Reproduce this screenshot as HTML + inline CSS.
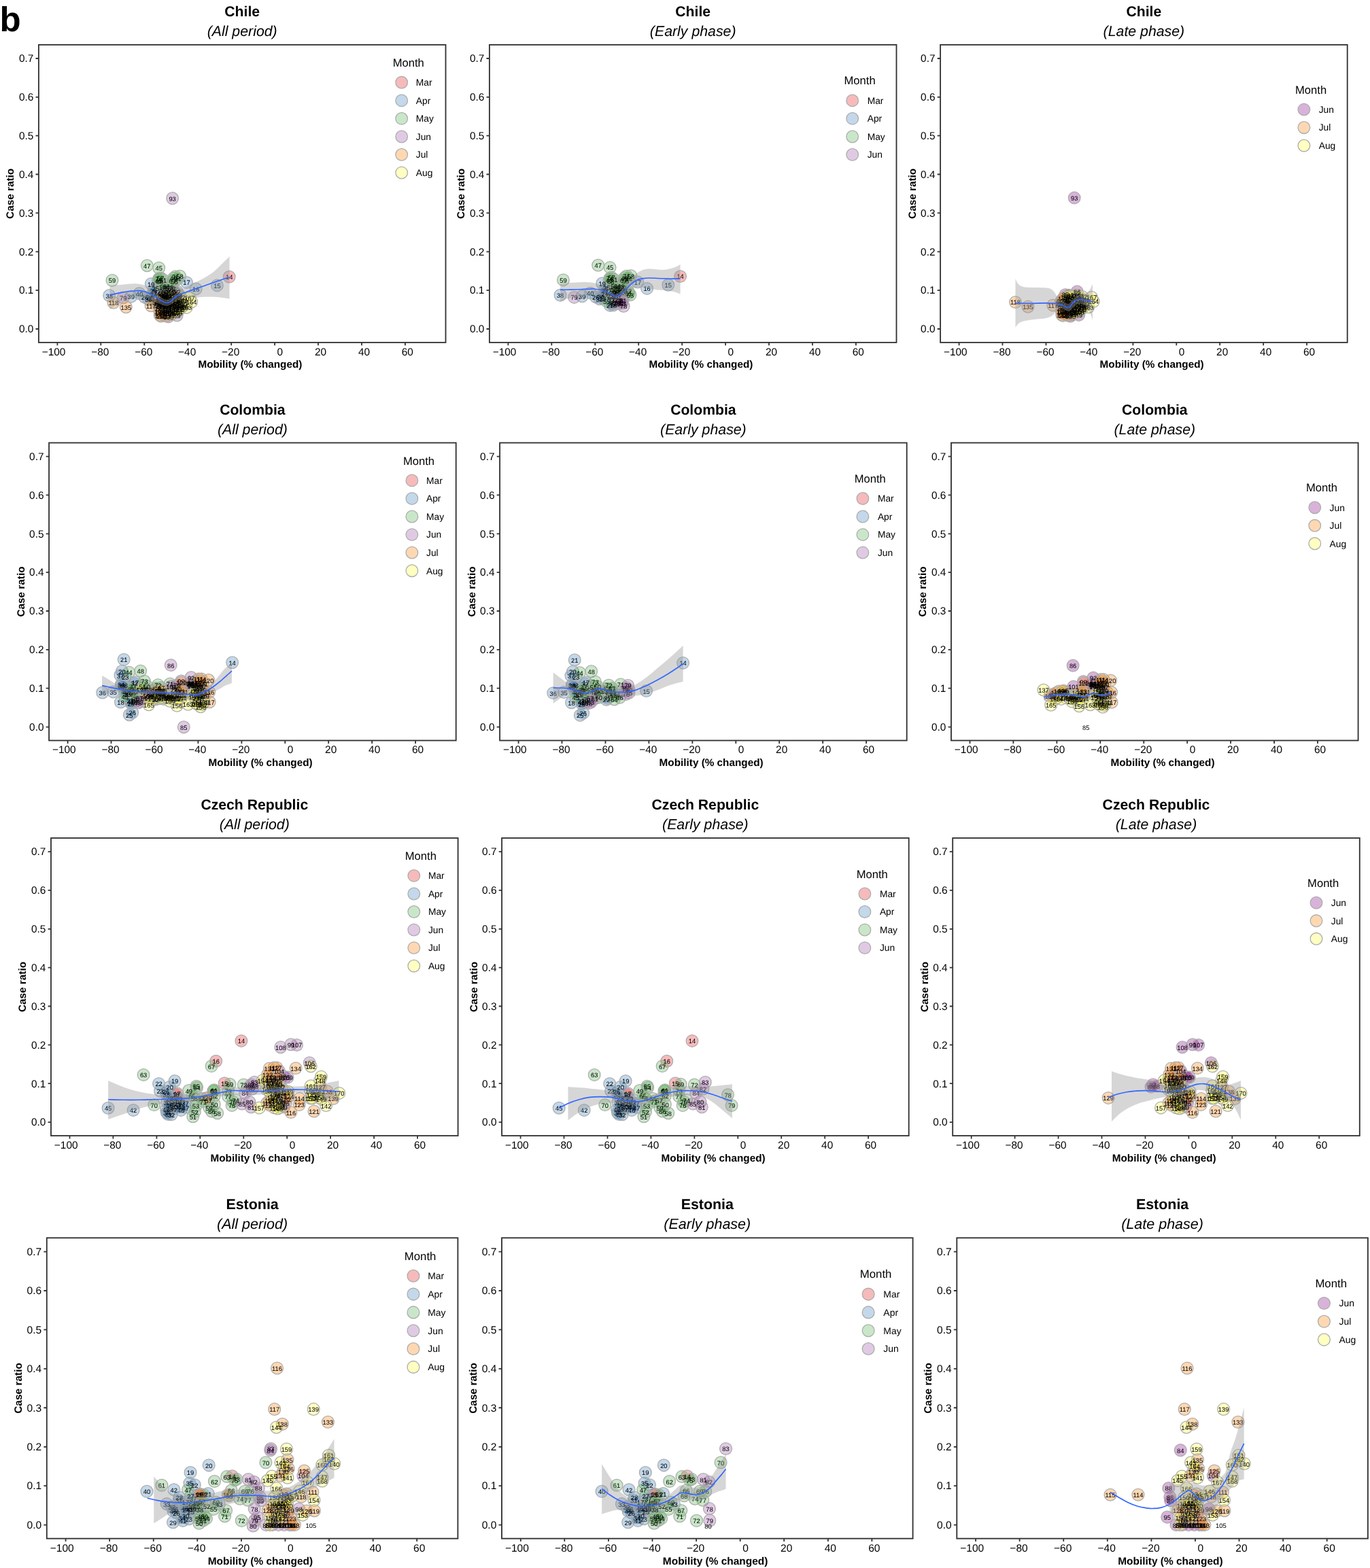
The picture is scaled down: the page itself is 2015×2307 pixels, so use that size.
<!DOCTYPE html>
<html lang="en"><head><meta charset="utf-8"><title>Mobility vs case ratio</title>
<style>html,body{margin:0;padding:0;background:#fff}svg{display:block}text{font-family:"Liberation Sans",Arial,Helvetica,sans-serif;fill:#000;text-rendering:geometricPrecision}.tl{font-size:15.4px}.at{font-size:15.3px;font-weight:bold}.ti{font-size:21.2px;font-weight:bold}.st{font-size:21.3px;font-style:italic}.lt{font-size:16.6px}.ll{font-size:13.8px}.pl text{font-size:9.3px;text-anchor:middle;stroke:#000;stroke-width:0.04px}.pl text.c{fill-opacity:0.93}.big{font-size:51px;font-weight:bold}</style></head><body>
<svg width="2015" height="2307" viewBox="0 0 2015 2307">
<rect width="2015" height="2307" fill="#fff"/>
<text class="big" x="-0.6" y="45.9">b</text>
<g transform="translate(56.9,65.9) scale(1.0)">
<g fill-opacity="0.3" stroke="#adadad" stroke-width="1.25">
<circle cx="280.3" cy="341.3" r="8.85" fill="#E41A1C"/>
<circle cx="262.5" cy="354" r="8.85" fill="#377EB8"/>
<circle cx="231.3" cy="359.1" r="8.85" fill="#377EB8"/>
<circle cx="217.6" cy="349.7" r="8.85" fill="#377EB8"/>
<circle cx="181.6" cy="383.8" r="8.85" fill="#377EB8"/>
<circle cx="165.4" cy="351.7" r="8.85" fill="#377EB8"/>
<circle cx="187" cy="370.8" r="8.85" fill="#377EB8"/>
<circle cx="169.4" cy="366.8" r="8.85" fill="#377EB8"/>
<circle cx="177.6" cy="370" r="8.85" fill="#377EB8"/>
<circle cx="166.2" cy="373.5" r="8.85" fill="#377EB8"/>
<circle cx="174.1" cy="364.7" r="8.85" fill="#377EB8"/>
<circle cx="172.1" cy="357.7" r="8.85" fill="#377EB8"/>
<circle cx="156" cy="371.4" r="8.85" fill="#377EB8"/>
<circle cx="177" cy="384.1" r="8.85" fill="#377EB8"/>
<circle cx="186" cy="381.5" r="8.85" fill="#377EB8"/>
<circle cx="180.9" cy="366" r="8.85" fill="#377EB8"/>
<circle cx="168.9" cy="361.9" r="8.85" fill="#377EB8"/>
<circle cx="179.1" cy="375.5" r="8.85" fill="#377EB8"/>
<circle cx="184" cy="375.9" r="8.85" fill="#377EB8"/>
<circle cx="161.5" cy="374.5" r="8.85" fill="#377EB8"/>
<circle cx="181.2" cy="369.2" r="8.85" fill="#377EB8"/>
<circle cx="179.5" cy="381.9" r="8.85" fill="#377EB8"/>
<circle cx="163.8" cy="371.2" r="8.85" fill="#377EB8"/>
<circle cx="185.6" cy="368.5" r="8.85" fill="#377EB8"/>
<circle cx="103.8" cy="368.9" r="8.85" fill="#377EB8"/>
<circle cx="135.9" cy="370.5" r="8.85" fill="#377EB8"/>
<circle cx="148" cy="365.8" r="8.85" fill="#377EB8"/>
<circle cx="169.6" cy="364.2" r="8.85" fill="#377EB8"/>
<circle cx="182.7" cy="380.2" r="8.85" fill="#377EB8"/>
<circle cx="184.5" cy="370.8" r="8.85" fill="#377EB8"/>
<circle cx="178" cy="367" r="8.85" fill="#377EB8"/>
<circle cx="176.8" cy="328.3" r="8.85" fill="#4DAF4A"/>
<circle cx="175.7" cy="346.9" r="8.85" fill="#4DAF4A"/>
<circle cx="159.4" cy="324.9" r="8.85" fill="#4DAF4A"/>
<circle cx="193.2" cy="355.8" r="8.85" fill="#4DAF4A"/>
<circle cx="198.3" cy="343.5" r="8.85" fill="#4DAF4A"/>
<circle cx="196.9" cy="362.8" r="8.85" fill="#4DAF4A"/>
<circle cx="183" cy="345.8" r="8.85" fill="#4DAF4A"/>
<circle cx="203.6" cy="363.1" r="8.85" fill="#4DAF4A"/>
<circle cx="182.9" cy="356.2" r="8.85" fill="#4DAF4A"/>
<circle cx="204.2" cy="344.5" r="8.85" fill="#4DAF4A"/>
<circle cx="172.2" cy="378.1" r="8.85" fill="#4DAF4A"/>
<circle cx="199.8" cy="348.1" r="8.85" fill="#4DAF4A"/>
<circle cx="179.1" cy="342.8" r="8.85" fill="#4DAF4A"/>
<circle cx="207.6" cy="340.3" r="8.85" fill="#4DAF4A"/>
<circle cx="108.1" cy="346.6" r="8.85" fill="#4DAF4A"/>
<circle cx="185.2" cy="362.8" r="8.85" fill="#4DAF4A"/>
<circle cx="204.5" cy="366.3" r="8.85" fill="#4DAF4A"/>
<circle cx="182.5" cy="359.9" r="8.85" fill="#4DAF4A"/>
<circle cx="206.7" cy="368.4" r="8.85" fill="#4DAF4A"/>
<circle cx="192.9" cy="360.2" r="8.85" fill="#4DAF4A"/>
<circle cx="190" cy="364.5" r="8.85" fill="#4DAF4A"/>
<circle cx="187.7" cy="355.7" r="8.85" fill="#4DAF4A"/>
<circle cx="197" cy="347.1" r="8.85" fill="#4DAF4A"/>
<circle cx="178" cy="348.5" r="8.85" fill="#4DAF4A"/>
<circle cx="188.6" cy="367.7" r="8.85" fill="#4DAF4A"/>
<circle cx="193.6" cy="365.1" r="8.85" fill="#4DAF4A"/>
<circle cx="201.2" cy="341" r="8.85" fill="#4DAF4A"/>
<circle cx="196.3" cy="358.2" r="8.85" fill="#4DAF4A"/>
<circle cx="186.2" cy="365.9" r="8.85" fill="#4DAF4A"/>
<circle cx="176.7" cy="344.1" r="8.85" fill="#4DAF4A"/>
<circle cx="186.4" cy="358.6" r="8.85" fill="#4DAF4A"/>
<circle cx="191.6" cy="377" r="8.85" fill="#984EA3"/>
<circle cx="188.4" cy="377" r="8.85" fill="#984EA3"/>
<circle cx="196.9" cy="385.2" r="8.85" fill="#984EA3"/>
<circle cx="124.3" cy="372.1" r="8.85" fill="#984EA3"/>
<circle cx="191.3" cy="381.1" r="8.85" fill="#984EA3"/>
<circle cx="196" cy="376.5" r="8.85" fill="#984EA3"/>
<circle cx="189" cy="379.5" r="8.85" fill="#984EA3"/>
<circle cx="195" cy="380.5" r="8.85" fill="#984EA3"/>
<circle cx="187.1" cy="393.4" r="8.85" fill="#984EA3"/>
<circle cx="183.5" cy="368.3" r="8.85" fill="#984EA3"/>
<circle cx="200.7" cy="363.7" r="8.85" fill="#984EA3"/>
<circle cx="200.5" cy="388.9" r="8.85" fill="#984EA3"/>
<circle cx="196.7" cy="375.7" r="8.85" fill="#984EA3"/>
<circle cx="203.3" cy="398.1" r="8.85" fill="#984EA3"/>
<circle cx="188.8" cy="386.9" r="8.85" fill="#984EA3"/>
<circle cx="194.7" cy="396.9" r="8.85" fill="#984EA3"/>
<circle cx="195.6" cy="390.9" r="8.85" fill="#984EA3"/>
<circle cx="196.7" cy="225.8" r="8.85" fill="#984EA3"/>
<circle cx="185.4" cy="375.1" r="8.85" fill="#984EA3"/>
<circle cx="201.4" cy="375.2" r="8.85" fill="#984EA3"/>
<circle cx="191.6" cy="379.9" r="8.85" fill="#984EA3"/>
<circle cx="195.8" cy="386.3" r="8.85" fill="#984EA3"/>
<circle cx="187.4" cy="380.2" r="8.85" fill="#984EA3"/>
<circle cx="191.8" cy="392.2" r="8.85" fill="#984EA3"/>
<circle cx="199.5" cy="394.3" r="8.85" fill="#984EA3"/>
<circle cx="203.7" cy="382.9" r="8.85" fill="#984EA3"/>
<circle cx="183.9" cy="385" r="8.85" fill="#984EA3"/>
<circle cx="188.4" cy="368.9" r="8.85" fill="#984EA3"/>
<circle cx="190" cy="395.2" r="8.85" fill="#984EA3"/>
<circle cx="190.8" cy="400" r="8.85" fill="#984EA3"/>
<circle cx="177.9" cy="392.6" r="8.85" fill="#FF7F00"/>
<circle cx="178.2" cy="383.1" r="8.85" fill="#FF7F00"/>
<circle cx="178.6" cy="388.1" r="8.85" fill="#FF7F00"/>
<circle cx="177.6" cy="377.3" r="8.85" fill="#FF7F00"/>
<circle cx="183.6" cy="371.6" r="8.85" fill="#FF7F00"/>
<circle cx="182.6" cy="396.3" r="8.85" fill="#FF7F00"/>
<circle cx="185.1" cy="387.9" r="8.85" fill="#FF7F00"/>
<circle cx="187.9" cy="399" r="8.85" fill="#FF7F00"/>
<circle cx="180.1" cy="399.3" r="8.85" fill="#FF7F00"/>
<circle cx="185.5" cy="397.7" r="8.85" fill="#FF7F00"/>
<circle cx="181.1" cy="392.9" r="8.85" fill="#FF7F00"/>
<circle cx="165.2" cy="383.8" r="8.85" fill="#FF7F00"/>
<circle cx="110" cy="379.3" r="8.85" fill="#FF7F00"/>
<circle cx="189.6" cy="384.7" r="8.85" fill="#FF7F00"/>
<circle cx="180.2" cy="381.8" r="8.85" fill="#FF7F00"/>
<circle cx="190.3" cy="377.2" r="8.85" fill="#FF7F00"/>
<circle cx="188.3" cy="390.1" r="8.85" fill="#FF7F00"/>
<circle cx="182" cy="377.5" r="8.85" fill="#FF7F00"/>
<circle cx="179.6" cy="376.6" r="8.85" fill="#FF7F00"/>
<circle cx="185.1" cy="382.4" r="8.85" fill="#FF7F00"/>
<circle cx="193.3" cy="394.9" r="8.85" fill="#FF7F00"/>
<circle cx="176.3" cy="380.3" r="8.85" fill="#FF7F00"/>
<circle cx="180.6" cy="385.7" r="8.85" fill="#FF7F00"/>
<circle cx="183.6" cy="390.8" r="8.85" fill="#FF7F00"/>
<circle cx="192.9" cy="389.1" r="8.85" fill="#FF7F00"/>
<circle cx="180.2" cy="373.7" r="8.85" fill="#FF7F00"/>
<circle cx="178.3" cy="397.9" r="8.85" fill="#FF7F00"/>
<circle cx="178.9" cy="395.1" r="8.85" fill="#FF7F00"/>
<circle cx="191.9" cy="383.2" r="8.85" fill="#FF7F00"/>
<circle cx="128.4" cy="385.9" r="8.85" fill="#FF7F00"/>
<circle cx="189.8" cy="382.1" r="8.85" fill="#FF7F00"/>
<circle cx="203.9" cy="387.5" r="8.85" fill="#FFFF33"/>
<circle cx="203" cy="369.4" r="8.85" fill="#FFFF33"/>
<circle cx="198.5" cy="368.9" r="8.85" fill="#FFFF33"/>
<circle cx="210.4" cy="381.4" r="8.85" fill="#FFFF33"/>
<circle cx="212" cy="375.4" r="8.85" fill="#FFFF33"/>
<circle cx="208" cy="371.2" r="8.85" fill="#FFFF33"/>
<circle cx="210.1" cy="386.2" r="8.85" fill="#FFFF33"/>
<circle cx="203.6" cy="372.8" r="8.85" fill="#FFFF33"/>
<circle cx="199.7" cy="379.8" r="8.85" fill="#FFFF33"/>
<circle cx="203.4" cy="393.7" r="8.85" fill="#FFFF33"/>
<circle cx="196.4" cy="395.7" r="8.85" fill="#FFFF33"/>
<circle cx="194.2" cy="370.1" r="8.85" fill="#FFFF33"/>
<circle cx="199.5" cy="385.2" r="8.85" fill="#FFFF33"/>
<circle cx="207" cy="389.5" r="8.85" fill="#FFFF33"/>
<circle cx="204.1" cy="379.5" r="8.85" fill="#FFFF33"/>
<circle cx="205.4" cy="376.1" r="8.85" fill="#FFFF33"/>
<circle cx="199.8" cy="372.4" r="8.85" fill="#FFFF33"/>
<circle cx="207" cy="385.5" r="8.85" fill="#FFFF33"/>
<circle cx="192.8" cy="374.5" r="8.85" fill="#FFFF33"/>
<circle cx="207.6" cy="382.3" r="8.85" fill="#FFFF33"/>
<circle cx="189.7" cy="373.7" r="8.85" fill="#FFFF33"/>
<circle cx="198.3" cy="389" r="8.85" fill="#FFFF33"/>
<circle cx="182.7" cy="382.5" r="8.85" fill="#FFFF33"/>
<circle cx="190.8" cy="370.7" r="8.85" fill="#FFFF33"/>
<circle cx="204.6" cy="391.7" r="8.85" fill="#FFFF33"/>
<circle cx="186.7" cy="371.6" r="8.85" fill="#FFFF33"/>
<circle cx="217.4" cy="386.5" r="8.85" fill="#FFFF33"/>
<circle cx="224.8" cy="378.2" r="8.85" fill="#FFFF33"/>
<circle cx="205.3" cy="389.6" r="8.85" fill="#FFFF33"/>
<circle cx="212.7" cy="384" r="8.85" fill="#FFFF33"/>
<circle cx="222.1" cy="372.2" r="8.85" fill="#FFFF33"/>
<circle cx="200.6" cy="377.8" r="8.85" fill="#FFFF33"/>
<circle cx="209.1" cy="377.1" r="8.85" fill="#FFFF33"/>
<circle cx="198.1" cy="383.2" r="8.85" fill="#FFFF33"/>
</g>
<g class="pl">
<text x="280.3" y="345.2">14</text>
<text x="262.5" y="357.9">15</text>
<text x="231.3" y="363">16</text>
<text x="217.6" y="353.6">17</text>
<text class="c" x="181.6" y="387.7">18</text>
<text x="165.4" y="355.7">19</text>
<text class="c" x="187" y="374.8">20</text>
<text class="c" x="169.4" y="370.8">21</text>
<text class="c" x="177.6" y="373.9">22</text>
<text class="c" x="166.2" y="377.5">23</text>
<text class="c" x="174.1" y="368.7">24</text>
<text x="172.1" y="361.7">25</text>
<text x="156" y="375.3">26</text>
<text class="c" x="177" y="388.1">27</text>
<text class="c" x="186" y="385.5">28</text>
<text class="c" x="180.9" y="370">29</text>
<text class="c" x="168.9" y="365.8">30</text>
<text class="c" x="179.1" y="379.5">31</text>
<text class="c" x="184" y="379.9">32</text>
<text class="c" x="161.5" y="378.5">33</text>
<text class="c" x="181.2" y="373.1">34</text>
<text class="c" x="179.5" y="385.9">35</text>
<text class="c" x="163.8" y="375.1">36</text>
<text class="c" x="185.6" y="372.5">37</text>
<text x="103.8" y="372.8">38</text>
<text x="135.9" y="374.4">39</text>
<text x="148" y="369.7">40</text>
<text class="c" x="169.6" y="368.2">41</text>
<text class="c" x="182.7" y="384.2">42</text>
<text class="c" x="184.5" y="374.7">43</text>
<text class="c" x="178" y="370.9">44</text>
<text x="176.8" y="332.2">45</text>
<text class="c" x="175.7" y="350.8">46</text>
<text x="159.4" y="328.9">47</text>
<text class="c" x="193.2" y="359.8">48</text>
<text class="c" x="198.3" y="347.5">49</text>
<text class="c" x="196.9" y="366.8">50</text>
<text class="c" x="183" y="349.8">51</text>
<text class="c" x="203.6" y="367.1">52</text>
<text class="c" x="182.9" y="360.1">53</text>
<text class="c" x="204.2" y="348.4">54</text>
<text class="c" x="172.2" y="382.1">55</text>
<text class="c" x="199.8" y="352">56</text>
<text class="c" x="179.1" y="346.8">57</text>
<text x="207.6" y="344.3">58</text>
<text x="108.1" y="350.6">59</text>
<text class="c" x="185.2" y="366.8">60</text>
<text class="c" x="204.5" y="370.2">61</text>
<text class="c" x="182.5" y="363.9">62</text>
<text x="206.7" y="372.4">63</text>
<text class="c" x="192.9" y="364.1">64</text>
<text class="c" x="190" y="368.4">65</text>
<text class="c" x="187.7" y="359.6">66</text>
<text class="c" x="197" y="351">67</text>
<text class="c" x="178" y="352.5">68</text>
<text class="c" x="188.6" y="371.6">69</text>
<text class="c" x="193.6" y="369">70</text>
<text class="c" x="201.2" y="345">71</text>
<text class="c" x="196.3" y="362.2">72</text>
<text class="c" x="186.2" y="369.9">73</text>
<text class="c" x="176.7" y="348">74</text>
<text class="c" x="186.4" y="362.5">75</text>
<text class="c" x="191.6" y="380.9">76</text>
<text class="c" x="188.4" y="380.9">77</text>
<text x="196.9" y="389.1">78</text>
<text x="124.3" y="376">79</text>
<text class="c" x="191.3" y="385.1">80</text>
<text class="c" x="196" y="380.4">81</text>
<text class="c" x="189" y="383.4">82</text>
<text class="c" x="195" y="384.4">83</text>
<text class="c" x="187.1" y="397.4">84</text>
<text class="c" x="183.5" y="372.2">85</text>
<text x="200.7" y="367.7">86</text>
<text class="c" x="200.5" y="392.9">87</text>
<text class="c" x="196.7" y="379.6">88</text>
<text class="c" x="203.3" y="402.1">89</text>
<text class="c" x="188.8" y="390.9">90</text>
<text class="c" x="194.7" y="400.9">91</text>
<text class="c" x="195.6" y="394.9">92</text>
<text x="196.7" y="229.7">93</text>
<text class="c" x="185.4" y="379">94</text>
<text class="c" x="201.4" y="379.2">95</text>
<text class="c" x="191.6" y="383.9">96</text>
<text class="c" x="195.8" y="390.2">97</text>
<text class="c" x="187.4" y="384.2">98</text>
<text class="c" x="191.8" y="396.2">99</text>
<text class="c" x="199.5" y="398.2">100</text>
<text class="c" x="203.7" y="386.8">101</text>
<text class="c" x="183.9" y="389">102</text>
<text class="c" x="188.4" y="372.9">103</text>
<text class="c" x="190" y="399.1">104</text>
<text class="c" x="190.8" y="404">105</text>
<text class="c" x="177.9" y="396.5">106</text>
<text class="c" x="178.2" y="387">107</text>
<text class="c" x="178.6" y="392">108</text>
<text class="c" x="177.6" y="381.3">109</text>
<text class="c" x="183.6" y="375.5">110</text>
<text class="c" x="182.6" y="400.3">111</text>
<text class="c" x="185.1" y="391.8">112</text>
<text class="c" x="187.9" y="403">113</text>
<text class="c" x="180.1" y="403.2">114</text>
<text class="c" x="185.5" y="401.7">115</text>
<text class="c" x="181.1" y="396.9">116</text>
<text x="165.2" y="387.8">117</text>
<text x="110" y="383.2">118</text>
<text class="c" x="189.6" y="388.6">119</text>
<text class="c" x="180.2" y="385.7">120</text>
<text class="c" x="190.3" y="381.1">121</text>
<text class="c" x="188.3" y="394">122</text>
<text class="c" x="182" y="381.4">123</text>
<text class="c" x="179.6" y="380.6">124</text>
<text class="c" x="185.1" y="386.4">125</text>
<text class="c" x="193.3" y="398.9">126</text>
<text class="c" x="176.3" y="384.3">127</text>
<text class="c" x="180.6" y="389.6">128</text>
<text class="c" x="183.6" y="394.7">129</text>
<text class="c" x="192.9" y="393">130</text>
<text class="c" x="180.2" y="377.7">131</text>
<text class="c" x="178.3" y="401.8">132</text>
<text class="c" x="178.9" y="399">133</text>
<text class="c" x="191.9" y="387.1">134</text>
<text x="128.4" y="389.9">135</text>
<text class="c" x="189.8" y="386">136</text>
<text class="c" x="203.9" y="391.5">137</text>
<text class="c" x="203" y="373.4">138</text>
<text class="c" x="198.5" y="372.8">139</text>
<text class="c" x="210.4" y="385.3">140</text>
<text class="c" x="212" y="379.4">141</text>
<text class="c" x="208" y="375.1">142</text>
<text class="c" x="210.1" y="390.1">143</text>
<text class="c" x="203.6" y="376.7">144</text>
<text class="c" x="199.7" y="383.8">145</text>
<text class="c" x="203.4" y="397.7">146</text>
<text class="c" x="196.4" y="399.6">147</text>
<text class="c" x="194.2" y="374.1">148</text>
<text class="c" x="199.5" y="389.2">149</text>
<text class="c" x="207" y="393.4">150</text>
<text class="c" x="204.1" y="383.5">151</text>
<text class="c" x="205.4" y="380.1">152</text>
<text class="c" x="199.8" y="376.3">153</text>
<text class="c" x="207" y="389.4">154</text>
<text class="c" x="192.8" y="378.5">155</text>
<text class="c" x="207.6" y="386.3">156</text>
<text class="c" x="189.7" y="377.7">157</text>
<text class="c" x="198.3" y="392.9">158</text>
<text class="c" x="182.7" y="386.4">159</text>
<text class="c" x="190.8" y="374.7">160</text>
<text class="c" x="204.6" y="395.7">161</text>
<text class="c" x="186.7" y="375.5">162</text>
<text x="217.4" y="390.4">163</text>
<text x="224.8" y="382.1">164</text>
<text class="c" x="205.3" y="393.5">165</text>
<text class="c" x="212.7" y="387.9">166</text>
<text x="222.1" y="376.1">167</text>
<text class="c" x="200.6" y="381.8">168</text>
<text class="c" x="209.1" y="381.1">169</text>
<text class="c" x="198.1" y="387.2">170</text>
</g>
<path d="M104.5 354.1 C107.7 353.9 116.8 353.3 123.3 352.8 C129.8 352.4 137.6 351.1 143.4 351.5 C149.2 351.8 153.6 352.7 158.1 354.8 C162.6 356.9 166.1 361.2 170.2 364.2 C174.2 367.2 179.2 371.1 182.2 372.9 C185.2 374.7 186.2 374.9 188.2 374.9 C190.2 374.9 191.7 374.7 194.3 372.9 C196.8 371.1 199.8 367.1 203.6 364.2 C207.4 361.3 212.6 357.9 217 355.5 C221.5 353 226 351.6 230.4 349.5 C234.9 347.3 239.3 345.3 243.8 342.8 C248.3 340.2 252.7 337.6 257.2 334.1 C261.7 330.5 266.7 325.1 270.6 321.3 C274.5 317.5 279 313 280.6 311.3 L280.6 373.8 C279 373.6 274.5 372.7 270.6 372.2 C266.7 371.7 261.7 371.1 257.2 370.9 C252.7 370.7 248.3 370.7 243.8 370.9 C239.3 371.1 234.9 371.6 230.4 372 C226 372.3 221.5 372.2 217 372.9 C212.6 373.6 207.4 374.7 203.6 376.2 C199.8 377.8 196.8 380.9 194.3 382.3 C191.7 383.6 190.2 384.2 188.2 384.3 C186.2 384.4 185.2 384.1 182.2 382.9 C179.2 381.8 174.2 379.4 170.2 377.6 C166.1 375.8 162.6 373.2 158.1 372.2 C153.6 371.2 148.1 371.1 143.4 371.6 C138.7 372 134.4 373.2 130 374.9 C125.5 376.6 120.8 379.1 116.6 381.6 C112.3 384.1 106.5 388.3 104.5 389.6 Z" fill="#999999" fill-opacity="0.4"/>
<path d="M104.5 368.2 C106.5 367.8 112.3 366.4 116.6 365.5 C120.8 364.7 125.5 363.7 130 363.1 C134.4 362.5 139.3 361.9 143.4 361.8 C147.4 361.7 150.7 361.8 154.1 362.6 C157.4 363.3 160.1 364.6 163.5 366.2 C166.8 367.8 171 370.3 174.2 372.2 C177.3 374.1 179.9 376.4 182.2 377.6 C184.6 378.8 186.2 379.6 188.2 379.6 C190.2 379.6 192.1 379 194.3 377.6 C196.4 376.1 198.3 372.8 201 370.9 C203.6 369 206.5 367.8 210.3 366.2 C214.1 364.6 219.3 363.1 223.7 361.5 C228.2 359.9 232.7 358.4 237.1 356.8 C241.6 355.3 246 353.7 250.5 352.1 C255 350.6 260.1 348.8 263.9 347.4 C267.7 346.1 270.5 345 273.3 344.1 C276.1 343.2 279.4 342.4 280.6 342.1" fill="none" stroke="#3366FF" stroke-width="1.65" stroke-linejoin="round"/>
<rect x="0" y="0" width="598.6" height="438.0" fill="none" stroke="#333" stroke-width="1.85"/>
<text class="tl" text-anchor="end" transform="translate(-7.6,25.4) scale(1,1)">0.7</text>
<text class="tl" text-anchor="end" transform="translate(-7.6,82.2) scale(1,1)">0.6</text>
<text class="tl" text-anchor="end" transform="translate(-7.6,139.1) scale(1,1)">0.5</text>
<text class="tl" text-anchor="end" transform="translate(-7.6,195.9) scale(1,1)">0.4</text>
<text class="tl" text-anchor="end" transform="translate(-7.6,252.8) scale(1,1)">0.3</text>
<text class="tl" text-anchor="end" transform="translate(-7.6,309.7) scale(1,1)">0.2</text>
<text class="tl" text-anchor="end" transform="translate(-7.6,366.5) scale(1,1)">0.1</text>
<text class="tl" text-anchor="end" transform="translate(-7.6,423.4) scale(1,1)">0.0</text>
<text class="tl" text-anchor="end" transform="translate(39.5,456.9) scale(1,1)">−100</text>
<text class="tl" text-anchor="end" transform="translate(103.4,456.9) scale(1,1)">−80</text>
<text class="tl" text-anchor="end" transform="translate(167.4,456.9) scale(1,1)">−60</text>
<text class="tl" text-anchor="end" transform="translate(231.3,456.9) scale(1,1)">−40</text>
<text class="tl" text-anchor="end" transform="translate(295.3,456.9) scale(1,1)">−20</text>
<text class="tl" text-anchor="end" transform="translate(359.2,456.9) scale(1,1)">0</text>
<text class="tl" text-anchor="end" transform="translate(423.1,456.9) scale(1,1)">20</text>
<text class="tl" text-anchor="end" transform="translate(487.1,456.9) scale(1,1)">40</text>
<text class="tl" text-anchor="end" transform="translate(551,456.9) scale(1,1)">60</text>
<path d="M-4.4 20.1 H0 M-4.4 76.9 H0 M-4.4 133.8 H0 M-4.4 190.6 H0 M-4.4 247.5 H0 M-4.4 304.4 H0 M-4.4 361.2 H0 M-4.4 418.1 H0 M27.5 438.0 v4.4 M91.4 438.0 v4.4 M155.4 438.0 v4.4 M219.3 438.0 v4.4 M283.3 438.0 v4.4 M347.2 438.0 v4.4 M411.1 438.0 v4.4 M475.1 438.0 v4.4 M539 438.0 v4.4" stroke="#333" stroke-width="1.8" fill="none"/>
<text class="at" text-anchor="end" x="387.5" y="475.6">Mobility (% changed)</text>
<text class="at" text-anchor="middle" transform="translate(-36.6,219) rotate(-90)">Case ratio</text>
<text class="ti" text-anchor="middle" x="299.3" y="-41.9">Chile</text>
<text class="st" text-anchor="middle" x="299.3" y="-13.2">(All period)</text>
<text class="lt" x="520.8" y="32">Month</text>
<circle cx="533.8" cy="55.4" r="8.8" fill="#E41A1C" fill-opacity="0.3" stroke="#adadad" stroke-width="1.3"/>
<text class="ll" x="554.9" y="60.2">Mar</text>
<circle cx="533.8" cy="82" r="8.8" fill="#377EB8" fill-opacity="0.3" stroke="#adadad" stroke-width="1.3"/>
<text class="ll" x="554.9" y="86.8">Apr</text>
<circle cx="533.8" cy="108.5" r="8.8" fill="#4DAF4A" fill-opacity="0.3" stroke="#adadad" stroke-width="1.3"/>
<text class="ll" x="554.9" y="113.3">May</text>
<circle cx="533.8" cy="135.1" r="8.8" fill="#984EA3" fill-opacity="0.3" stroke="#adadad" stroke-width="1.3"/>
<text class="ll" x="554.9" y="139.9">Jun</text>
<circle cx="533.8" cy="161.6" r="8.8" fill="#FF7F00" fill-opacity="0.3" stroke="#adadad" stroke-width="1.3"/>
<text class="ll" x="554.9" y="166.4">Jul</text>
<circle cx="533.8" cy="188.2" r="8.8" fill="#FFFF33" fill-opacity="0.3" stroke="#adadad" stroke-width="1.3"/>
<text class="ll" x="554.9" y="193">Aug</text>
</g>
<g transform="translate(719.9,65.9) scale(1.0)">
<g fill-opacity="0.3" stroke="#adadad" stroke-width="1.25">
<circle cx="280.7" cy="340.7" r="8.85" fill="#E41A1C"/>
<circle cx="262.9" cy="353.4" r="8.85" fill="#377EB8"/>
<circle cx="231.7" cy="358.5" r="8.85" fill="#377EB8"/>
<circle cx="218" cy="349.1" r="8.85" fill="#377EB8"/>
<circle cx="182" cy="383.2" r="8.85" fill="#377EB8"/>
<circle cx="165.8" cy="351.1" r="8.85" fill="#377EB8"/>
<circle cx="187.4" cy="370.2" r="8.85" fill="#377EB8"/>
<circle cx="169.8" cy="366.2" r="8.85" fill="#377EB8"/>
<circle cx="178" cy="369.4" r="8.85" fill="#377EB8"/>
<circle cx="166.6" cy="372.9" r="8.85" fill="#377EB8"/>
<circle cx="174.5" cy="364.1" r="8.85" fill="#377EB8"/>
<circle cx="172.5" cy="357.1" r="8.85" fill="#377EB8"/>
<circle cx="156.4" cy="370.8" r="8.85" fill="#377EB8"/>
<circle cx="177.4" cy="383.5" r="8.85" fill="#377EB8"/>
<circle cx="186.4" cy="380.9" r="8.85" fill="#377EB8"/>
<circle cx="181.3" cy="365.4" r="8.85" fill="#377EB8"/>
<circle cx="169.3" cy="361.3" r="8.85" fill="#377EB8"/>
<circle cx="179.5" cy="374.9" r="8.85" fill="#377EB8"/>
<circle cx="184.4" cy="375.3" r="8.85" fill="#377EB8"/>
<circle cx="161.9" cy="373.9" r="8.85" fill="#377EB8"/>
<circle cx="181.6" cy="368.6" r="8.85" fill="#377EB8"/>
<circle cx="179.9" cy="381.3" r="8.85" fill="#377EB8"/>
<circle cx="164.2" cy="370.6" r="8.85" fill="#377EB8"/>
<circle cx="186" cy="367.9" r="8.85" fill="#377EB8"/>
<circle cx="104.2" cy="368.3" r="8.85" fill="#377EB8"/>
<circle cx="136.3" cy="369.9" r="8.85" fill="#377EB8"/>
<circle cx="148.4" cy="365.2" r="8.85" fill="#377EB8"/>
<circle cx="170" cy="363.6" r="8.85" fill="#377EB8"/>
<circle cx="183.1" cy="379.6" r="8.85" fill="#377EB8"/>
<circle cx="184.9" cy="370.2" r="8.85" fill="#377EB8"/>
<circle cx="178.4" cy="366.4" r="8.85" fill="#377EB8"/>
<circle cx="177.2" cy="327.7" r="8.85" fill="#4DAF4A"/>
<circle cx="176.1" cy="346.3" r="8.85" fill="#4DAF4A"/>
<circle cx="159.8" cy="324.3" r="8.85" fill="#4DAF4A"/>
<circle cx="193.6" cy="355.2" r="8.85" fill="#4DAF4A"/>
<circle cx="198.7" cy="342.9" r="8.85" fill="#4DAF4A"/>
<circle cx="197.3" cy="362.2" r="8.85" fill="#4DAF4A"/>
<circle cx="183.4" cy="345.2" r="8.85" fill="#4DAF4A"/>
<circle cx="204" cy="362.5" r="8.85" fill="#4DAF4A"/>
<circle cx="183.3" cy="355.6" r="8.85" fill="#4DAF4A"/>
<circle cx="204.6" cy="343.9" r="8.85" fill="#4DAF4A"/>
<circle cx="172.6" cy="377.5" r="8.85" fill="#4DAF4A"/>
<circle cx="200.2" cy="347.5" r="8.85" fill="#4DAF4A"/>
<circle cx="179.5" cy="342.2" r="8.85" fill="#4DAF4A"/>
<circle cx="208" cy="339.7" r="8.85" fill="#4DAF4A"/>
<circle cx="108.5" cy="346" r="8.85" fill="#4DAF4A"/>
<circle cx="185.6" cy="362.2" r="8.85" fill="#4DAF4A"/>
<circle cx="204.9" cy="365.7" r="8.85" fill="#4DAF4A"/>
<circle cx="182.9" cy="359.3" r="8.85" fill="#4DAF4A"/>
<circle cx="207.1" cy="367.8" r="8.85" fill="#4DAF4A"/>
<circle cx="193.3" cy="359.6" r="8.85" fill="#4DAF4A"/>
<circle cx="190.4" cy="363.9" r="8.85" fill="#4DAF4A"/>
<circle cx="188.1" cy="355.1" r="8.85" fill="#4DAF4A"/>
<circle cx="197.4" cy="346.5" r="8.85" fill="#4DAF4A"/>
<circle cx="178.4" cy="347.9" r="8.85" fill="#4DAF4A"/>
<circle cx="189" cy="367.1" r="8.85" fill="#4DAF4A"/>
<circle cx="194" cy="364.5" r="8.85" fill="#4DAF4A"/>
<circle cx="201.6" cy="340.4" r="8.85" fill="#4DAF4A"/>
<circle cx="196.7" cy="357.6" r="8.85" fill="#4DAF4A"/>
<circle cx="186.6" cy="365.3" r="8.85" fill="#4DAF4A"/>
<circle cx="177.1" cy="343.5" r="8.85" fill="#4DAF4A"/>
<circle cx="186.8" cy="358" r="8.85" fill="#4DAF4A"/>
<circle cx="192" cy="376.4" r="8.85" fill="#984EA3"/>
<circle cx="188.8" cy="376.4" r="8.85" fill="#984EA3"/>
<circle cx="197.3" cy="384.6" r="8.85" fill="#984EA3"/>
<circle cx="124.7" cy="371.5" r="8.85" fill="#984EA3"/>
<circle cx="191.7" cy="380.5" r="8.85" fill="#984EA3"/>
<circle cx="196.4" cy="375.9" r="8.85" fill="#984EA3"/>
<circle cx="189.4" cy="378.9" r="8.85" fill="#984EA3"/>
<circle cx="195.4" cy="379.9" r="8.85" fill="#984EA3"/>
</g>
<g class="pl">
<text x="280.7" y="344.6">14</text>
<text x="262.9" y="357.3">15</text>
<text x="231.7" y="362.4">16</text>
<text x="218" y="353">17</text>
<text class="c" x="182" y="387.1">18</text>
<text x="165.8" y="355.1">19</text>
<text class="c" x="187.4" y="374.2">20</text>
<text class="c" x="169.8" y="370.2">21</text>
<text class="c" x="178" y="373.3">22</text>
<text class="c" x="166.6" y="376.9">23</text>
<text class="c" x="174.5" y="368.1">24</text>
<text x="172.5" y="361.1">25</text>
<text x="156.4" y="374.7">26</text>
<text class="c" x="177.4" y="387.5">27</text>
<text class="c" x="186.4" y="384.9">28</text>
<text class="c" x="181.3" y="369.4">29</text>
<text class="c" x="169.3" y="365.2">30</text>
<text class="c" x="179.5" y="378.9">31</text>
<text class="c" x="184.4" y="379.3">32</text>
<text class="c" x="161.9" y="377.9">33</text>
<text class="c" x="181.6" y="372.5">34</text>
<text class="c" x="179.9" y="385.3">35</text>
<text class="c" x="164.2" y="374.5">36</text>
<text class="c" x="186" y="371.9">37</text>
<text x="104.2" y="372.2">38</text>
<text x="136.3" y="373.8">39</text>
<text x="148.4" y="369.1">40</text>
<text class="c" x="170" y="367.6">41</text>
<text class="c" x="183.1" y="383.6">42</text>
<text class="c" x="184.9" y="374.1">43</text>
<text class="c" x="178.4" y="370.3">44</text>
<text x="177.2" y="331.6">45</text>
<text class="c" x="176.1" y="350.2">46</text>
<text x="159.8" y="328.3">47</text>
<text class="c" x="193.6" y="359.2">48</text>
<text class="c" x="198.7" y="346.9">49</text>
<text class="c" x="197.3" y="366.2">50</text>
<text class="c" x="183.4" y="349.2">51</text>
<text class="c" x="204" y="366.5">52</text>
<text class="c" x="183.3" y="359.5">53</text>
<text class="c" x="204.6" y="347.8">54</text>
<text class="c" x="172.6" y="381.5">55</text>
<text class="c" x="200.2" y="351.4">56</text>
<text class="c" x="179.5" y="346.2">57</text>
<text x="208" y="343.7">58</text>
<text x="108.5" y="350">59</text>
<text class="c" x="185.6" y="366.2">60</text>
<text class="c" x="204.9" y="369.6">61</text>
<text class="c" x="182.9" y="363.3">62</text>
<text x="207.1" y="371.8">63</text>
<text class="c" x="193.3" y="363.5">64</text>
<text class="c" x="190.4" y="367.8">65</text>
<text class="c" x="188.1" y="359">66</text>
<text class="c" x="197.4" y="350.4">67</text>
<text class="c" x="178.4" y="351.9">68</text>
<text class="c" x="189" y="371">69</text>
<text class="c" x="194" y="368.4">70</text>
<text class="c" x="201.6" y="344.4">71</text>
<text class="c" x="196.7" y="361.6">72</text>
<text class="c" x="186.6" y="369.3">73</text>
<text class="c" x="177.1" y="347.4">74</text>
<text class="c" x="186.8" y="361.9">75</text>
<text class="c" x="192" y="380.3">76</text>
<text class="c" x="188.8" y="380.3">77</text>
<text x="197.3" y="388.5">78</text>
<text x="124.7" y="375.4">79</text>
<text class="c" x="191.7" y="384.5">80</text>
<text class="c" x="196.4" y="379.8">81</text>
<text class="c" x="189.4" y="382.8">82</text>
<text class="c" x="195.4" y="383.8">83</text>
</g>
<path d="M104.2 351.1 C106.9 351 114.3 350.5 120.3 350.2 C126.3 349.8 134.1 348.9 140.4 349.1 C146.6 349.3 152.2 349.6 157.8 351.5 C163.4 353.4 169.1 358 173.8 360.5 C178.6 363 182.6 367.1 186.6 366.5 C190.6 366 194.5 360.5 198 357.1 C201.4 353.8 204.7 349.5 207.3 346.4 C210 343.3 211.6 340.7 214 338.4 C216.5 336.1 218.7 334.2 222.1 332.8 C225.4 331.3 228.8 330 234.1 329.7 C239.5 329.4 248.6 331.1 254.2 331 C259.8 330.9 264.3 329.7 267.6 329 C270.9 328.3 272.1 327.6 274.3 326.6 C276.5 325.6 279.7 323.6 280.7 323 L280.7 366.5 C278.5 365.8 274.3 363.6 267.6 362.5 C260.9 361.4 247.5 360.7 240.8 359.8 C234.1 358.9 231.9 357.5 227.4 357.1 C223 356.7 217.2 356.8 214 357.4 C210.9 358 210.9 358.7 208.7 360.5 C206.4 362.2 203.1 365.8 200.6 367.8 C198.2 369.9 196.3 371.4 193.9 372.5 C191.6 373.7 189.5 374.7 186.6 374.5 C183.7 374.4 179.8 372.9 176.5 371.9 C173.3 370.9 170.9 369.2 167.2 368.5 C163.4 367.8 159.3 367.5 153.8 367.8 C148.2 368.2 140.4 369.5 133.7 370.5 C127 371.5 118.5 372.6 113.6 373.9 C108.7 375.1 105.8 377.2 104.2 377.9 Z" fill="#999999" fill-opacity="0.4"/>
<path d="M104.2 360.5 C106.9 360.4 115.4 360.3 120.3 360.2 C125.2 360.1 129.2 360 133.7 359.8 C138.1 359.7 143.5 359.4 147.1 359.3 C150.6 359.2 151.8 358.9 155.1 359.3 C158.4 359.6 163.6 360.3 167.2 361.4 C170.7 362.5 173.8 364.5 176.5 365.8 C179.2 367.1 181.6 368.5 183.2 369.2 C184.9 369.9 185.5 370.3 186.6 370.3 C187.7 370.3 188.7 369.8 189.9 369.2 C191.1 368.6 192.2 368.1 193.9 366.5 C195.7 364.9 198.2 362.3 200.6 359.8 C203.1 357.4 206 354 208.7 351.8 C211.3 349.5 214 347.7 216.7 346.4 C219.4 345.1 221.6 344.6 224.7 344 C227.9 343.5 230.5 343.1 235.5 343.1 C240.4 343.1 248.8 343.7 254.2 343.9 C259.6 344.1 263.2 344.2 267.6 344.3 C272 344.3 278.5 344.2 280.7 344.1" fill="none" stroke="#3366FF" stroke-width="1.65" stroke-linejoin="round"/>
<rect x="0" y="0" width="598.6" height="438.0" fill="none" stroke="#333" stroke-width="1.85"/>
<text class="tl" text-anchor="end" transform="translate(-7.6,25.4) scale(1,1)">0.7</text>
<text class="tl" text-anchor="end" transform="translate(-7.6,82.2) scale(1,1)">0.6</text>
<text class="tl" text-anchor="end" transform="translate(-7.6,139.1) scale(1,1)">0.5</text>
<text class="tl" text-anchor="end" transform="translate(-7.6,195.9) scale(1,1)">0.4</text>
<text class="tl" text-anchor="end" transform="translate(-7.6,252.8) scale(1,1)">0.3</text>
<text class="tl" text-anchor="end" transform="translate(-7.6,309.7) scale(1,1)">0.2</text>
<text class="tl" text-anchor="end" transform="translate(-7.6,366.5) scale(1,1)">0.1</text>
<text class="tl" text-anchor="end" transform="translate(-7.6,423.4) scale(1,1)">0.0</text>
<text class="tl" text-anchor="end" transform="translate(39.5,456.9) scale(1,1)">−100</text>
<text class="tl" text-anchor="end" transform="translate(103.4,456.9) scale(1,1)">−80</text>
<text class="tl" text-anchor="end" transform="translate(167.4,456.9) scale(1,1)">−60</text>
<text class="tl" text-anchor="end" transform="translate(231.3,456.9) scale(1,1)">−40</text>
<text class="tl" text-anchor="end" transform="translate(295.3,456.9) scale(1,1)">−20</text>
<text class="tl" text-anchor="end" transform="translate(359.2,456.9) scale(1,1)">0</text>
<text class="tl" text-anchor="end" transform="translate(423.1,456.9) scale(1,1)">20</text>
<text class="tl" text-anchor="end" transform="translate(487.1,456.9) scale(1,1)">40</text>
<text class="tl" text-anchor="end" transform="translate(551,456.9) scale(1,1)">60</text>
<path d="M-4.4 20.1 H0 M-4.4 76.9 H0 M-4.4 133.8 H0 M-4.4 190.6 H0 M-4.4 247.5 H0 M-4.4 304.4 H0 M-4.4 361.2 H0 M-4.4 418.1 H0 M27.5 438.0 v4.4 M91.4 438.0 v4.4 M155.4 438.0 v4.4 M219.3 438.0 v4.4 M283.3 438.0 v4.4 M347.2 438.0 v4.4 M411.1 438.0 v4.4 M475.1 438.0 v4.4 M539 438.0 v4.4" stroke="#333" stroke-width="1.8" fill="none"/>
<text class="at" text-anchor="end" x="387.5" y="475.6">Mobility (% changed)</text>
<text class="at" text-anchor="middle" transform="translate(-36.6,219) rotate(-90)">Case ratio</text>
<text class="ti" text-anchor="middle" x="299.3" y="-41.9">Chile</text>
<text class="st" text-anchor="middle" x="299.3" y="-13.2">(Early phase)</text>
<text class="lt" x="521.6" y="58.5">Month</text>
<circle cx="533.8" cy="82" r="8.8" fill="#E41A1C" fill-opacity="0.3" stroke="#adadad" stroke-width="1.3"/>
<text class="ll" x="555.8" y="86.8">Mar</text>
<circle cx="533.8" cy="108.5" r="8.8" fill="#377EB8" fill-opacity="0.3" stroke="#adadad" stroke-width="1.3"/>
<text class="ll" x="555.8" y="113.3">Apr</text>
<circle cx="533.8" cy="135.1" r="8.8" fill="#4DAF4A" fill-opacity="0.3" stroke="#adadad" stroke-width="1.3"/>
<text class="ll" x="555.8" y="139.9">May</text>
<circle cx="533.8" cy="161.6" r="8.8" fill="#984EA3" fill-opacity="0.3" stroke="#adadad" stroke-width="1.3"/>
<text class="ll" x="555.8" y="166.4">Jun</text>
</g>
<g transform="translate(1383.1,65.9) scale(1.0)">
<g fill-opacity="0.3" stroke="#adadad" stroke-width="1.25">
<circle cx="187.5" cy="392.8" r="8.85" fill="#800080"/>
<circle cx="183.9" cy="367.7" r="8.85" fill="#800080"/>
<circle cx="201.1" cy="363.1" r="8.85" fill="#800080"/>
<circle cx="200.9" cy="388.3" r="8.85" fill="#800080"/>
<circle cx="197.1" cy="375.1" r="8.85" fill="#800080"/>
<circle cx="203.7" cy="397.5" r="8.85" fill="#800080"/>
<circle cx="189.2" cy="386.3" r="8.85" fill="#800080"/>
<circle cx="195.1" cy="396.3" r="8.85" fill="#800080"/>
<circle cx="196" cy="390.3" r="8.85" fill="#800080"/>
<circle cx="197.1" cy="225.2" r="8.85" fill="#800080"/>
<circle cx="185.8" cy="374.5" r="8.85" fill="#800080"/>
<circle cx="201.8" cy="374.6" r="8.85" fill="#800080"/>
<circle cx="192" cy="379.3" r="8.85" fill="#800080"/>
<circle cx="196.2" cy="385.7" r="8.85" fill="#800080"/>
<circle cx="187.8" cy="379.6" r="8.85" fill="#800080"/>
<circle cx="192.2" cy="391.6" r="8.85" fill="#800080"/>
<circle cx="199.9" cy="393.7" r="8.85" fill="#800080"/>
<circle cx="204.1" cy="382.3" r="8.85" fill="#800080"/>
<circle cx="184.3" cy="384.4" r="8.85" fill="#800080"/>
<circle cx="188.8" cy="368.3" r="8.85" fill="#800080"/>
<circle cx="190.4" cy="394.6" r="8.85" fill="#800080"/>
<circle cx="191.2" cy="399.4" r="8.85" fill="#800080"/>
<circle cx="178.3" cy="392" r="8.85" fill="#FF7F00"/>
<circle cx="178.6" cy="382.5" r="8.85" fill="#FF7F00"/>
<circle cx="179" cy="387.5" r="8.85" fill="#FF7F00"/>
<circle cx="178" cy="376.7" r="8.85" fill="#FF7F00"/>
<circle cx="184" cy="371" r="8.85" fill="#FF7F00"/>
<circle cx="183" cy="395.7" r="8.85" fill="#FF7F00"/>
<circle cx="185.5" cy="387.3" r="8.85" fill="#FF7F00"/>
<circle cx="188.3" cy="398.4" r="8.85" fill="#FF7F00"/>
<circle cx="180.5" cy="398.7" r="8.85" fill="#FF7F00"/>
<circle cx="185.9" cy="397.1" r="8.85" fill="#FF7F00"/>
<circle cx="181.5" cy="392.3" r="8.85" fill="#FF7F00"/>
<circle cx="165.6" cy="383.2" r="8.85" fill="#FF7F00"/>
<circle cx="110.4" cy="378.7" r="8.85" fill="#FF7F00"/>
<circle cx="190" cy="384.1" r="8.85" fill="#FF7F00"/>
<circle cx="180.6" cy="381.2" r="8.85" fill="#FF7F00"/>
<circle cx="190.7" cy="376.6" r="8.85" fill="#FF7F00"/>
<circle cx="188.7" cy="389.5" r="8.85" fill="#FF7F00"/>
<circle cx="182.4" cy="376.9" r="8.85" fill="#FF7F00"/>
<circle cx="180" cy="376" r="8.85" fill="#FF7F00"/>
<circle cx="185.5" cy="381.8" r="8.85" fill="#FF7F00"/>
<circle cx="193.7" cy="394.3" r="8.85" fill="#FF7F00"/>
<circle cx="176.7" cy="379.7" r="8.85" fill="#FF7F00"/>
<circle cx="181" cy="385.1" r="8.85" fill="#FF7F00"/>
<circle cx="184" cy="390.2" r="8.85" fill="#FF7F00"/>
<circle cx="193.3" cy="388.5" r="8.85" fill="#FF7F00"/>
<circle cx="180.6" cy="373.1" r="8.85" fill="#FF7F00"/>
<circle cx="178.7" cy="397.3" r="8.85" fill="#FF7F00"/>
<circle cx="179.3" cy="394.5" r="8.85" fill="#FF7F00"/>
<circle cx="192.3" cy="382.6" r="8.85" fill="#FF7F00"/>
<circle cx="128.8" cy="385.3" r="8.85" fill="#FF7F00"/>
<circle cx="190.2" cy="381.5" r="8.85" fill="#FF7F00"/>
<circle cx="204.3" cy="386.9" r="8.85" fill="#FFFF33"/>
<circle cx="203.4" cy="368.8" r="8.85" fill="#FFFF33"/>
<circle cx="198.9" cy="368.3" r="8.85" fill="#FFFF33"/>
<circle cx="210.8" cy="380.8" r="8.85" fill="#FFFF33"/>
<circle cx="212.4" cy="374.8" r="8.85" fill="#FFFF33"/>
<circle cx="208.4" cy="370.6" r="8.85" fill="#FFFF33"/>
<circle cx="210.5" cy="385.6" r="8.85" fill="#FFFF33"/>
<circle cx="204" cy="372.2" r="8.85" fill="#FFFF33"/>
<circle cx="200.1" cy="379.2" r="8.85" fill="#FFFF33"/>
<circle cx="203.8" cy="393.1" r="8.85" fill="#FFFF33"/>
<circle cx="196.8" cy="395.1" r="8.85" fill="#FFFF33"/>
<circle cx="194.6" cy="369.5" r="8.85" fill="#FFFF33"/>
<circle cx="199.9" cy="384.6" r="8.85" fill="#FFFF33"/>
<circle cx="207.4" cy="388.9" r="8.85" fill="#FFFF33"/>
<circle cx="204.5" cy="378.9" r="8.85" fill="#FFFF33"/>
<circle cx="205.8" cy="375.5" r="8.85" fill="#FFFF33"/>
<circle cx="200.2" cy="371.8" r="8.85" fill="#FFFF33"/>
<circle cx="207.4" cy="384.9" r="8.85" fill="#FFFF33"/>
<circle cx="193.2" cy="373.9" r="8.85" fill="#FFFF33"/>
<circle cx="208" cy="381.7" r="8.85" fill="#FFFF33"/>
<circle cx="190.1" cy="373.1" r="8.85" fill="#FFFF33"/>
<circle cx="198.7" cy="388.4" r="8.85" fill="#FFFF33"/>
<circle cx="183.1" cy="381.9" r="8.85" fill="#FFFF33"/>
<circle cx="191.2" cy="370.1" r="8.85" fill="#FFFF33"/>
<circle cx="205" cy="391.1" r="8.85" fill="#FFFF33"/>
<circle cx="187.1" cy="371" r="8.85" fill="#FFFF33"/>
<circle cx="217.8" cy="385.9" r="8.85" fill="#FFFF33"/>
<circle cx="225.2" cy="377.6" r="8.85" fill="#FFFF33"/>
<circle cx="205.7" cy="389" r="8.85" fill="#FFFF33"/>
<circle cx="213.1" cy="383.4" r="8.85" fill="#FFFF33"/>
<circle cx="222.5" cy="371.6" r="8.85" fill="#FFFF33"/>
<circle cx="201" cy="377.2" r="8.85" fill="#FFFF33"/>
<circle cx="209.5" cy="376.5" r="8.85" fill="#FFFF33"/>
<circle cx="198.5" cy="382.6" r="8.85" fill="#FFFF33"/>
</g>
<g class="pl late">
<text class="c" x="187.5" y="396.8">84</text>
<text class="c" x="183.9" y="371.6">85</text>
<text x="201.1" y="367.1">86</text>
<text class="c" x="200.9" y="392.3">87</text>
<text class="c" x="197.1" y="379">88</text>
<text class="c" x="203.7" y="401.5">89</text>
<text class="c" x="189.2" y="390.3">90</text>
<text class="c" x="195.1" y="400.3">91</text>
<text class="c" x="196" y="394.3">92</text>
<text x="197.1" y="229.1">93</text>
<text class="c" x="185.8" y="378.4">94</text>
<text class="c" x="201.8" y="378.6">95</text>
<text class="c" x="192" y="383.3">96</text>
<text class="c" x="196.2" y="389.6">97</text>
<text class="c" x="187.8" y="383.6">98</text>
<text class="c" x="192.2" y="395.6">99</text>
<text class="c" x="199.9" y="397.6">100</text>
<text class="c" x="204.1" y="386.2">101</text>
<text class="c" x="184.3" y="388.4">102</text>
<text class="c" x="188.8" y="372.3">103</text>
<text class="c" x="190.4" y="398.5">104</text>
<text class="c" x="191.2" y="403.4">105</text>
<text class="c" x="178.3" y="395.9">106</text>
<text class="c" x="178.6" y="386.4">107</text>
<text class="c" x="179" y="391.4">108</text>
<text class="c" x="178" y="380.7">109</text>
<text class="c" x="184" y="374.9">110</text>
<text class="c" x="183" y="399.7">111</text>
<text class="c" x="185.5" y="391.2">112</text>
<text class="c" x="188.3" y="402.4">113</text>
<text class="c" x="180.5" y="402.6">114</text>
<text class="c" x="185.9" y="401.1">115</text>
<text class="c" x="181.5" y="396.3">116</text>
<text x="165.6" y="387.2">117</text>
<text x="110.4" y="382.6">118</text>
<text class="c" x="190" y="388">119</text>
<text class="c" x="180.6" y="385.1">120</text>
<text class="c" x="190.7" y="380.5">121</text>
<text class="c" x="188.7" y="393.4">122</text>
<text class="c" x="182.4" y="380.8">123</text>
<text class="c" x="180" y="380">124</text>
<text class="c" x="185.5" y="385.8">125</text>
<text class="c" x="193.7" y="398.3">126</text>
<text class="c" x="176.7" y="383.7">127</text>
<text class="c" x="181" y="389">128</text>
<text class="c" x="184" y="394.1">129</text>
<text class="c" x="193.3" y="392.4">130</text>
<text class="c" x="180.6" y="377.1">131</text>
<text class="c" x="178.7" y="401.2">132</text>
<text class="c" x="179.3" y="398.4">133</text>
<text class="c" x="192.3" y="386.5">134</text>
<text x="128.8" y="389.3">135</text>
<text class="c" x="190.2" y="385.4">136</text>
<text class="c" x="204.3" y="390.9">137</text>
<text class="c" x="203.4" y="372.8">138</text>
<text class="c" x="198.9" y="372.2">139</text>
<text class="c" x="210.8" y="384.7">140</text>
<text class="c" x="212.4" y="378.8">141</text>
<text class="c" x="208.4" y="374.5">142</text>
<text class="c" x="210.5" y="389.5">143</text>
<text class="c" x="204" y="376.1">144</text>
<text class="c" x="200.1" y="383.2">145</text>
<text class="c" x="203.8" y="397.1">146</text>
<text class="c" x="196.8" y="399">147</text>
<text class="c" x="194.6" y="373.5">148</text>
<text class="c" x="199.9" y="388.6">149</text>
<text class="c" x="207.4" y="392.8">150</text>
<text class="c" x="204.5" y="382.9">151</text>
<text class="c" x="205.8" y="379.5">152</text>
<text class="c" x="200.2" y="375.7">153</text>
<text class="c" x="207.4" y="388.8">154</text>
<text class="c" x="193.2" y="377.9">155</text>
<text class="c" x="208" y="385.7">156</text>
<text class="c" x="190.1" y="377.1">157</text>
<text class="c" x="198.7" y="392.3">158</text>
<text class="c" x="183.1" y="385.8">159</text>
<text class="c" x="191.2" y="374.1">160</text>
<text class="c" x="205" y="395.1">161</text>
<text class="c" x="187.1" y="374.9">162</text>
<text x="217.8" y="389.8">163</text>
<text x="225.2" y="381.5">164</text>
<text class="c" x="205.7" y="392.9">165</text>
<text class="c" x="213.1" y="387.3">166</text>
<text x="222.5" y="375.5">167</text>
<text class="c" x="201" y="381.2">168</text>
<text class="c" x="209.5" y="380.5">169</text>
<text class="c" x="198.5" y="386.6">170</text>
</g>
<path d="M110.4 344.1 C111.1 345.4 112.7 350.1 114.7 352.1 C116.8 354.2 118.5 355.6 122.8 356.4 C127 357.3 134.4 357 140.2 357.2 C146 357.4 153.3 357 157.6 357.8 C161.8 358.5 163.2 359.3 165.6 361.5 C168.1 363.7 170.3 368.5 172.3 370.9 C174.3 373.2 175.7 374.1 177.7 375.6 C179.7 377 182.5 378.7 184.4 379.6 C186.3 380.5 187.5 381.5 189.1 380.9 C190.6 380.4 192.1 378 193.7 376.2 C195.4 374.5 197.1 371.6 199.1 370.2 C201.1 368.9 203.3 368.8 205.8 368.2 C208.2 367.6 211.6 368 213.8 366.9 C216.1 365.8 217.5 364 219.2 361.5 C220.9 359.1 223.1 353.7 223.9 352.1 L223.9 404.4 C223.1 402.4 220.9 395.7 219.2 392.3 C217.5 389 216.1 386.2 213.8 384.3 C211.6 382.4 208.2 381.2 205.8 380.9 C203.3 380.7 201.1 381.7 199.1 382.9 C197.1 384.2 195.4 386.7 193.7 388.3 C192.1 389.9 190.6 392 189.1 392.3 C187.5 392.6 186.3 391.2 184.4 390.3 C182.5 389.4 179.7 387.3 177.7 387 C175.7 386.6 174.3 386.5 172.3 388.3 C170.3 390.1 168.5 395.3 165.6 397.7 C162.7 400 160.3 401.2 154.9 402.4 C149.5 403.5 139.7 403.6 133.5 404.6 C127.2 405.6 121.2 406.5 117.4 408.4 C113.6 410.2 111.6 414.5 110.4 415.8 Z" fill="#999999" fill-opacity="0.4"/>
<path d="M110.4 380 C114.3 380.1 126.1 380.5 133.5 380.5 C140.9 380.5 148.6 379.9 154.9 380 C161.1 380.1 166.5 380.2 171 380.9 C175.4 381.6 178.7 383.3 181.7 384.3 C184.7 385.2 187 387 189.1 386.6 C191.1 386.1 192.3 383.2 193.7 381.6 C195.2 380 196 378 197.8 376.9 C199.5 375.8 201.8 375.1 204.5 374.9 C207.1 374.7 210.6 375.5 213.8 376 C217.1 376.5 222.2 377.5 223.9 377.8" fill="none" stroke="#3366FF" stroke-width="1.65" stroke-linejoin="round"/>
<rect x="0" y="0" width="598.6" height="438.0" fill="none" stroke="#333" stroke-width="1.85"/>
<text class="tl" text-anchor="end" transform="translate(-7.6,25.4) scale(1,1)">0.7</text>
<text class="tl" text-anchor="end" transform="translate(-7.6,82.2) scale(1,1)">0.6</text>
<text class="tl" text-anchor="end" transform="translate(-7.6,139.1) scale(1,1)">0.5</text>
<text class="tl" text-anchor="end" transform="translate(-7.6,195.9) scale(1,1)">0.4</text>
<text class="tl" text-anchor="end" transform="translate(-7.6,252.8) scale(1,1)">0.3</text>
<text class="tl" text-anchor="end" transform="translate(-7.6,309.7) scale(1,1)">0.2</text>
<text class="tl" text-anchor="end" transform="translate(-7.6,366.5) scale(1,1)">0.1</text>
<text class="tl" text-anchor="end" transform="translate(-7.6,423.4) scale(1,1)">0.0</text>
<text class="tl" text-anchor="end" transform="translate(39.5,456.9) scale(1,1)">−100</text>
<text class="tl" text-anchor="end" transform="translate(103.4,456.9) scale(1,1)">−80</text>
<text class="tl" text-anchor="end" transform="translate(167.4,456.9) scale(1,1)">−60</text>
<text class="tl" text-anchor="end" transform="translate(231.3,456.9) scale(1,1)">−40</text>
<text class="tl" text-anchor="end" transform="translate(295.3,456.9) scale(1,1)">−20</text>
<text class="tl" text-anchor="end" transform="translate(359.2,456.9) scale(1,1)">0</text>
<text class="tl" text-anchor="end" transform="translate(423.1,456.9) scale(1,1)">20</text>
<text class="tl" text-anchor="end" transform="translate(487.1,456.9) scale(1,1)">40</text>
<text class="tl" text-anchor="end" transform="translate(551,456.9) scale(1,1)">60</text>
<path d="M-4.4 20.1 H0 M-4.4 76.9 H0 M-4.4 133.8 H0 M-4.4 190.6 H0 M-4.4 247.5 H0 M-4.4 304.4 H0 M-4.4 361.2 H0 M-4.4 418.1 H0 M27.5 438.0 v4.4 M91.4 438.0 v4.4 M155.4 438.0 v4.4 M219.3 438.0 v4.4 M283.3 438.0 v4.4 M347.2 438.0 v4.4 M411.1 438.0 v4.4 M475.1 438.0 v4.4 M539 438.0 v4.4" stroke="#333" stroke-width="1.8" fill="none"/>
<text class="at" text-anchor="end" x="387.5" y="475.6">Mobility (% changed)</text>
<text class="at" text-anchor="middle" transform="translate(-36.6,219) rotate(-90)">Case ratio</text>
<text class="ti" text-anchor="middle" x="299.3" y="-41.9">Chile</text>
<text class="st" text-anchor="middle" x="299.3" y="-13.2">(Late phase)</text>
<text class="lt" x="521.9" y="71.8">Month</text>
<circle cx="534.8" cy="95.2" r="8.8" fill="#800080" fill-opacity="0.3" stroke="#adadad" stroke-width="1.3"/>
<text class="ll" x="556.6" y="100">Jun</text>
<circle cx="534.8" cy="121.8" r="8.8" fill="#FF7F00" fill-opacity="0.3" stroke="#adadad" stroke-width="1.3"/>
<text class="ll" x="556.6" y="126.6">Jul</text>
<circle cx="534.8" cy="148.3" r="8.8" fill="#FFFF33" fill-opacity="0.3" stroke="#adadad" stroke-width="1.3"/>
<text class="ll" x="556.6" y="153.1">Aug</text>
</g>
<g transform="translate(72.1,651.5) scale(1.0)">
<g fill-opacity="0.3" stroke="#adadad" stroke-width="1.25">
<circle cx="269.5" cy="323.3" r="8.85" fill="#377EB8"/>
<circle cx="215.5" cy="364.4" r="8.85" fill="#377EB8"/>
<circle cx="125" cy="381.6" r="8.85" fill="#377EB8"/>
<circle cx="126.9" cy="352.1" r="8.85" fill="#377EB8"/>
<circle cx="105.4" cy="381.6" r="8.85" fill="#377EB8"/>
<circle cx="118" cy="369.5" r="8.85" fill="#377EB8"/>
<circle cx="107.4" cy="336" r="8.85" fill="#377EB8"/>
<circle cx="110.1" cy="318.9" r="8.85" fill="#377EB8"/>
<circle cx="156.8" cy="377.3" r="8.85" fill="#377EB8"/>
<circle cx="112.1" cy="344.1" r="8.85" fill="#377EB8"/>
<circle cx="116.1" cy="364.5" r="8.85" fill="#377EB8"/>
<circle cx="118.2" cy="400.3" r="8.85" fill="#377EB8"/>
<circle cx="122.6" cy="397" r="8.85" fill="#377EB8"/>
<circle cx="119.7" cy="379" r="8.85" fill="#377EB8"/>
<circle cx="110.7" cy="356" r="8.85" fill="#377EB8"/>
<circle cx="120.7" cy="383.5" r="8.85" fill="#377EB8"/>
<circle cx="124.8" cy="378.8" r="8.85" fill="#377EB8"/>
<circle cx="158.1" cy="375.2" r="8.85" fill="#377EB8"/>
<circle cx="125.1" cy="353.9" r="8.85" fill="#377EB8"/>
<circle cx="115.3" cy="369.7" r="8.85" fill="#377EB8"/>
<circle cx="106.1" cy="355.4" r="8.85" fill="#377EB8"/>
<circle cx="94.5" cy="366.4" r="8.85" fill="#377EB8"/>
<circle cx="78.6" cy="367.5" r="8.85" fill="#377EB8"/>
<circle cx="104.8" cy="342" r="8.85" fill="#377EB8"/>
<circle cx="106.5" cy="357" r="8.85" fill="#377EB8"/>
<circle cx="122.5" cy="380.6" r="8.85" fill="#377EB8"/>
<circle cx="111.4" cy="365.9" r="8.85" fill="#377EB8"/>
<circle cx="120" cy="380.9" r="8.85" fill="#377EB8"/>
<circle cx="113.4" cy="366.1" r="8.85" fill="#377EB8"/>
<circle cx="108.5" cy="358.5" r="8.85" fill="#377EB8"/>
<circle cx="117.5" cy="337.6" r="8.85" fill="#4DAF4A"/>
<circle cx="111.5" cy="373.8" r="8.85" fill="#4DAF4A"/>
<circle cx="176.4" cy="374.2" r="8.85" fill="#4DAF4A"/>
<circle cx="138.2" cy="366" r="8.85" fill="#4DAF4A"/>
<circle cx="134.6" cy="335.6" r="8.85" fill="#4DAF4A"/>
<circle cx="165.7" cy="366.9" r="8.85" fill="#4DAF4A"/>
<circle cx="143.9" cy="358" r="8.85" fill="#4DAF4A"/>
<circle cx="137.7" cy="358.6" r="8.85" fill="#4DAF4A"/>
<circle cx="126.9" cy="365.3" r="8.85" fill="#4DAF4A"/>
<circle cx="154.2" cy="365.2" r="8.85" fill="#4DAF4A"/>
<circle cx="161.2" cy="369.9" r="8.85" fill="#4DAF4A"/>
<circle cx="147.2" cy="363.5" r="8.85" fill="#4DAF4A"/>
<circle cx="172.4" cy="370.2" r="8.85" fill="#4DAF4A"/>
<circle cx="132.8" cy="375.1" r="8.85" fill="#4DAF4A"/>
<circle cx="167.4" cy="370.9" r="8.85" fill="#4DAF4A"/>
<circle cx="133.7" cy="363" r="8.85" fill="#4DAF4A"/>
<circle cx="145.6" cy="374.2" r="8.85" fill="#4DAF4A"/>
<circle cx="124.2" cy="360.8" r="8.85" fill="#4DAF4A"/>
<circle cx="160.8" cy="364.6" r="8.85" fill="#4DAF4A"/>
<circle cx="157.4" cy="361.1" r="8.85" fill="#4DAF4A"/>
<circle cx="168.4" cy="376.9" r="8.85" fill="#4DAF4A"/>
<circle cx="122.6" cy="367.1" r="8.85" fill="#4DAF4A"/>
<circle cx="143.4" cy="366.7" r="8.85" fill="#4DAF4A"/>
<circle cx="165" cy="360.5" r="8.85" fill="#4DAF4A"/>
<circle cx="141.1" cy="361.4" r="8.85" fill="#4DAF4A"/>
<circle cx="120.3" cy="363" r="8.85" fill="#4DAF4A"/>
<circle cx="128.2" cy="376.7" r="8.85" fill="#4DAF4A"/>
<circle cx="177.8" cy="354.8" r="8.85" fill="#4DAF4A"/>
<circle cx="160.3" cy="356.1" r="8.85" fill="#4DAF4A"/>
<circle cx="140.3" cy="350.8" r="8.85" fill="#4DAF4A"/>
<circle cx="165.6" cy="364.2" r="8.85" fill="#4DAF4A"/>
<circle cx="189.9" cy="367.2" r="8.85" fill="#984EA3"/>
<circle cx="131.1" cy="382.5" r="8.85" fill="#984EA3"/>
<circle cx="184.4" cy="362.8" r="8.85" fill="#984EA3"/>
<circle cx="185.8" cy="369.3" r="8.85" fill="#984EA3"/>
<circle cx="188.5" cy="356.4" r="8.85" fill="#984EA3"/>
<circle cx="189.9" cy="362.6" r="8.85" fill="#984EA3"/>
<circle cx="139.9" cy="375.8" r="8.85" fill="#984EA3"/>
<circle cx="185.9" cy="359.6" r="8.85" fill="#984EA3"/>
<circle cx="133.9" cy="381.1" r="8.85" fill="#984EA3"/>
<circle cx="212.3" cy="355.6" r="8.85" fill="#984EA3"/>
<circle cx="198.2" cy="418.3" r="8.85" fill="#984EA3"/>
<circle cx="179.1" cy="327.1" r="8.85" fill="#984EA3"/>
<circle cx="149.1" cy="369.7" r="8.85" fill="#984EA3"/>
<circle cx="208.5" cy="355.6" r="8.85" fill="#984EA3"/>
<circle cx="168.7" cy="365.9" r="8.85" fill="#984EA3"/>
<circle cx="166.2" cy="368.8" r="8.85" fill="#984EA3"/>
<circle cx="209.2" cy="353.3" r="8.85" fill="#984EA3"/>
<circle cx="209" cy="345.2" r="8.85" fill="#984EA3"/>
<circle cx="207.3" cy="353.7" r="8.85" fill="#984EA3"/>
<circle cx="208.2" cy="357.3" r="8.85" fill="#984EA3"/>
<circle cx="164.4" cy="367" r="8.85" fill="#984EA3"/>
<circle cx="149.6" cy="372.7" r="8.85" fill="#984EA3"/>
<circle cx="151" cy="370.6" r="8.85" fill="#984EA3"/>
<circle cx="206.4" cy="354.9" r="8.85" fill="#984EA3"/>
<circle cx="194.4" cy="350.5" r="8.85" fill="#984EA3"/>
<circle cx="211" cy="357.7" r="8.85" fill="#984EA3"/>
<circle cx="179.9" cy="358.1" r="8.85" fill="#984EA3"/>
<circle cx="212.1" cy="353.6" r="8.85" fill="#984EA3"/>
<circle cx="162.3" cy="367.2" r="8.85" fill="#984EA3"/>
<circle cx="210.7" cy="353.6" r="8.85" fill="#984EA3"/>
<circle cx="192.1" cy="370.7" r="8.85" fill="#FF7F00"/>
<circle cx="224.7" cy="371.5" r="8.85" fill="#FF7F00"/>
<circle cx="223.5" cy="358.9" r="8.85" fill="#FF7F00"/>
<circle cx="185.3" cy="367.2" r="8.85" fill="#FF7F00"/>
<circle cx="145.2" cy="372.1" r="8.85" fill="#FF7F00"/>
<circle cx="224.3" cy="363.8" r="8.85" fill="#FF7F00"/>
<circle cx="220" cy="347.5" r="8.85" fill="#FF7F00"/>
<circle cx="222.9" cy="368.3" r="8.85" fill="#FF7F00"/>
<circle cx="229.6" cy="366.9" r="8.85" fill="#FF7F00"/>
<circle cx="224" cy="347.5" r="8.85" fill="#FF7F00"/>
<circle cx="217" cy="353.3" r="8.85" fill="#FF7F00"/>
<circle cx="235.6" cy="366.6" r="8.85" fill="#FF7F00"/>
<circle cx="236.1" cy="381.2" r="8.85" fill="#FF7F00"/>
<circle cx="219.8" cy="355.9" r="8.85" fill="#FF7F00"/>
<circle cx="228.4" cy="372.5" r="8.85" fill="#FF7F00"/>
<circle cx="234.6" cy="349" r="8.85" fill="#FF7F00"/>
<circle cx="226" cy="354.9" r="8.85" fill="#FF7F00"/>
<circle cx="194.9" cy="352.5" r="8.85" fill="#FF7F00"/>
<circle cx="159.2" cy="369.3" r="8.85" fill="#FF7F00"/>
<circle cx="222.5" cy="353.5" r="8.85" fill="#FF7F00"/>
<circle cx="158.6" cy="364.9" r="8.85" fill="#FF7F00"/>
<circle cx="216.7" cy="356.9" r="8.85" fill="#FF7F00"/>
<circle cx="224.9" cy="369.5" r="8.85" fill="#FF7F00"/>
<circle cx="154.6" cy="367" r="8.85" fill="#FF7F00"/>
<circle cx="220.4" cy="361.9" r="8.85" fill="#FF7F00"/>
<circle cx="218.7" cy="360.5" r="8.85" fill="#FF7F00"/>
<circle cx="196.9" cy="366.2" r="8.85" fill="#FF7F00"/>
<circle cx="195.4" cy="370.3" r="8.85" fill="#FF7F00"/>
<circle cx="192" cy="365.2" r="8.85" fill="#FF7F00"/>
<circle cx="220.9" cy="350.7" r="8.85" fill="#FF7F00"/>
<circle cx="165.3" cy="364.1" r="8.85" fill="#FF7F00"/>
<circle cx="163.3" cy="365.1" r="8.85" fill="#FFFF33"/>
<circle cx="136" cy="363.1" r="8.85" fill="#FFFF33"/>
<circle cx="214.5" cy="368.9" r="8.85" fill="#FFFF33"/>
<circle cx="228" cy="381.7" r="8.85" fill="#FFFF33"/>
<circle cx="168.7" cy="374.5" r="8.85" fill="#FFFF33"/>
<circle cx="218" cy="379.8" r="8.85" fill="#FFFF33"/>
<circle cx="157.2" cy="373.6" r="8.85" fill="#FFFF33"/>
<circle cx="182.4" cy="373.8" r="8.85" fill="#FFFF33"/>
<circle cx="194.7" cy="375.5" r="8.85" fill="#FFFF33"/>
<circle cx="175.8" cy="371.5" r="8.85" fill="#FFFF33"/>
<circle cx="186.5" cy="372.2" r="8.85" fill="#FFFF33"/>
<circle cx="161.7" cy="376.3" r="8.85" fill="#FFFF33"/>
<circle cx="219.5" cy="375.3" r="8.85" fill="#FFFF33"/>
<circle cx="222.5" cy="381.2" r="8.85" fill="#FFFF33"/>
<circle cx="152.9" cy="376.4" r="8.85" fill="#FFFF33"/>
<circle cx="219.3" cy="370.2" r="8.85" fill="#FFFF33"/>
<circle cx="186.1" cy="376.7" r="8.85" fill="#FFFF33"/>
<circle cx="172.1" cy="372.9" r="8.85" fill="#FFFF33"/>
<circle cx="213.1" cy="373.5" r="8.85" fill="#FFFF33"/>
<circle cx="218.4" cy="384.7" r="8.85" fill="#FFFF33"/>
<circle cx="188.2" cy="386.7" r="8.85" fill="#FFFF33"/>
<circle cx="190.9" cy="376.4" r="8.85" fill="#FFFF33"/>
<circle cx="223" cy="388.2" r="8.85" fill="#FFFF33"/>
<circle cx="215.5" cy="365.1" r="8.85" fill="#FFFF33"/>
<circle cx="175.8" cy="375.2" r="8.85" fill="#FFFF33"/>
<circle cx="212.1" cy="370.1" r="8.85" fill="#FFFF33"/>
<circle cx="225.3" cy="385.1" r="8.85" fill="#FFFF33"/>
<circle cx="204.5" cy="384.7" r="8.85" fill="#FFFF33"/>
<circle cx="177.8" cy="380" r="8.85" fill="#FFFF33"/>
<circle cx="146.7" cy="385.2" r="8.85" fill="#FFFF33"/>
<circle cx="220.5" cy="373.4" r="8.85" fill="#FFFF33"/>
<circle cx="180.3" cy="372.6" r="8.85" fill="#FFFF33"/>
<circle cx="216.1" cy="383" r="8.85" fill="#FFFF33"/>
<circle cx="178.8" cy="375.7" r="8.85" fill="#FFFF33"/>
<circle cx="216.3" cy="371.4" r="8.85" fill="#FFFF33"/>
</g>
<g class="pl">
<text x="269.5" y="327.2">14</text>
<text x="215.5" y="368.4">15</text>
<text class="c" x="125" y="385.5">16</text>
<text x="126.9" y="356">17</text>
<text x="105.4" y="385.5">18</text>
<text class="c" x="118" y="373.5">19</text>
<text x="107.4" y="340">20</text>
<text x="110.1" y="322.8">21</text>
<text class="c" x="156.8" y="381.2">22</text>
<text x="112.1" y="348">23</text>
<text class="c" x="116.1" y="368.4">24</text>
<text x="118.2" y="404.3">25</text>
<text x="122.6" y="400.9">26</text>
<text class="c" x="119.7" y="383">27</text>
<text class="c" x="110.7" y="360">28</text>
<text class="c" x="120.7" y="387.4">29</text>
<text class="c" x="124.8" y="382.8">30</text>
<text class="c" x="158.1" y="379.1">31</text>
<text class="c" x="125.1" y="357.8">32</text>
<text class="c" x="115.3" y="373.7">33</text>
<text x="106.1" y="359.4">34</text>
<text x="94.5" y="370.4">35</text>
<text x="78.6" y="371.4">36</text>
<text x="104.8" y="346">37</text>
<text x="106.5" y="361">38</text>
<text class="c" x="122.5" y="384.6">39</text>
<text class="c" x="111.4" y="369.9">40</text>
<text class="c" x="120" y="384.8">41</text>
<text class="c" x="113.4" y="370.1">42</text>
<text class="c" x="108.5" y="362.4">43</text>
<text x="117.5" y="341.6">44</text>
<text x="111.5" y="377.7">45</text>
<text x="176.4" y="378.1">46</text>
<text class="c" x="138.2" y="370">47</text>
<text x="134.6" y="339.6">48</text>
<text class="c" x="165.7" y="370.8">49</text>
<text class="c" x="143.9" y="362">50</text>
<text class="c" x="137.7" y="362.5">51</text>
<text class="c" x="126.9" y="369.2">52</text>
<text class="c" x="154.2" y="369.1">53</text>
<text class="c" x="161.2" y="373.8">54</text>
<text class="c" x="147.2" y="367.5">55</text>
<text class="c" x="172.4" y="374.1">56</text>
<text class="c" x="132.8" y="379">57</text>
<text class="c" x="167.4" y="374.9">58</text>
<text class="c" x="133.7" y="367">59</text>
<text x="145.6" y="378.1">60</text>
<text class="c" x="124.2" y="364.8">61</text>
<text class="c" x="160.8" y="368.5">62</text>
<text class="c" x="157.4" y="365.1">63</text>
<text x="168.4" y="380.8">64</text>
<text class="c" x="122.6" y="371">65</text>
<text class="c" x="143.4" y="370.6">66</text>
<text class="c" x="165" y="364.4">67</text>
<text class="c" x="141.1" y="365.4">68</text>
<text class="c" x="120.3" y="366.9">69</text>
<text class="c" x="128.2" y="380.7">70</text>
<text x="177.8" y="358.7">71</text>
<text x="160.3" y="360.1">72</text>
<text x="140.3" y="354.7">73</text>
<text class="c" x="165.6" y="368.2">74</text>
<text class="c" x="189.9" y="371.1">75</text>
<text class="c" x="131.1" y="386.4">76</text>
<text class="c" x="184.4" y="366.8">77</text>
<text class="c" x="185.8" y="373.2">78</text>
<text x="188.5" y="360.3">79</text>
<text class="c" x="189.9" y="366.5">80</text>
<text class="c" x="139.9" y="379.7">81</text>
<text class="c" x="185.9" y="363.5">82</text>
<text class="c" x="133.9" y="385.1">83</text>
<text class="c" x="212.3" y="359.5">84</text>
<text x="198.2" y="422.3">85</text>
<text x="179.1" y="331.1">86</text>
<text class="c" x="149.1" y="373.6">87</text>
<text class="c" x="208.5" y="359.5">88</text>
<text class="c" x="168.7" y="369.8">89</text>
<text class="c" x="166.2" y="372.7">90</text>
<text class="c" x="209.2" y="357.2">91</text>
<text x="209" y="349.2">92</text>
<text class="c" x="207.3" y="357.6">93</text>
<text class="c" x="208.2" y="361.2">94</text>
<text class="c" x="164.4" y="371">95</text>
<text class="c" x="149.6" y="376.7">96</text>
<text class="c" x="151" y="374.6">97</text>
<text class="c" x="206.4" y="358.9">98</text>
<text x="194.4" y="354.5">99</text>
<text class="c" x="211" y="361.6">100</text>
<text x="179.9" y="362">101</text>
<text class="c" x="212.1" y="357.6">102</text>
<text class="c" x="162.3" y="371.1">103</text>
<text class="c" x="210.7" y="357.6">104</text>
<text class="c" x="192.1" y="374.6">105</text>
<text class="c" x="224.7" y="375.4">106</text>
<text class="c" x="223.5" y="362.8">107</text>
<text class="c" x="185.3" y="371.2">108</text>
<text x="145.2" y="376.1">109</text>
<text class="c" x="224.3" y="367.7">110</text>
<text x="220" y="351.5">111</text>
<text class="c" x="222.9" y="372.2">112</text>
<text class="c" x="229.6" y="370.8">113</text>
<text x="224" y="351.5">114</text>
<text class="c" x="217" y="357.3">115</text>
<text x="235.6" y="370.6">116</text>
<text x="236.1" y="385.1">117</text>
<text class="c" x="219.8" y="359.8">118</text>
<text class="c" x="228.4" y="376.5">119</text>
<text x="234.6" y="353">120</text>
<text class="c" x="226" y="358.9">121</text>
<text x="194.9" y="356.5">122</text>
<text class="c" x="159.2" y="373.3">123</text>
<text class="c" x="222.5" y="357.4">124</text>
<text class="c" x="158.6" y="368.8">125</text>
<text class="c" x="216.7" y="360.8">126</text>
<text class="c" x="224.9" y="373.5">127</text>
<text class="c" x="154.6" y="371">128</text>
<text class="c" x="220.4" y="365.9">129</text>
<text class="c" x="218.7" y="364.5">130</text>
<text class="c" x="196.9" y="370.1">131</text>
<text class="c" x="195.4" y="374.2">132</text>
<text class="c" x="192" y="369.1">133</text>
<text class="c" x="220.9" y="354.6">134</text>
<text x="165.3" y="368">135</text>
<text x="163.3" y="369.1">136</text>
<text x="136" y="367">137</text>
<text class="c" x="214.5" y="372.8">138</text>
<text class="c" x="228" y="385.7">139</text>
<text class="c" x="168.7" y="378.4">140</text>
<text class="c" x="218" y="383.7">141</text>
<text class="c" x="157.2" y="377.6">142</text>
<text class="c" x="182.4" y="377.8">143</text>
<text class="c" x="194.7" y="379.4">144</text>
<text class="c" x="175.8" y="375.4">145</text>
<text class="c" x="186.5" y="376.1">146</text>
<text class="c" x="161.7" y="380.2">147</text>
<text class="c" x="219.5" y="379.2">148</text>
<text class="c" x="222.5" y="385.1">149</text>
<text class="c" x="152.9" y="380.3">150</text>
<text class="c" x="219.3" y="374.1">151</text>
<text class="c" x="186.1" y="380.7">152</text>
<text class="c" x="172.1" y="376.8">153</text>
<text class="c" x="213.1" y="377.4">154</text>
<text class="c" x="218.4" y="388.7">155</text>
<text x="188.2" y="390.7">156</text>
<text class="c" x="190.9" y="380.4">157</text>
<text x="223" y="392.2">158</text>
<text class="c" x="215.5" y="369">159</text>
<text class="c" x="175.8" y="379.2">160</text>
<text class="c" x="212.1" y="374.1">161</text>
<text class="c" x="225.3" y="389">162</text>
<text x="204.5" y="388.6">163</text>
<text x="177.8" y="383.9">164</text>
<text x="146.7" y="389.1">165</text>
<text class="c" x="220.5" y="377.3">166</text>
<text class="c" x="180.3" y="376.5">167</text>
<text class="c" x="216.1" y="387">168</text>
<text class="c" x="178.8" y="379.6">169</text>
<text class="c" x="216.3" y="375.3">170</text>
</g>
<path d="M78 342.6 C79.6 343.5 84 346 87.4 348 C90.7 350 94.1 352.7 98.1 354.7 C102.1 356.7 105.9 358.7 111.5 360.1 C117.1 361.4 123.7 362.1 131.6 362.7 C139.4 363.4 149.4 363.6 158.3 364.1 C167.3 364.5 176.2 364.9 185.1 365.4 C194.1 366 205.2 367.5 211.9 367.4 C218.6 367.3 221.3 366.4 225.3 364.7 C229.3 363.1 232.7 360.2 236 357.4 C239.4 354.6 242.7 350.9 245.4 348 C248.1 345.1 249.9 342.6 252.1 340 C254.3 337.3 256 334.6 258.8 331.9 C261.6 329.3 267.2 325.2 268.8 323.9 L268.8 353.4 C267.2 354 261.6 356 258.8 357.4 C256 358.7 254.3 360.2 252.1 361.4 C249.9 362.6 248.1 363.6 245.4 364.7 C242.7 365.9 239.4 366.9 236 368.1 C232.7 369.3 229.3 371.1 225.3 372.1 C221.3 373.1 218.6 374.1 211.9 374.1 C205.2 374.1 194.1 372.8 185.1 372.1 C176.2 371.4 167.3 370.5 158.3 370.1 C149.4 369.7 139.4 369.8 131.6 369.4 C123.7 369.1 117.1 368.5 111.5 368.1 C105.9 367.6 102.1 366.6 98.1 366.8 C94.1 366.9 90.7 368 87.4 368.8 C84 369.5 79.6 371 78 371.4 Z" fill="#999999" fill-opacity="0.4"/>
<path d="M78 357.1 C80.2 357.6 86.9 359.1 91.4 360.1 C95.8 361 100.3 362 104.8 362.7 C109.2 363.5 113.7 364.2 118.2 364.7 C122.6 365.3 127.1 365.7 131.6 366.1 C136 366.4 140.5 366.6 145 366.8 C149.4 366.9 153.9 366.8 158.3 367 C162.8 367.2 167.3 367.5 171.7 367.8 C176.2 368.1 180.7 368.4 185.1 368.8 C189.6 369.1 194.1 369.4 198.5 369.7 C203 370 208.6 370.6 211.9 370.8 C215.3 370.9 216.4 370.9 218.6 370.5 C220.8 370.1 223.1 369.1 225.3 368.1 C227.5 367.1 229.8 366 232 364.7 C234.2 363.5 236.5 362.2 238.7 360.7 C240.9 359.3 243.2 357.7 245.4 356 C247.6 354.4 249.9 352.6 252.1 350.7 C254.3 348.8 256.8 346.4 258.8 344.7 C260.8 342.9 262.5 341.5 264.1 340 C265.8 338.5 268.1 336.4 268.8 335.7" fill="none" stroke="#3366FF" stroke-width="1.65" stroke-linejoin="round"/>
<rect x="0" y="0" width="598.6" height="438.0" fill="none" stroke="#333" stroke-width="1.85"/>
<text class="tl" text-anchor="end" transform="translate(-7.6,25.4) scale(1,1)">0.7</text>
<text class="tl" text-anchor="end" transform="translate(-7.6,82.2) scale(1,1)">0.6</text>
<text class="tl" text-anchor="end" transform="translate(-7.6,139.1) scale(1,1)">0.5</text>
<text class="tl" text-anchor="end" transform="translate(-7.6,195.9) scale(1,1)">0.4</text>
<text class="tl" text-anchor="end" transform="translate(-7.6,252.8) scale(1,1)">0.3</text>
<text class="tl" text-anchor="end" transform="translate(-7.6,309.7) scale(1,1)">0.2</text>
<text class="tl" text-anchor="end" transform="translate(-7.6,366.5) scale(1,1)">0.1</text>
<text class="tl" text-anchor="end" transform="translate(-7.6,423.4) scale(1,1)">0.0</text>
<text class="tl" text-anchor="end" transform="translate(39.5,456.9) scale(1,1)">−100</text>
<text class="tl" text-anchor="end" transform="translate(103.4,456.9) scale(1,1)">−80</text>
<text class="tl" text-anchor="end" transform="translate(167.4,456.9) scale(1,1)">−60</text>
<text class="tl" text-anchor="end" transform="translate(231.3,456.9) scale(1,1)">−40</text>
<text class="tl" text-anchor="end" transform="translate(295.3,456.9) scale(1,1)">−20</text>
<text class="tl" text-anchor="end" transform="translate(359.2,456.9) scale(1,1)">0</text>
<text class="tl" text-anchor="end" transform="translate(423.1,456.9) scale(1,1)">20</text>
<text class="tl" text-anchor="end" transform="translate(487.1,456.9) scale(1,1)">40</text>
<text class="tl" text-anchor="end" transform="translate(551,456.9) scale(1,1)">60</text>
<path d="M-4.4 20.1 H0 M-4.4 76.9 H0 M-4.4 133.8 H0 M-4.4 190.6 H0 M-4.4 247.5 H0 M-4.4 304.4 H0 M-4.4 361.2 H0 M-4.4 418.1 H0 M27.5 438.0 v4.4 M91.4 438.0 v4.4 M155.4 438.0 v4.4 M219.3 438.0 v4.4 M283.3 438.0 v4.4 M347.2 438.0 v4.4 M411.1 438.0 v4.4 M475.1 438.0 v4.4 M539 438.0 v4.4" stroke="#333" stroke-width="1.8" fill="none"/>
<text class="at" text-anchor="end" x="387.5" y="475.6">Mobility (% changed)</text>
<text class="at" text-anchor="middle" transform="translate(-36.6,219) rotate(-90)">Case ratio</text>
<text class="ti" text-anchor="middle" x="299.3" y="-41.4">Colombia</text>
<text class="st" text-anchor="middle" x="299.3" y="-12.7">(All period)</text>
<text class="lt" x="520.8" y="32">Month</text>
<circle cx="533.8" cy="55.4" r="8.8" fill="#E41A1C" fill-opacity="0.3" stroke="#adadad" stroke-width="1.3"/>
<text class="ll" x="554.9" y="60.2">Mar</text>
<circle cx="533.8" cy="82" r="8.8" fill="#377EB8" fill-opacity="0.3" stroke="#adadad" stroke-width="1.3"/>
<text class="ll" x="554.9" y="86.8">Apr</text>
<circle cx="533.8" cy="108.5" r="8.8" fill="#4DAF4A" fill-opacity="0.3" stroke="#adadad" stroke-width="1.3"/>
<text class="ll" x="554.9" y="113.3">May</text>
<circle cx="533.8" cy="135.1" r="8.8" fill="#984EA3" fill-opacity="0.3" stroke="#adadad" stroke-width="1.3"/>
<text class="ll" x="554.9" y="139.9">Jun</text>
<circle cx="533.8" cy="161.6" r="8.8" fill="#FF7F00" fill-opacity="0.3" stroke="#adadad" stroke-width="1.3"/>
<text class="ll" x="554.9" y="166.4">Jul</text>
<circle cx="533.8" cy="188.2" r="8.8" fill="#FFFF33" fill-opacity="0.3" stroke="#adadad" stroke-width="1.3"/>
<text class="ll" x="554.9" y="193">Aug</text>
</g>
<g transform="translate(735.1,651.5) scale(1.0)">
<g fill-opacity="0.3" stroke="#adadad" stroke-width="1.25">
<circle cx="269.5" cy="323.9" r="8.85" fill="#377EB8"/>
<circle cx="215.5" cy="365" r="8.85" fill="#377EB8"/>
<circle cx="125" cy="382.2" r="8.85" fill="#377EB8"/>
<circle cx="126.9" cy="352.7" r="8.85" fill="#377EB8"/>
<circle cx="105.4" cy="382.2" r="8.85" fill="#377EB8"/>
<circle cx="118" cy="370.1" r="8.85" fill="#377EB8"/>
<circle cx="107.4" cy="336.6" r="8.85" fill="#377EB8"/>
<circle cx="110.1" cy="319.5" r="8.85" fill="#377EB8"/>
<circle cx="156.8" cy="377.9" r="8.85" fill="#377EB8"/>
<circle cx="112.1" cy="344.7" r="8.85" fill="#377EB8"/>
<circle cx="116.1" cy="365.1" r="8.85" fill="#377EB8"/>
<circle cx="118.2" cy="400.9" r="8.85" fill="#377EB8"/>
<circle cx="122.6" cy="397.6" r="8.85" fill="#377EB8"/>
<circle cx="119.7" cy="379.6" r="8.85" fill="#377EB8"/>
<circle cx="110.7" cy="356.6" r="8.85" fill="#377EB8"/>
<circle cx="120.7" cy="384.1" r="8.85" fill="#377EB8"/>
<circle cx="124.8" cy="379.4" r="8.85" fill="#377EB8"/>
<circle cx="158.1" cy="375.8" r="8.85" fill="#377EB8"/>
<circle cx="125.1" cy="354.5" r="8.85" fill="#377EB8"/>
<circle cx="115.3" cy="370.3" r="8.85" fill="#377EB8"/>
<circle cx="106.1" cy="356" r="8.85" fill="#377EB8"/>
<circle cx="94.5" cy="367" r="8.85" fill="#377EB8"/>
<circle cx="78.6" cy="368.1" r="8.85" fill="#377EB8"/>
<circle cx="104.8" cy="342.6" r="8.85" fill="#377EB8"/>
<circle cx="106.5" cy="357.6" r="8.85" fill="#377EB8"/>
<circle cx="122.5" cy="381.2" r="8.85" fill="#377EB8"/>
<circle cx="111.4" cy="366.5" r="8.85" fill="#377EB8"/>
<circle cx="120" cy="381.5" r="8.85" fill="#377EB8"/>
<circle cx="113.4" cy="366.7" r="8.85" fill="#377EB8"/>
<circle cx="108.5" cy="359.1" r="8.85" fill="#377EB8"/>
<circle cx="117.5" cy="338.2" r="8.85" fill="#4DAF4A"/>
<circle cx="111.5" cy="374.4" r="8.85" fill="#4DAF4A"/>
<circle cx="176.4" cy="374.8" r="8.85" fill="#4DAF4A"/>
<circle cx="138.2" cy="366.6" r="8.85" fill="#4DAF4A"/>
<circle cx="134.6" cy="336.2" r="8.85" fill="#4DAF4A"/>
<circle cx="165.7" cy="367.5" r="8.85" fill="#4DAF4A"/>
<circle cx="143.9" cy="358.6" r="8.85" fill="#4DAF4A"/>
<circle cx="137.7" cy="359.2" r="8.85" fill="#4DAF4A"/>
<circle cx="126.9" cy="365.9" r="8.85" fill="#4DAF4A"/>
<circle cx="154.2" cy="365.8" r="8.85" fill="#4DAF4A"/>
<circle cx="161.2" cy="370.5" r="8.85" fill="#4DAF4A"/>
<circle cx="147.2" cy="364.1" r="8.85" fill="#4DAF4A"/>
<circle cx="172.4" cy="370.8" r="8.85" fill="#4DAF4A"/>
<circle cx="132.8" cy="375.7" r="8.85" fill="#4DAF4A"/>
<circle cx="167.4" cy="371.5" r="8.85" fill="#4DAF4A"/>
<circle cx="133.7" cy="363.6" r="8.85" fill="#4DAF4A"/>
<circle cx="145.6" cy="374.8" r="8.85" fill="#4DAF4A"/>
<circle cx="124.2" cy="361.4" r="8.85" fill="#4DAF4A"/>
<circle cx="160.8" cy="365.2" r="8.85" fill="#4DAF4A"/>
<circle cx="157.4" cy="361.7" r="8.85" fill="#4DAF4A"/>
<circle cx="168.4" cy="377.5" r="8.85" fill="#4DAF4A"/>
<circle cx="122.6" cy="367.7" r="8.85" fill="#4DAF4A"/>
<circle cx="143.4" cy="367.3" r="8.85" fill="#4DAF4A"/>
<circle cx="165" cy="361.1" r="8.85" fill="#4DAF4A"/>
<circle cx="141.1" cy="362" r="8.85" fill="#4DAF4A"/>
<circle cx="120.3" cy="363.6" r="8.85" fill="#4DAF4A"/>
<circle cx="128.2" cy="377.3" r="8.85" fill="#4DAF4A"/>
<circle cx="177.8" cy="355.4" r="8.85" fill="#4DAF4A"/>
<circle cx="160.3" cy="356.7" r="8.85" fill="#4DAF4A"/>
<circle cx="140.3" cy="351.4" r="8.85" fill="#4DAF4A"/>
<circle cx="165.6" cy="364.8" r="8.85" fill="#4DAF4A"/>
<circle cx="189.9" cy="367.8" r="8.85" fill="#984EA3"/>
<circle cx="131.1" cy="383.1" r="8.85" fill="#984EA3"/>
<circle cx="184.4" cy="363.4" r="8.85" fill="#984EA3"/>
<circle cx="185.8" cy="369.9" r="8.85" fill="#984EA3"/>
<circle cx="188.5" cy="357" r="8.85" fill="#984EA3"/>
<circle cx="189.9" cy="363.2" r="8.85" fill="#984EA3"/>
<circle cx="139.9" cy="376.4" r="8.85" fill="#984EA3"/>
<circle cx="185.9" cy="360.2" r="8.85" fill="#984EA3"/>
<circle cx="133.9" cy="381.7" r="8.85" fill="#984EA3"/>
</g>
<g class="pl">
<text x="269.5" y="327.8">14</text>
<text x="215.5" y="369">15</text>
<text class="c" x="125" y="386.1">16</text>
<text x="126.9" y="356.6">17</text>
<text x="105.4" y="386.1">18</text>
<text class="c" x="118" y="374.1">19</text>
<text x="107.4" y="340.6">20</text>
<text x="110.1" y="323.4">21</text>
<text class="c" x="156.8" y="381.8">22</text>
<text x="112.1" y="348.6">23</text>
<text class="c" x="116.1" y="369">24</text>
<text x="118.2" y="404.9">25</text>
<text x="122.6" y="401.5">26</text>
<text class="c" x="119.7" y="383.6">27</text>
<text class="c" x="110.7" y="360.6">28</text>
<text class="c" x="120.7" y="388">29</text>
<text class="c" x="124.8" y="383.4">30</text>
<text class="c" x="158.1" y="379.7">31</text>
<text class="c" x="125.1" y="358.4">32</text>
<text class="c" x="115.3" y="374.3">33</text>
<text x="106.1" y="360">34</text>
<text x="94.5" y="371">35</text>
<text x="78.6" y="372">36</text>
<text x="104.8" y="346.6">37</text>
<text x="106.5" y="361.6">38</text>
<text class="c" x="122.5" y="385.2">39</text>
<text class="c" x="111.4" y="370.5">40</text>
<text class="c" x="120" y="385.4">41</text>
<text class="c" x="113.4" y="370.7">42</text>
<text class="c" x="108.5" y="363">43</text>
<text x="117.5" y="342.2">44</text>
<text x="111.5" y="378.3">45</text>
<text x="176.4" y="378.7">46</text>
<text class="c" x="138.2" y="370.6">47</text>
<text x="134.6" y="340.2">48</text>
<text class="c" x="165.7" y="371.4">49</text>
<text class="c" x="143.9" y="362.6">50</text>
<text class="c" x="137.7" y="363.1">51</text>
<text class="c" x="126.9" y="369.8">52</text>
<text class="c" x="154.2" y="369.7">53</text>
<text class="c" x="161.2" y="374.4">54</text>
<text class="c" x="147.2" y="368.1">55</text>
<text class="c" x="172.4" y="374.7">56</text>
<text class="c" x="132.8" y="379.6">57</text>
<text class="c" x="167.4" y="375.5">58</text>
<text class="c" x="133.7" y="367.6">59</text>
<text x="145.6" y="378.7">60</text>
<text class="c" x="124.2" y="365.4">61</text>
<text class="c" x="160.8" y="369.1">62</text>
<text class="c" x="157.4" y="365.7">63</text>
<text x="168.4" y="381.4">64</text>
<text class="c" x="122.6" y="371.6">65</text>
<text class="c" x="143.4" y="371.2">66</text>
<text class="c" x="165" y="365">67</text>
<text class="c" x="141.1" y="366">68</text>
<text class="c" x="120.3" y="367.5">69</text>
<text class="c" x="128.2" y="381.3">70</text>
<text x="177.8" y="359.3">71</text>
<text x="160.3" y="360.7">72</text>
<text x="140.3" y="355.3">73</text>
<text class="c" x="165.6" y="368.8">74</text>
<text class="c" x="189.9" y="371.7">75</text>
<text class="c" x="131.1" y="387">76</text>
<text class="c" x="184.4" y="367.4">77</text>
<text class="c" x="185.8" y="373.8">78</text>
<text x="188.5" y="360.9">79</text>
<text class="c" x="189.9" y="367.1">80</text>
<text class="c" x="139.9" y="380.3">81</text>
<text class="c" x="185.9" y="364.1">82</text>
<text class="c" x="133.9" y="385.7">83</text>
</g>
<path d="M78.6 338 C80 339 83.6 341.6 86.7 344 C89.8 346.3 94.1 349.8 97.4 352 C100.7 354.3 103.6 355.8 106.8 357.4 C109.9 358.9 112.9 360.3 116.1 361.4 C119.4 362.5 123.1 364.1 126.2 364.1 C129.3 364.1 131.7 362.5 134.9 361.4 C138.1 360.3 142.5 357.8 145.6 357.4 C148.7 356.9 151 358 153.6 358.7 C156.3 359.4 158.3 360.8 161.7 361.4 C165 362 169.5 362.2 173.7 362.1 C178 362 182.9 361.7 187.1 360.7 C191.4 359.7 194.5 358.6 199.2 356 C203.9 353.5 209.9 349.3 215.3 345.3 C220.6 341.3 226 336.4 231.3 331.9 C236.7 327.5 242.5 322.8 247.4 318.5 C252.3 314.3 257.1 309.8 260.8 306.5 C264.5 303.1 268 299.8 269.5 298.5 L269.5 351.4 C268 351.7 264.5 352.4 260.8 353.4 C257.1 354.4 252.3 355.6 247.4 357.4 C242.5 359.2 236.7 362.1 231.3 364.1 C226 366.1 220.6 368.1 215.3 369.4 C209.9 370.8 203.9 371.7 199.2 372.1 C194.5 372.6 191.4 372.2 187.1 372.1 C182.9 372 178 371.7 173.7 371.4 C169.5 371.2 165 371.3 161.7 370.8 C158.3 370.2 156.3 368.9 153.6 368.1 C151 367.3 148.7 365.6 145.6 366.1 C142.5 366.5 138.1 369.7 134.9 370.8 C131.7 371.9 129.3 372.8 126.2 372.8 C123.1 372.8 119.4 371.6 116.1 370.8 C112.9 370 109.9 368.1 106.8 368.1 C103.6 368.1 100.7 369.2 97.4 370.8 C94.1 372.3 89.8 375.3 86.7 377.5 C83.6 379.6 80 382.5 78.6 383.5 Z" fill="#999999" fill-opacity="0.4"/>
<path d="M78.6 360.5 C81.1 360.5 89.1 360.5 93.4 360.7 C97.6 361 100.3 361.2 104.1 362.1 C107.9 362.9 112.5 364.8 116.1 365.8 C119.8 366.9 123.1 368.4 126.2 368.4 C129.3 368.4 131.7 367 134.9 365.8 C138.1 364.7 142.5 361.8 145.6 361.4 C148.7 361 151 362.6 153.6 363.4 C156.3 364.2 158.3 365.5 161.7 366.1 C165 366.6 169.5 366.7 173.7 366.8 C178 366.8 182.9 366.9 187.1 366.5 C191.4 366 194.5 365.6 199.2 364.1 C203.9 362.6 209.9 359.8 215.3 357.4 C220.6 354.9 226 352.2 231.3 349.3 C236.7 346.4 242.5 343 247.4 340 C252.3 337 257.1 333.8 260.8 331.3 C264.5 328.7 268 325.9 269.5 324.8" fill="none" stroke="#3366FF" stroke-width="1.65" stroke-linejoin="round"/>
<rect x="0" y="0" width="598.6" height="438.0" fill="none" stroke="#333" stroke-width="1.85"/>
<text class="tl" text-anchor="end" transform="translate(-7.6,25.4) scale(1,1)">0.7</text>
<text class="tl" text-anchor="end" transform="translate(-7.6,82.2) scale(1,1)">0.6</text>
<text class="tl" text-anchor="end" transform="translate(-7.6,139.1) scale(1,1)">0.5</text>
<text class="tl" text-anchor="end" transform="translate(-7.6,195.9) scale(1,1)">0.4</text>
<text class="tl" text-anchor="end" transform="translate(-7.6,252.8) scale(1,1)">0.3</text>
<text class="tl" text-anchor="end" transform="translate(-7.6,309.7) scale(1,1)">0.2</text>
<text class="tl" text-anchor="end" transform="translate(-7.6,366.5) scale(1,1)">0.1</text>
<text class="tl" text-anchor="end" transform="translate(-7.6,423.4) scale(1,1)">0.0</text>
<text class="tl" text-anchor="end" transform="translate(39.5,456.9) scale(1,1)">−100</text>
<text class="tl" text-anchor="end" transform="translate(103.4,456.9) scale(1,1)">−80</text>
<text class="tl" text-anchor="end" transform="translate(167.4,456.9) scale(1,1)">−60</text>
<text class="tl" text-anchor="end" transform="translate(231.3,456.9) scale(1,1)">−40</text>
<text class="tl" text-anchor="end" transform="translate(295.3,456.9) scale(1,1)">−20</text>
<text class="tl" text-anchor="end" transform="translate(359.2,456.9) scale(1,1)">0</text>
<text class="tl" text-anchor="end" transform="translate(423.1,456.9) scale(1,1)">20</text>
<text class="tl" text-anchor="end" transform="translate(487.1,456.9) scale(1,1)">40</text>
<text class="tl" text-anchor="end" transform="translate(551,456.9) scale(1,1)">60</text>
<path d="M-4.4 20.1 H0 M-4.4 76.9 H0 M-4.4 133.8 H0 M-4.4 190.6 H0 M-4.4 247.5 H0 M-4.4 304.4 H0 M-4.4 361.2 H0 M-4.4 418.1 H0 M27.5 438.0 v4.4 M91.4 438.0 v4.4 M155.4 438.0 v4.4 M219.3 438.0 v4.4 M283.3 438.0 v4.4 M347.2 438.0 v4.4 M411.1 438.0 v4.4 M475.1 438.0 v4.4 M539 438.0 v4.4" stroke="#333" stroke-width="1.8" fill="none"/>
<text class="at" text-anchor="end" x="387.5" y="475.6">Mobility (% changed)</text>
<text class="at" text-anchor="middle" transform="translate(-36.6,219) rotate(-90)">Case ratio</text>
<text class="ti" text-anchor="middle" x="299.3" y="-41.4">Colombia</text>
<text class="st" text-anchor="middle" x="299.3" y="-12.7">(Early phase)</text>
<text class="lt" x="521.6" y="58.5">Month</text>
<circle cx="533.8" cy="82" r="8.8" fill="#E41A1C" fill-opacity="0.3" stroke="#adadad" stroke-width="1.3"/>
<text class="ll" x="555.8" y="86.8">Mar</text>
<circle cx="533.8" cy="108.5" r="8.8" fill="#377EB8" fill-opacity="0.3" stroke="#adadad" stroke-width="1.3"/>
<text class="ll" x="555.8" y="113.3">Apr</text>
<circle cx="533.8" cy="135.1" r="8.8" fill="#4DAF4A" fill-opacity="0.3" stroke="#adadad" stroke-width="1.3"/>
<text class="ll" x="555.8" y="139.9">May</text>
<circle cx="533.8" cy="161.6" r="8.8" fill="#984EA3" fill-opacity="0.3" stroke="#adadad" stroke-width="1.3"/>
<text class="ll" x="555.8" y="166.4">Jun</text>
</g>
<g transform="translate(1399,651.5) scale(1.0)">
<g fill-opacity="0.3" stroke="#adadad" stroke-width="1.25">
<circle cx="212.3" cy="356.2" r="8.85" fill="#800080"/>
<circle cx="179.1" cy="327.7" r="8.85" fill="#800080"/>
<circle cx="149.1" cy="370.3" r="8.85" fill="#800080"/>
<circle cx="208.5" cy="356.2" r="8.85" fill="#800080"/>
<circle cx="168.7" cy="366.5" r="8.85" fill="#800080"/>
<circle cx="166.2" cy="369.4" r="8.85" fill="#800080"/>
<circle cx="209.2" cy="353.9" r="8.85" fill="#800080"/>
<circle cx="209" cy="345.8" r="8.85" fill="#800080"/>
<circle cx="207.3" cy="354.3" r="8.85" fill="#800080"/>
<circle cx="208.2" cy="357.9" r="8.85" fill="#800080"/>
<circle cx="164.4" cy="367.6" r="8.85" fill="#800080"/>
<circle cx="149.6" cy="373.3" r="8.85" fill="#800080"/>
<circle cx="151" cy="371.2" r="8.85" fill="#800080"/>
<circle cx="206.4" cy="355.5" r="8.85" fill="#800080"/>
<circle cx="194.4" cy="351.1" r="8.85" fill="#800080"/>
<circle cx="211" cy="358.3" r="8.85" fill="#800080"/>
<circle cx="179.9" cy="358.7" r="8.85" fill="#800080"/>
<circle cx="212.1" cy="354.2" r="8.85" fill="#800080"/>
<circle cx="162.3" cy="367.8" r="8.85" fill="#800080"/>
<circle cx="210.7" cy="354.2" r="8.85" fill="#800080"/>
<circle cx="192.1" cy="371.3" r="8.85" fill="#FF7F00"/>
<circle cx="224.7" cy="372.1" r="8.85" fill="#FF7F00"/>
<circle cx="223.5" cy="359.5" r="8.85" fill="#FF7F00"/>
<circle cx="185.3" cy="367.8" r="8.85" fill="#FF7F00"/>
<circle cx="145.2" cy="372.7" r="8.85" fill="#FF7F00"/>
<circle cx="224.3" cy="364.4" r="8.85" fill="#FF7F00"/>
<circle cx="220" cy="348.1" r="8.85" fill="#FF7F00"/>
<circle cx="222.9" cy="368.9" r="8.85" fill="#FF7F00"/>
<circle cx="229.6" cy="367.5" r="8.85" fill="#FF7F00"/>
<circle cx="224" cy="348.1" r="8.85" fill="#FF7F00"/>
<circle cx="217" cy="353.9" r="8.85" fill="#FF7F00"/>
<circle cx="235.6" cy="367.2" r="8.85" fill="#FF7F00"/>
<circle cx="236.1" cy="381.8" r="8.85" fill="#FF7F00"/>
<circle cx="219.8" cy="356.5" r="8.85" fill="#FF7F00"/>
<circle cx="228.4" cy="373.1" r="8.85" fill="#FF7F00"/>
<circle cx="234.6" cy="349.6" r="8.85" fill="#FF7F00"/>
<circle cx="226" cy="355.5" r="8.85" fill="#FF7F00"/>
<circle cx="194.9" cy="353.1" r="8.85" fill="#FF7F00"/>
<circle cx="159.2" cy="369.9" r="8.85" fill="#FF7F00"/>
<circle cx="222.5" cy="354.1" r="8.85" fill="#FF7F00"/>
<circle cx="158.6" cy="365.5" r="8.85" fill="#FF7F00"/>
<circle cx="216.7" cy="357.5" r="8.85" fill="#FF7F00"/>
<circle cx="224.9" cy="370.1" r="8.85" fill="#FF7F00"/>
<circle cx="154.6" cy="367.6" r="8.85" fill="#FF7F00"/>
<circle cx="220.4" cy="362.5" r="8.85" fill="#FF7F00"/>
<circle cx="218.7" cy="361.1" r="8.85" fill="#FF7F00"/>
<circle cx="196.9" cy="366.8" r="8.85" fill="#FF7F00"/>
<circle cx="195.4" cy="370.9" r="8.85" fill="#FF7F00"/>
<circle cx="192" cy="365.8" r="8.85" fill="#FF7F00"/>
<circle cx="220.9" cy="351.3" r="8.85" fill="#FF7F00"/>
<circle cx="165.3" cy="364.7" r="8.85" fill="#FF7F00"/>
<circle cx="163.3" cy="365.7" r="8.85" fill="#FFFF33"/>
<circle cx="136" cy="363.7" r="8.85" fill="#FFFF33"/>
<circle cx="214.5" cy="369.5" r="8.85" fill="#FFFF33"/>
<circle cx="228" cy="382.3" r="8.85" fill="#FFFF33"/>
<circle cx="168.7" cy="375.1" r="8.85" fill="#FFFF33"/>
<circle cx="218" cy="380.4" r="8.85" fill="#FFFF33"/>
<circle cx="157.2" cy="374.2" r="8.85" fill="#FFFF33"/>
<circle cx="182.4" cy="374.4" r="8.85" fill="#FFFF33"/>
<circle cx="194.7" cy="376.1" r="8.85" fill="#FFFF33"/>
<circle cx="175.8" cy="372.1" r="8.85" fill="#FFFF33"/>
<circle cx="186.5" cy="372.8" r="8.85" fill="#FFFF33"/>
<circle cx="161.7" cy="376.9" r="8.85" fill="#FFFF33"/>
<circle cx="219.5" cy="375.9" r="8.85" fill="#FFFF33"/>
<circle cx="222.5" cy="381.8" r="8.85" fill="#FFFF33"/>
<circle cx="152.9" cy="377" r="8.85" fill="#FFFF33"/>
<circle cx="219.3" cy="370.8" r="8.85" fill="#FFFF33"/>
<circle cx="186.1" cy="377.3" r="8.85" fill="#FFFF33"/>
<circle cx="172.1" cy="373.5" r="8.85" fill="#FFFF33"/>
<circle cx="213.1" cy="374.1" r="8.85" fill="#FFFF33"/>
<circle cx="218.4" cy="385.3" r="8.85" fill="#FFFF33"/>
<circle cx="188.2" cy="387.3" r="8.85" fill="#FFFF33"/>
<circle cx="190.9" cy="377" r="8.85" fill="#FFFF33"/>
<circle cx="223" cy="388.8" r="8.85" fill="#FFFF33"/>
<circle cx="215.5" cy="365.7" r="8.85" fill="#FFFF33"/>
<circle cx="175.8" cy="375.8" r="8.85" fill="#FFFF33"/>
<circle cx="212.1" cy="370.7" r="8.85" fill="#FFFF33"/>
<circle cx="225.3" cy="385.7" r="8.85" fill="#FFFF33"/>
<circle cx="204.5" cy="385.3" r="8.85" fill="#FFFF33"/>
<circle cx="177.8" cy="380.6" r="8.85" fill="#FFFF33"/>
<circle cx="146.7" cy="385.8" r="8.85" fill="#FFFF33"/>
<circle cx="220.5" cy="374" r="8.85" fill="#FFFF33"/>
<circle cx="180.3" cy="373.2" r="8.85" fill="#FFFF33"/>
<circle cx="216.1" cy="383.6" r="8.85" fill="#FFFF33"/>
<circle cx="178.8" cy="376.3" r="8.85" fill="#FFFF33"/>
<circle cx="216.3" cy="372" r="8.85" fill="#FFFF33"/>
</g>
<g class="pl late">
<text class="c" x="212.3" y="360.1">84</text>
<text x="198.2" y="422.9">85</text>
<text x="179.1" y="331.7">86</text>
<text class="c" x="149.1" y="374.2">87</text>
<text class="c" x="208.5" y="360.1">88</text>
<text class="c" x="168.7" y="370.4">89</text>
<text class="c" x="166.2" y="373.3">90</text>
<text class="c" x="209.2" y="357.8">91</text>
<text x="209" y="349.8">92</text>
<text class="c" x="207.3" y="358.2">93</text>
<text class="c" x="208.2" y="361.8">94</text>
<text class="c" x="164.4" y="371.6">95</text>
<text class="c" x="149.6" y="377.3">96</text>
<text class="c" x="151" y="375.2">97</text>
<text class="c" x="206.4" y="359.5">98</text>
<text x="194.4" y="355.1">99</text>
<text class="c" x="211" y="362.2">100</text>
<text x="179.9" y="362.6">101</text>
<text class="c" x="212.1" y="358.2">102</text>
<text class="c" x="162.3" y="371.7">103</text>
<text class="c" x="210.7" y="358.2">104</text>
<text class="c" x="192.1" y="375.2">105</text>
<text class="c" x="224.7" y="376">106</text>
<text class="c" x="223.5" y="363.4">107</text>
<text class="c" x="185.3" y="371.8">108</text>
<text x="145.2" y="376.7">109</text>
<text class="c" x="224.3" y="368.3">110</text>
<text x="220" y="352.1">111</text>
<text class="c" x="222.9" y="372.8">112</text>
<text class="c" x="229.6" y="371.4">113</text>
<text x="224" y="352.1">114</text>
<text class="c" x="217" y="357.9">115</text>
<text x="235.6" y="371.2">116</text>
<text x="236.1" y="385.7">117</text>
<text class="c" x="219.8" y="360.4">118</text>
<text class="c" x="228.4" y="377.1">119</text>
<text x="234.6" y="353.6">120</text>
<text class="c" x="226" y="359.5">121</text>
<text x="194.9" y="357.1">122</text>
<text class="c" x="159.2" y="373.9">123</text>
<text class="c" x="222.5" y="358">124</text>
<text class="c" x="158.6" y="369.4">125</text>
<text class="c" x="216.7" y="361.4">126</text>
<text class="c" x="224.9" y="374.1">127</text>
<text class="c" x="154.6" y="371.6">128</text>
<text class="c" x="220.4" y="366.5">129</text>
<text class="c" x="218.7" y="365.1">130</text>
<text class="c" x="196.9" y="370.7">131</text>
<text class="c" x="195.4" y="374.8">132</text>
<text class="c" x="192" y="369.7">133</text>
<text class="c" x="220.9" y="355.2">134</text>
<text x="165.3" y="368.6">135</text>
<text x="163.3" y="369.7">136</text>
<text x="136" y="367.6">137</text>
<text class="c" x="214.5" y="373.4">138</text>
<text class="c" x="228" y="386.3">139</text>
<text class="c" x="168.7" y="379">140</text>
<text class="c" x="218" y="384.3">141</text>
<text class="c" x="157.2" y="378.2">142</text>
<text class="c" x="182.4" y="378.4">143</text>
<text class="c" x="194.7" y="380">144</text>
<text class="c" x="175.8" y="376">145</text>
<text class="c" x="186.5" y="376.7">146</text>
<text class="c" x="161.7" y="380.8">147</text>
<text class="c" x="219.5" y="379.8">148</text>
<text class="c" x="222.5" y="385.7">149</text>
<text class="c" x="152.9" y="380.9">150</text>
<text class="c" x="219.3" y="374.7">151</text>
<text class="c" x="186.1" y="381.3">152</text>
<text class="c" x="172.1" y="377.4">153</text>
<text class="c" x="213.1" y="378">154</text>
<text class="c" x="218.4" y="389.3">155</text>
<text x="188.2" y="391.3">156</text>
<text class="c" x="190.9" y="381">157</text>
<text x="223" y="392.8">158</text>
<text class="c" x="215.5" y="369.6">159</text>
<text class="c" x="175.8" y="379.8">160</text>
<text class="c" x="212.1" y="374.7">161</text>
<text class="c" x="225.3" y="389.6">162</text>
<text x="204.5" y="389.2">163</text>
<text x="177.8" y="384.5">164</text>
<text x="146.7" y="389.7">165</text>
<text class="c" x="220.5" y="377.9">166</text>
<text class="c" x="180.3" y="377.1">167</text>
<text class="c" x="216.1" y="387.6">168</text>
<text class="c" x="178.8" y="380.2">169</text>
<text class="c" x="216.3" y="375.9">170</text>
</g>
<path d="M136.2 368.2 C137.3 368.3 139.7 368.8 143.2 368.7 C146.7 368.6 152.6 367.9 157.2 367.7 C161.9 367.5 167.3 367.4 171.3 367.5 C175.3 367.6 178.3 368 181.4 368.5 C184.4 369 187 370 189.4 370.5 C191.7 371 193.4 371.8 195.4 371.5 C197.4 371.3 199.4 369.8 201.4 369 C203.5 368.2 205.5 367 207.5 366.7 C209.5 366.4 211.5 367 213.5 367.4 C215.5 367.9 217.5 369.1 219.5 369.4 C221.5 369.7 223.7 369.5 225.6 369.2 C227.4 368.9 229 368.3 230.6 367.5 C232.2 366.8 234.3 365.2 235.1 364.7 L235.1 371.5 C234.3 371.6 232.2 371.9 230.6 372.2 C229 372.6 227.4 373.3 225.6 373.4 C223.7 373.6 221.5 373.6 219.5 373.2 C217.5 372.9 215.5 371.6 213.5 371.2 C211.5 370.8 209.5 370.5 207.5 370.9 C205.5 371.3 203.5 372.7 201.4 373.5 C199.4 374.4 197.4 375.7 195.4 375.9 C193.4 376.2 191.7 375.4 189.4 375 C187 374.6 184.4 374 181.4 373.5 C178.3 373.1 175.3 372.5 171.3 372.5 C167.3 372.5 161.9 372.9 157.2 373.5 C152.6 374.2 146.7 375.1 143.2 376.3 C139.7 377.4 137.3 379.6 136.2 380.3 Z" fill="#999999" fill-opacity="0.4"/>
<path d="M136.2 374.2 C137.8 373.9 142.7 372.9 146.2 372.2 C149.7 371.6 153.1 370.9 157.2 370.5 C161.4 370.1 167.3 369.9 171.3 369.9 C175.3 370 178.3 370.5 181.4 370.9 C184.4 371.4 187 372.3 189.4 372.7 C191.7 373.2 193.4 374 195.4 373.7 C197.4 373.5 199.4 372.1 201.4 371.2 C203.5 370.4 205.5 369.1 207.5 368.7 C209.5 368.4 211.5 368.8 213.5 369.2 C215.5 369.6 217.5 370.9 219.5 371.2 C221.5 371.6 223.7 371.5 225.6 371.2 C227.4 371 229 370.3 230.6 369.7 C232.2 369.2 234.3 368.3 235.1 368" fill="none" stroke="#3366FF" stroke-width="1.65" stroke-linejoin="round"/>
<rect x="0" y="0" width="598.6" height="438.0" fill="none" stroke="#333" stroke-width="1.85"/>
<text class="tl" text-anchor="end" transform="translate(-7.6,25.4) scale(1,1)">0.7</text>
<text class="tl" text-anchor="end" transform="translate(-7.6,82.2) scale(1,1)">0.6</text>
<text class="tl" text-anchor="end" transform="translate(-7.6,139.1) scale(1,1)">0.5</text>
<text class="tl" text-anchor="end" transform="translate(-7.6,195.9) scale(1,1)">0.4</text>
<text class="tl" text-anchor="end" transform="translate(-7.6,252.8) scale(1,1)">0.3</text>
<text class="tl" text-anchor="end" transform="translate(-7.6,309.7) scale(1,1)">0.2</text>
<text class="tl" text-anchor="end" transform="translate(-7.6,366.5) scale(1,1)">0.1</text>
<text class="tl" text-anchor="end" transform="translate(-7.6,423.4) scale(1,1)">0.0</text>
<text class="tl" text-anchor="end" transform="translate(39.5,456.9) scale(1,1)">−100</text>
<text class="tl" text-anchor="end" transform="translate(103.4,456.9) scale(1,1)">−80</text>
<text class="tl" text-anchor="end" transform="translate(167.4,456.9) scale(1,1)">−60</text>
<text class="tl" text-anchor="end" transform="translate(231.3,456.9) scale(1,1)">−40</text>
<text class="tl" text-anchor="end" transform="translate(295.3,456.9) scale(1,1)">−20</text>
<text class="tl" text-anchor="end" transform="translate(359.2,456.9) scale(1,1)">0</text>
<text class="tl" text-anchor="end" transform="translate(423.1,456.9) scale(1,1)">20</text>
<text class="tl" text-anchor="end" transform="translate(487.1,456.9) scale(1,1)">40</text>
<text class="tl" text-anchor="end" transform="translate(551,456.9) scale(1,1)">60</text>
<path d="M-4.4 20.1 H0 M-4.4 76.9 H0 M-4.4 133.8 H0 M-4.4 190.6 H0 M-4.4 247.5 H0 M-4.4 304.4 H0 M-4.4 361.2 H0 M-4.4 418.1 H0 M27.5 438.0 v4.4 M91.4 438.0 v4.4 M155.4 438.0 v4.4 M219.3 438.0 v4.4 M283.3 438.0 v4.4 M347.2 438.0 v4.4 M411.1 438.0 v4.4 M475.1 438.0 v4.4 M539 438.0 v4.4" stroke="#333" stroke-width="1.8" fill="none"/>
<text class="at" text-anchor="end" x="387.5" y="475.6">Mobility (% changed)</text>
<text class="at" text-anchor="middle" transform="translate(-36.6,219) rotate(-90)">Case ratio</text>
<text class="ti" text-anchor="middle" x="299.3" y="-41.4">Colombia</text>
<text class="st" text-anchor="middle" x="299.3" y="-12.7">(Late phase)</text>
<text class="lt" x="521.9" y="71.8">Month</text>
<circle cx="534.8" cy="95.2" r="8.8" fill="#800080" fill-opacity="0.3" stroke="#adadad" stroke-width="1.3"/>
<text class="ll" x="556.6" y="100">Jun</text>
<circle cx="534.8" cy="121.8" r="8.8" fill="#FF7F00" fill-opacity="0.3" stroke="#adadad" stroke-width="1.3"/>
<text class="ll" x="556.6" y="126.6">Jul</text>
<circle cx="534.8" cy="148.3" r="8.8" fill="#FFFF33" fill-opacity="0.3" stroke="#adadad" stroke-width="1.3"/>
<text class="ll" x="556.6" y="153.1">Aug</text>
</g>
<g transform="translate(75,1233) scale(1.0)">
<g fill-opacity="0.3" stroke="#adadad" stroke-width="1.25">
<circle cx="279.9" cy="298.4" r="8.85" fill="#E41A1C"/>
<circle cx="255.2" cy="360.6" r="8.85" fill="#E41A1C"/>
<circle cx="242.7" cy="328.2" r="8.85" fill="#E41A1C"/>
<circle cx="185.6" cy="375.8" r="8.85" fill="#E41A1C"/>
<circle cx="183.8" cy="377" r="8.85" fill="#E41A1C"/>
<circle cx="182.1" cy="357.5" r="8.85" fill="#377EB8"/>
<circle cx="174.7" cy="366.1" r="8.85" fill="#377EB8"/>
<circle cx="186.2" cy="391" r="8.85" fill="#377EB8"/>
<circle cx="158.6" cy="361.4" r="8.85" fill="#377EB8"/>
<circle cx="160.6" cy="372.3" r="8.85" fill="#377EB8"/>
<circle cx="174.7" cy="398.1" r="8.85" fill="#377EB8"/>
<circle cx="178.7" cy="390.7" r="8.85" fill="#377EB8"/>
<circle cx="168.9" cy="373.4" r="8.85" fill="#377EB8"/>
<circle cx="192.4" cy="389.4" r="8.85" fill="#377EB8"/>
<circle cx="174.4" cy="382.6" r="8.85" fill="#377EB8"/>
<circle cx="188" cy="383.1" r="8.85" fill="#377EB8"/>
<circle cx="170.8" cy="388.7" r="8.85" fill="#377EB8"/>
<circle cx="181.8" cy="386.8" r="8.85" fill="#377EB8"/>
<circle cx="177.1" cy="406.7" r="8.85" fill="#377EB8"/>
<circle cx="182.8" cy="394.9" r="8.85" fill="#377EB8"/>
<circle cx="187.2" cy="395.2" r="8.85" fill="#377EB8"/>
<circle cx="179.9" cy="381.9" r="8.85" fill="#377EB8"/>
<circle cx="170.3" cy="404.1" r="8.85" fill="#377EB8"/>
<circle cx="197.4" cy="389.9" r="8.85" fill="#377EB8"/>
<circle cx="169.7" cy="377.1" r="8.85" fill="#377EB8"/>
<circle cx="179.5" cy="399" r="8.85" fill="#377EB8"/>
<circle cx="169.5" cy="399.3" r="8.85" fill="#377EB8"/>
<circle cx="188.8" cy="388.1" r="8.85" fill="#377EB8"/>
<circle cx="121.1" cy="400.4" r="8.85" fill="#377EB8"/>
<circle cx="172.3" cy="406.6" r="8.85" fill="#377EB8"/>
<circle cx="191.1" cy="395.5" r="8.85" fill="#377EB8"/>
<circle cx="84.1" cy="397.3" r="8.85" fill="#377EB8"/>
<circle cx="191.1" cy="400.4" r="8.85" fill="#377EB8"/>
<circle cx="198.1" cy="396.5" r="8.85" fill="#377EB8"/>
<circle cx="174.2" cy="393.1" r="8.85" fill="#377EB8"/>
<circle cx="202.8" cy="371.5" r="8.85" fill="#4DAF4A"/>
<circle cx="240.3" cy="391.8" r="8.85" fill="#4DAF4A"/>
<circle cx="208.8" cy="409.8" r="8.85" fill="#4DAF4A"/>
<circle cx="211.4" cy="402.8" r="8.85" fill="#4DAF4A"/>
<circle cx="213" cy="394.2" r="8.85" fill="#4DAF4A"/>
<circle cx="214.6" cy="367.2" r="8.85" fill="#4DAF4A"/>
<circle cx="213.8" cy="365.3" r="8.85" fill="#4DAF4A"/>
<circle cx="210.8" cy="382.6" r="8.85" fill="#4DAF4A"/>
<circle cx="231.7" cy="385.6" r="8.85" fill="#4DAF4A"/>
<circle cx="244.7" cy="404.8" r="8.85" fill="#4DAF4A"/>
<circle cx="232.5" cy="396.5" r="8.85" fill="#4DAF4A"/>
<circle cx="238.8" cy="372.3" r="8.85" fill="#4DAF4A"/>
<circle cx="240" cy="370.8" r="8.85" fill="#4DAF4A"/>
<circle cx="240.3" cy="379.3" r="8.85" fill="#4DAF4A"/>
<circle cx="136.1" cy="348.4" r="8.85" fill="#4DAF4A"/>
<circle cx="222" cy="383.4" r="8.85" fill="#4DAF4A"/>
<circle cx="207.6" cy="378.7" r="8.85" fill="#4DAF4A"/>
<circle cx="236.4" cy="402" r="8.85" fill="#4DAF4A"/>
<circle cx="236" cy="335.6" r="8.85" fill="#4DAF4A"/>
<circle cx="239.6" cy="371.5" r="8.85" fill="#4DAF4A"/>
<circle cx="263" cy="362.2" r="8.85" fill="#4DAF4A"/>
<circle cx="151.7" cy="392.6" r="8.85" fill="#4DAF4A"/>
<circle cx="224" cy="387.6" r="8.85" fill="#4DAF4A"/>
<circle cx="283.3" cy="362.9" r="8.85" fill="#4DAF4A"/>
<circle cx="260.6" cy="371.5" r="8.85" fill="#4DAF4A"/>
<circle cx="271.6" cy="385.6" r="8.85" fill="#4DAF4A"/>
<circle cx="267.7" cy="387.9" r="8.85" fill="#4DAF4A"/>
<circle cx="266.1" cy="393.4" r="8.85" fill="#4DAF4A"/>
<circle cx="260.6" cy="380.1" r="8.85" fill="#4DAF4A"/>
<circle cx="332.5" cy="377.8" r="8.85" fill="#4DAF4A"/>
<circle cx="338" cy="393.4" r="8.85" fill="#4DAF4A"/>
<circle cx="291.9" cy="388.2" r="8.85" fill="#984EA3"/>
<circle cx="294.2" cy="395.8" r="8.85" fill="#984EA3"/>
<circle cx="295.8" cy="369.2" r="8.85" fill="#984EA3"/>
<circle cx="299.2" cy="359.3" r="8.85" fill="#984EA3"/>
<circle cx="285.6" cy="375.4" r="8.85" fill="#984EA3"/>
<circle cx="281" cy="391.1" r="8.85" fill="#984EA3"/>
<circle cx="331" cy="368.4" r="8.85" fill="#984EA3"/>
<circle cx="294.5" cy="362.7" r="8.85" fill="#984EA3"/>
<circle cx="291.8" cy="366.1" r="8.85" fill="#984EA3"/>
<circle cx="342.6" cy="395.7" r="8.85" fill="#984EA3"/>
<circle cx="321.6" cy="360" r="8.85" fill="#984EA3"/>
<circle cx="336.4" cy="360.1" r="8.85" fill="#984EA3"/>
<circle cx="329.5" cy="359" r="8.85" fill="#984EA3"/>
<circle cx="340.9" cy="350.1" r="8.85" fill="#984EA3"/>
<circle cx="340.7" cy="386.6" r="8.85" fill="#984EA3"/>
<circle cx="322.3" cy="366.1" r="8.85" fill="#984EA3"/>
<circle cx="345.5" cy="389.8" r="8.85" fill="#984EA3"/>
<circle cx="339.1" cy="367.3" r="8.85" fill="#984EA3"/>
<circle cx="299.9" cy="364.7" r="8.85" fill="#984EA3"/>
<circle cx="352.8" cy="303.8" r="8.85" fill="#984EA3"/>
<circle cx="336.7" cy="389.2" r="8.85" fill="#984EA3"/>
<circle cx="331.8" cy="356.7" r="8.85" fill="#984EA3"/>
<circle cx="318.8" cy="363.5" r="8.85" fill="#984EA3"/>
<circle cx="323.9" cy="360.4" r="8.85" fill="#984EA3"/>
<circle cx="335.4" cy="342.6" r="8.85" fill="#984EA3"/>
<circle cx="344.3" cy="352.3" r="8.85" fill="#984EA3"/>
<circle cx="380.2" cy="330.6" r="8.85" fill="#984EA3"/>
<circle cx="361.5" cy="304.5" r="8.85" fill="#984EA3"/>
<circle cx="337.8" cy="307.8" r="8.85" fill="#984EA3"/>
<circle cx="348.1" cy="352" r="8.85" fill="#984EA3"/>
<circle cx="325.1" cy="381.6" r="8.85" fill="#FF7F00"/>
<circle cx="345.1" cy="374" r="8.85" fill="#FF7F00"/>
<circle cx="328" cy="337.9" r="8.85" fill="#FF7F00"/>
<circle cx="328" cy="389.6" r="8.85" fill="#FF7F00"/>
<circle cx="365.5" cy="383.5" r="8.85" fill="#FF7F00"/>
<circle cx="317.8" cy="389.7" r="8.85" fill="#FF7F00"/>
<circle cx="352.8" cy="403.6" r="8.85" fill="#FF7F00"/>
<circle cx="332" cy="337.9" r="8.85" fill="#FF7F00"/>
<circle cx="323.2" cy="351.7" r="8.85" fill="#FF7F00"/>
<circle cx="339.6" cy="378.7" r="8.85" fill="#FF7F00"/>
<circle cx="329" cy="351.5" r="8.85" fill="#FF7F00"/>
<circle cx="386.9" cy="402" r="8.85" fill="#FF7F00"/>
<circle cx="332" cy="381.9" r="8.85" fill="#FF7F00"/>
<circle cx="365.2" cy="392.4" r="8.85" fill="#FF7F00"/>
<circle cx="349.7" cy="380.3" r="8.85" fill="#FF7F00"/>
<circle cx="321.7" cy="385.6" r="8.85" fill="#FF7F00"/>
<circle cx="322.2" cy="393.2" r="8.85" fill="#FF7F00"/>
<circle cx="396.3" cy="366.1" r="8.85" fill="#FF7F00"/>
<circle cx="328.6" cy="380.4" r="8.85" fill="#FF7F00"/>
<circle cx="228.9" cy="382.4" r="8.85" fill="#FF7F00"/>
<circle cx="317.7" cy="355.2" r="8.85" fill="#FF7F00"/>
<circle cx="321.3" cy="338.9" r="8.85" fill="#FF7F00"/>
<circle cx="345.8" cy="383.9" r="8.85" fill="#FF7F00"/>
<circle cx="318.6" cy="348" r="8.85" fill="#FF7F00"/>
<circle cx="360.1" cy="338.6" r="8.85" fill="#FF7F00"/>
<circle cx="336.6" cy="374.9" r="8.85" fill="#FF7F00"/>
<circle cx="335.7" cy="353.2" r="8.85" fill="#FF7F00"/>
<circle cx="323.5" cy="356" r="8.85" fill="#FF7F00"/>
<circle cx="406.3" cy="372.8" r="8.85" fill="#FF7F00"/>
<circle cx="415" cy="383.5" r="8.85" fill="#FF7F00"/>
<circle cx="332" cy="363.1" r="8.85" fill="#FF7F00"/>
<circle cx="317.5" cy="370.1" r="8.85" fill="#FFFF33"/>
<circle cx="404.6" cy="393.5" r="8.85" fill="#FFFF33"/>
<circle cx="383.5" cy="378.4" r="8.85" fill="#FFFF33"/>
<circle cx="336.8" cy="396.3" r="8.85" fill="#FFFF33"/>
<circle cx="329.3" cy="375.3" r="8.85" fill="#FFFF33"/>
<circle cx="390.1" cy="373.5" r="8.85" fill="#FFFF33"/>
<circle cx="332.6" cy="387.4" r="8.85" fill="#FFFF33"/>
<circle cx="395.6" cy="356.7" r="8.85" fill="#FFFF33"/>
<circle cx="397.6" cy="384.1" r="8.85" fill="#FFFF33"/>
<circle cx="381.6" cy="382.8" r="8.85" fill="#FFFF33"/>
<circle cx="381.6" cy="372.1" r="8.85" fill="#FFFF33"/>
<circle cx="328.9" cy="396.8" r="8.85" fill="#FFFF33"/>
<circle cx="395" cy="381.5" r="8.85" fill="#FFFF33"/>
<circle cx="311.3" cy="356.7" r="8.85" fill="#FFFF33"/>
<circle cx="387.7" cy="377.3" r="8.85" fill="#FFFF33"/>
<circle cx="324.7" cy="370.9" r="8.85" fill="#FFFF33"/>
<circle cx="306.3" cy="396.9" r="8.85" fill="#FFFF33"/>
<circle cx="384.2" cy="382.8" r="8.85" fill="#FFFF33"/>
<circle cx="397.4" cy="351.1" r="8.85" fill="#FFFF33"/>
<circle cx="335.9" cy="365.3" r="8.85" fill="#FFFF33"/>
<circle cx="382.2" cy="364.7" r="8.85" fill="#FFFF33"/>
<circle cx="382.2" cy="335.7" r="8.85" fill="#FFFF33"/>
<circle cx="335" cy="371.5" r="8.85" fill="#FFFF33"/>
<circle cx="393.7" cy="376.6" r="8.85" fill="#FFFF33"/>
<circle cx="321.2" cy="372.1" r="8.85" fill="#FFFF33"/>
<circle cx="333.5" cy="398" r="8.85" fill="#FFFF33"/>
<circle cx="325.5" cy="386.1" r="8.85" fill="#FFFF33"/>
<circle cx="326.8" cy="366.3" r="8.85" fill="#FFFF33"/>
<circle cx="348.9" cy="373.2" r="8.85" fill="#FFFF33"/>
<circle cx="423.8" cy="375.4" r="8.85" fill="#FFFF33"/>
</g>
<g class="pl">
<text x="279.9" y="302.4">14</text>
<text x="255.2" y="364.5">15</text>
<text x="242.7" y="332.2">16</text>
<text x="185.6" y="379.7">17</text>
<text x="183.8" y="380.9">18</text>
<text x="182.1" y="361.4">19</text>
<text x="174.7" y="370">20</text>
<text class="c" x="186.2" y="394.9">21</text>
<text x="158.6" y="365.3">22</text>
<text x="160.6" y="376.3">23</text>
<text x="174.7" y="402">24</text>
<text class="c" x="178.7" y="394.6">25</text>
<text class="c" x="168.9" y="377.3">26</text>
<text class="c" x="192.4" y="393.4">27</text>
<text class="c" x="174.4" y="386.5">28</text>
<text class="c" x="188" y="387.1">29</text>
<text x="170.8" y="392.7">30</text>
<text class="c" x="181.8" y="390.8">31</text>
<text x="177.1" y="410.6">32</text>
<text class="c" x="182.8" y="398.8">33</text>
<text class="c" x="187.2" y="399.2">34</text>
<text class="c" x="179.9" y="385.9">35</text>
<text class="c" x="170.3" y="408">36</text>
<text class="c" x="197.4" y="393.8">37</text>
<text class="c" x="169.7" y="381.1">38</text>
<text class="c" x="179.5" y="402.9">39</text>
<text class="c" x="169.5" y="403.3">40</text>
<text class="c" x="188.8" y="392.1">41</text>
<text x="121.1" y="404.4">42</text>
<text class="c" x="172.3" y="410.5">43</text>
<text class="c" x="191.1" y="399.5">44</text>
<text x="84.1" y="401.3">45</text>
<text x="191.1" y="404.4">46</text>
<text x="198.1" y="400.5">47</text>
<text class="c" x="174.2" y="397.1">48</text>
<text x="202.8" y="375.5">49</text>
<text x="240.3" y="395.8">50</text>
<text x="208.8" y="413.8">51</text>
<text x="211.4" y="406.7">52</text>
<text x="213" y="398.1">53</text>
<text x="214.6" y="371.1">54</text>
<text x="213.8" y="369.2">55</text>
<text class="c" x="210.8" y="386.5">56</text>
<text x="231.7" y="389.5">57</text>
<text x="244.7" y="408.8">58</text>
<text x="232.5" y="400.5">59</text>
<text x="238.8" y="376.3">60</text>
<text x="240" y="374.7">61</text>
<text x="240.3" y="383.3">62</text>
<text x="136.1" y="352.4">63</text>
<text class="c" x="222" y="387.3">64</text>
<text class="c" x="207.6" y="382.7">65</text>
<text x="236.4" y="405.9">66</text>
<text x="236" y="339.5">67</text>
<text x="239.6" y="375.5">68</text>
<text x="263" y="366.1">69</text>
<text x="151.7" y="396.6">70</text>
<text class="c" x="224" y="391.6">71</text>
<text x="283.3" y="366.9">72</text>
<text x="260.6" y="375.5">73</text>
<text x="271.6" y="389.5">74</text>
<text x="267.7" y="391.9">75</text>
<text x="266.1" y="397.4">76</text>
<text x="260.6" y="384.1">77</text>
<text x="332.5" y="381.7">78</text>
<text x="338" y="397.4">79</text>
<text x="291.9" y="392.2">80</text>
<text x="294.2" y="399.7">81</text>
<text x="295.8" y="373.1">82</text>
<text x="299.2" y="363.3">83</text>
<text x="285.6" y="379.4">84</text>
<text x="281" y="395">85</text>
<text class="c" x="331" y="372.3">86</text>
<text x="294.5" y="366.7">87</text>
<text x="291.8" y="370">88</text>
<text class="c" x="342.6" y="399.7">89</text>
<text class="c" x="321.6" y="363.9">90</text>
<text class="c" x="336.4" y="364">91</text>
<text class="c" x="329.5" y="362.9">92</text>
<text class="c" x="340.9" y="354.1">93</text>
<text class="c" x="340.7" y="390.6">94</text>
<text class="c" x="322.3" y="370">95</text>
<text class="c" x="345.5" y="393.8">96</text>
<text class="c" x="339.1" y="371.3">97</text>
<text x="299.9" y="368.7">98</text>
<text x="352.8" y="307.7">99</text>
<text class="c" x="336.7" y="393.1">100</text>
<text class="c" x="331.8" y="360.6">101</text>
<text class="c" x="318.8" y="367.5">102</text>
<text class="c" x="323.9" y="364.4">103</text>
<text x="335.4" y="346.6">104</text>
<text class="c" x="344.3" y="356.3">105</text>
<text x="380.2" y="334.5">106</text>
<text x="361.5" y="308.4">107</text>
<text x="337.8" y="311.8">108</text>
<text x="348.1" y="355.9">109</text>
<text class="c" x="325.1" y="385.5">110</text>
<text class="c" x="345.1" y="378">111</text>
<text x="328" y="341.9">112</text>
<text class="c" x="328" y="393.6">113</text>
<text x="365.5" y="387.4">114</text>
<text class="c" x="317.8" y="393.6">115</text>
<text x="352.8" y="407.5">116</text>
<text x="332" y="341.9">117</text>
<text class="c" x="323.2" y="355.6">118</text>
<text class="c" x="339.6" y="382.7">119</text>
<text class="c" x="329" y="355.5">120</text>
<text x="386.9" y="405.9">121</text>
<text class="c" x="332" y="385.8">122</text>
<text x="365.2" y="396.4">123</text>
<text class="c" x="349.7" y="384.3">124</text>
<text class="c" x="321.7" y="389.5">125</text>
<text class="c" x="322.2" y="397.2">126</text>
<text x="396.3" y="370">127</text>
<text class="c" x="328.6" y="384.4">128</text>
<text x="228.9" y="386.4">129</text>
<text class="c" x="317.7" y="359.1">130</text>
<text x="321.3" y="342.8">131</text>
<text class="c" x="345.8" y="387.9">132</text>
<text x="318.6" y="351.9">133</text>
<text x="360.1" y="342.6">134</text>
<text class="c" x="336.6" y="378.9">135</text>
<text class="c" x="335.7" y="357.2">136</text>
<text class="c" x="323.5" y="359.9">137</text>
<text x="406.3" y="376.7">138</text>
<text x="415" y="387.4">139</text>
<text class="c" x="332" y="367.1">140</text>
<text class="c" x="317.5" y="374.1">141</text>
<text x="404.6" y="397.5">142</text>
<text class="c" x="383.5" y="382.3">143</text>
<text class="c" x="336.8" y="400.3">144</text>
<text class="c" x="329.3" y="379.2">145</text>
<text class="c" x="390.1" y="377.4">146</text>
<text class="c" x="332.6" y="391.4">147</text>
<text x="395.6" y="360.6">148</text>
<text x="397.6" y="388.1">149</text>
<text x="381.6" y="386.8">150</text>
<text x="381.6" y="376">151</text>
<text class="c" x="328.9" y="400.7">152</text>
<text x="395" y="385.4">153</text>
<text x="311.3" y="360.6">154</text>
<text class="c" x="387.7" y="381.3">155</text>
<text class="c" x="324.7" y="374.9">156</text>
<text x="306.3" y="400.8">157</text>
<text x="384.2" y="386.8">158</text>
<text x="397.4" y="355">159</text>
<text class="c" x="335.9" y="369.3">160</text>
<text x="382.2" y="368.7">161</text>
<text x="382.2" y="339.6">162</text>
<text class="c" x="335" y="375.4">163</text>
<text class="c" x="393.7" y="380.6">164</text>
<text class="c" x="321.2" y="376">165</text>
<text class="c" x="333.5" y="402">166</text>
<text class="c" x="325.5" y="390.1">167</text>
<text class="c" x="326.8" y="370.3">168</text>
<text class="c" x="348.9" y="377.2">169</text>
<text x="423.8" y="379.4">170</text>
</g>
<path d="M84.1 357.1 C88 358.7 100 364 107.4 366.7 C114.8 369.3 121.5 371.3 128.6 373 C135.7 374.7 142.8 376 149.8 376.8 C156.9 377.7 164 378.1 171 378.3 C178.1 378.6 185.2 378.7 192.2 378.3 C199.3 378 206.4 377.3 213.4 376.2 C220.5 375.1 228.3 373.2 234.6 372 C241 370.7 246 369.7 251.6 368.8 C257.3 367.9 262.6 367 268.6 366.7 C274.6 366.3 280.9 366.6 287.7 366.7 C294.4 366.7 301.8 367.2 308.9 367.1 C315.9 367 323 366.5 330.1 366.2 C337.1 366 344.2 365.8 351.3 365.6 C358.3 365.4 365.4 365.5 372.5 365 C379.5 364.4 387.7 363.3 393.7 362.4 C399.7 361.6 403.6 360.8 408.5 359.9 C413.5 359 420.9 357.6 423.4 357.1 L423.4 389.6 C420.9 388.6 413.5 385.3 408.5 383.6 C403.6 381.9 399.7 380.7 393.7 379.4 C387.7 378 379.5 376.3 372.5 375.6 C365.4 374.8 358.3 374.7 351.3 374.7 C344.2 374.8 337.1 375.3 330.1 375.8 C323 376.3 315.9 377.4 308.9 377.7 C301.8 378 294.4 377.8 287.7 377.7 C280.9 377.6 274.6 376.6 268.6 376.8 C262.6 377.1 257.3 378.3 251.6 379.4 C246 380.4 241 382 234.6 383.2 C228.3 384.4 220.5 385.9 213.4 386.8 C206.4 387.8 199.3 388.3 192.2 388.9 C185.2 389.6 178.1 389.9 171 390.6 C164 391.3 156.9 391.9 149.8 393.2 C142.8 394.5 135.7 396.4 128.6 398.5 C121.5 400.6 114.8 403.4 107.4 405.9 C100 408.4 88 412.4 84.1 413.7 Z" fill="#999999" fill-opacity="0.4"/>
<path d="M84.1 384.7 C88 384.8 100 385.2 107.4 385.3 C114.8 385.4 121.5 385.4 128.6 385.3 C135.7 385.2 142.8 384.9 149.8 384.7 C156.9 384.5 164 384.4 171 384.3 C178.1 384.1 185.2 384.1 192.2 383.6 C199.3 383.2 206.4 382.5 213.4 381.5 C220.5 380.5 228.3 378.9 234.6 377.7 C241 376.5 246 375.1 251.6 374.1 C257.3 373.1 262.6 371.8 268.6 371.5 C274.6 371.3 280.9 372.2 287.7 372.4 C294.4 372.6 301.8 372.8 308.9 372.6 C315.9 372.4 323 371.3 330.1 370.9 C337.1 370.5 344.2 370.2 351.3 370.1 C358.3 370 365.4 370.1 372.5 370.3 C379.5 370.5 385.2 370.9 393.7 371.3 C402.2 371.8 418.4 372.7 423.4 373" fill="none" stroke="#3366FF" stroke-width="1.65" stroke-linejoin="round"/>
<rect x="0" y="0" width="598.6" height="438.0" fill="none" stroke="#333" stroke-width="1.85"/>
<text class="tl" text-anchor="end" transform="translate(-7.6,25.4) scale(1,1)">0.7</text>
<text class="tl" text-anchor="end" transform="translate(-7.6,82.2) scale(1,1)">0.6</text>
<text class="tl" text-anchor="end" transform="translate(-7.6,139.1) scale(1,1)">0.5</text>
<text class="tl" text-anchor="end" transform="translate(-7.6,195.9) scale(1,1)">0.4</text>
<text class="tl" text-anchor="end" transform="translate(-7.6,252.8) scale(1,1)">0.3</text>
<text class="tl" text-anchor="end" transform="translate(-7.6,309.7) scale(1,1)">0.2</text>
<text class="tl" text-anchor="end" transform="translate(-7.6,366.5) scale(1,1)">0.1</text>
<text class="tl" text-anchor="end" transform="translate(-7.6,423.4) scale(1,1)">0.0</text>
<text class="tl" text-anchor="end" transform="translate(39.5,456.9) scale(1,1)">−100</text>
<text class="tl" text-anchor="end" transform="translate(103.4,456.9) scale(1,1)">−80</text>
<text class="tl" text-anchor="end" transform="translate(167.4,456.9) scale(1,1)">−60</text>
<text class="tl" text-anchor="end" transform="translate(231.3,456.9) scale(1,1)">−40</text>
<text class="tl" text-anchor="end" transform="translate(295.3,456.9) scale(1,1)">−20</text>
<text class="tl" text-anchor="end" transform="translate(359.2,456.9) scale(1,1)">0</text>
<text class="tl" text-anchor="end" transform="translate(423.1,456.9) scale(1,1)">20</text>
<text class="tl" text-anchor="end" transform="translate(487.1,456.9) scale(1,1)">40</text>
<text class="tl" text-anchor="end" transform="translate(551,456.9) scale(1,1)">60</text>
<path d="M-4.4 20.1 H0 M-4.4 76.9 H0 M-4.4 133.8 H0 M-4.4 190.6 H0 M-4.4 247.5 H0 M-4.4 304.4 H0 M-4.4 361.2 H0 M-4.4 418.1 H0 M27.5 438.0 v4.4 M91.4 438.0 v4.4 M155.4 438.0 v4.4 M219.3 438.0 v4.4 M283.3 438.0 v4.4 M347.2 438.0 v4.4 M411.1 438.0 v4.4 M475.1 438.0 v4.4 M539 438.0 v4.4" stroke="#333" stroke-width="1.8" fill="none"/>
<text class="at" text-anchor="end" x="387.5" y="475.6">Mobility (% changed)</text>
<text class="at" text-anchor="middle" transform="translate(-36.6,219) rotate(-90)">Case ratio</text>
<text class="ti" text-anchor="middle" x="299.3" y="-41.9">Czech Republic</text>
<text class="st" text-anchor="middle" x="299.3" y="-13.2">(All period)</text>
<text class="lt" x="520.8" y="32">Month</text>
<circle cx="533.8" cy="55.4" r="8.8" fill="#E41A1C" fill-opacity="0.3" stroke="#adadad" stroke-width="1.3"/>
<text class="ll" x="554.9" y="60.2">Mar</text>
<circle cx="533.8" cy="82" r="8.8" fill="#377EB8" fill-opacity="0.3" stroke="#adadad" stroke-width="1.3"/>
<text class="ll" x="554.9" y="86.8">Apr</text>
<circle cx="533.8" cy="108.5" r="8.8" fill="#4DAF4A" fill-opacity="0.3" stroke="#adadad" stroke-width="1.3"/>
<text class="ll" x="554.9" y="113.3">May</text>
<circle cx="533.8" cy="135.1" r="8.8" fill="#984EA3" fill-opacity="0.3" stroke="#adadad" stroke-width="1.3"/>
<text class="ll" x="554.9" y="139.9">Jun</text>
<circle cx="533.8" cy="161.6" r="8.8" fill="#FF7F00" fill-opacity="0.3" stroke="#adadad" stroke-width="1.3"/>
<text class="ll" x="554.9" y="166.4">Jul</text>
<circle cx="533.8" cy="188.2" r="8.8" fill="#FFFF33" fill-opacity="0.3" stroke="#adadad" stroke-width="1.3"/>
<text class="ll" x="554.9" y="193">Aug</text>
</g>
<g transform="translate(738.1,1233) scale(1.0)">
<g fill-opacity="0.3" stroke="#adadad" stroke-width="1.25">
<circle cx="279.9" cy="298.4" r="8.85" fill="#E41A1C"/>
<circle cx="255.2" cy="360.6" r="8.85" fill="#E41A1C"/>
<circle cx="242.7" cy="328.2" r="8.85" fill="#E41A1C"/>
<circle cx="185.6" cy="375.8" r="8.85" fill="#E41A1C"/>
<circle cx="183.8" cy="377" r="8.85" fill="#E41A1C"/>
<circle cx="182.1" cy="357.5" r="8.85" fill="#377EB8"/>
<circle cx="174.7" cy="366.1" r="8.85" fill="#377EB8"/>
<circle cx="186.2" cy="391" r="8.85" fill="#377EB8"/>
<circle cx="158.6" cy="361.4" r="8.85" fill="#377EB8"/>
<circle cx="160.6" cy="372.3" r="8.85" fill="#377EB8"/>
<circle cx="174.7" cy="398.1" r="8.85" fill="#377EB8"/>
<circle cx="178.7" cy="390.7" r="8.85" fill="#377EB8"/>
<circle cx="168.9" cy="373.4" r="8.85" fill="#377EB8"/>
<circle cx="192.4" cy="389.4" r="8.85" fill="#377EB8"/>
<circle cx="174.4" cy="382.6" r="8.85" fill="#377EB8"/>
<circle cx="188" cy="383.1" r="8.85" fill="#377EB8"/>
<circle cx="170.8" cy="388.7" r="8.85" fill="#377EB8"/>
<circle cx="181.8" cy="386.8" r="8.85" fill="#377EB8"/>
<circle cx="177.1" cy="406.7" r="8.85" fill="#377EB8"/>
<circle cx="182.8" cy="394.9" r="8.85" fill="#377EB8"/>
<circle cx="187.2" cy="395.2" r="8.85" fill="#377EB8"/>
<circle cx="179.9" cy="381.9" r="8.85" fill="#377EB8"/>
<circle cx="170.3" cy="404.1" r="8.85" fill="#377EB8"/>
<circle cx="197.4" cy="389.9" r="8.85" fill="#377EB8"/>
<circle cx="169.7" cy="377.1" r="8.85" fill="#377EB8"/>
<circle cx="179.5" cy="399" r="8.85" fill="#377EB8"/>
<circle cx="169.5" cy="399.3" r="8.85" fill="#377EB8"/>
<circle cx="188.8" cy="388.1" r="8.85" fill="#377EB8"/>
<circle cx="121.1" cy="400.4" r="8.85" fill="#377EB8"/>
<circle cx="172.3" cy="406.6" r="8.85" fill="#377EB8"/>
<circle cx="191.1" cy="395.5" r="8.85" fill="#377EB8"/>
<circle cx="84.1" cy="397.3" r="8.85" fill="#377EB8"/>
<circle cx="191.1" cy="400.4" r="8.85" fill="#377EB8"/>
<circle cx="198.1" cy="396.5" r="8.85" fill="#377EB8"/>
<circle cx="174.2" cy="393.1" r="8.85" fill="#377EB8"/>
<circle cx="202.8" cy="371.5" r="8.85" fill="#4DAF4A"/>
<circle cx="240.3" cy="391.8" r="8.85" fill="#4DAF4A"/>
<circle cx="208.8" cy="409.8" r="8.85" fill="#4DAF4A"/>
<circle cx="211.4" cy="402.8" r="8.85" fill="#4DAF4A"/>
<circle cx="213" cy="394.2" r="8.85" fill="#4DAF4A"/>
<circle cx="214.6" cy="367.2" r="8.85" fill="#4DAF4A"/>
<circle cx="213.8" cy="365.3" r="8.85" fill="#4DAF4A"/>
<circle cx="210.8" cy="382.6" r="8.85" fill="#4DAF4A"/>
<circle cx="231.7" cy="385.6" r="8.85" fill="#4DAF4A"/>
<circle cx="244.7" cy="404.8" r="8.85" fill="#4DAF4A"/>
<circle cx="232.5" cy="396.5" r="8.85" fill="#4DAF4A"/>
<circle cx="238.8" cy="372.3" r="8.85" fill="#4DAF4A"/>
<circle cx="240" cy="370.8" r="8.85" fill="#4DAF4A"/>
<circle cx="240.3" cy="379.3" r="8.85" fill="#4DAF4A"/>
<circle cx="136.1" cy="348.4" r="8.85" fill="#4DAF4A"/>
<circle cx="222" cy="383.4" r="8.85" fill="#4DAF4A"/>
<circle cx="207.6" cy="378.7" r="8.85" fill="#4DAF4A"/>
<circle cx="236.4" cy="402" r="8.85" fill="#4DAF4A"/>
<circle cx="236" cy="335.6" r="8.85" fill="#4DAF4A"/>
<circle cx="239.6" cy="371.5" r="8.85" fill="#4DAF4A"/>
<circle cx="263" cy="362.2" r="8.85" fill="#4DAF4A"/>
<circle cx="151.7" cy="392.6" r="8.85" fill="#4DAF4A"/>
<circle cx="224" cy="387.6" r="8.85" fill="#4DAF4A"/>
<circle cx="283.3" cy="362.9" r="8.85" fill="#4DAF4A"/>
<circle cx="260.6" cy="371.5" r="8.85" fill="#4DAF4A"/>
<circle cx="271.6" cy="385.6" r="8.85" fill="#4DAF4A"/>
<circle cx="267.7" cy="387.9" r="8.85" fill="#4DAF4A"/>
<circle cx="266.1" cy="393.4" r="8.85" fill="#4DAF4A"/>
<circle cx="260.6" cy="380.1" r="8.85" fill="#4DAF4A"/>
<circle cx="332.5" cy="377.8" r="8.85" fill="#4DAF4A"/>
<circle cx="338" cy="393.4" r="8.85" fill="#4DAF4A"/>
<circle cx="291.9" cy="388.2" r="8.85" fill="#984EA3"/>
<circle cx="294.2" cy="395.8" r="8.85" fill="#984EA3"/>
<circle cx="295.8" cy="369.2" r="8.85" fill="#984EA3"/>
<circle cx="299.2" cy="359.3" r="8.85" fill="#984EA3"/>
<circle cx="285.6" cy="375.4" r="8.85" fill="#984EA3"/>
<circle cx="281" cy="391.1" r="8.85" fill="#984EA3"/>
</g>
<g class="pl">
<text x="279.9" y="302.4">14</text>
<text x="255.2" y="364.5">15</text>
<text x="242.7" y="332.2">16</text>
<text x="185.6" y="379.7">17</text>
<text x="183.8" y="380.9">18</text>
<text x="182.1" y="361.4">19</text>
<text x="174.7" y="370">20</text>
<text class="c" x="186.2" y="394.9">21</text>
<text x="158.6" y="365.3">22</text>
<text x="160.6" y="376.3">23</text>
<text x="174.7" y="402">24</text>
<text class="c" x="178.7" y="394.6">25</text>
<text class="c" x="168.9" y="377.3">26</text>
<text class="c" x="192.4" y="393.4">27</text>
<text class="c" x="174.4" y="386.5">28</text>
<text class="c" x="188" y="387.1">29</text>
<text x="170.8" y="392.7">30</text>
<text class="c" x="181.8" y="390.8">31</text>
<text x="177.1" y="410.6">32</text>
<text class="c" x="182.8" y="398.8">33</text>
<text class="c" x="187.2" y="399.2">34</text>
<text class="c" x="179.9" y="385.9">35</text>
<text class="c" x="170.3" y="408">36</text>
<text class="c" x="197.4" y="393.8">37</text>
<text class="c" x="169.7" y="381.1">38</text>
<text class="c" x="179.5" y="402.9">39</text>
<text class="c" x="169.5" y="403.3">40</text>
<text class="c" x="188.8" y="392.1">41</text>
<text x="121.1" y="404.4">42</text>
<text class="c" x="172.3" y="410.5">43</text>
<text class="c" x="191.1" y="399.5">44</text>
<text x="84.1" y="401.3">45</text>
<text x="191.1" y="404.4">46</text>
<text x="198.1" y="400.5">47</text>
<text class="c" x="174.2" y="397.1">48</text>
<text x="202.8" y="375.5">49</text>
<text x="240.3" y="395.8">50</text>
<text x="208.8" y="413.8">51</text>
<text x="211.4" y="406.7">52</text>
<text x="213" y="398.1">53</text>
<text x="214.6" y="371.1">54</text>
<text x="213.8" y="369.2">55</text>
<text class="c" x="210.8" y="386.5">56</text>
<text x="231.7" y="389.5">57</text>
<text x="244.7" y="408.8">58</text>
<text x="232.5" y="400.5">59</text>
<text x="238.8" y="376.3">60</text>
<text x="240" y="374.7">61</text>
<text x="240.3" y="383.3">62</text>
<text x="136.1" y="352.4">63</text>
<text class="c" x="222" y="387.3">64</text>
<text class="c" x="207.6" y="382.7">65</text>
<text x="236.4" y="405.9">66</text>
<text x="236" y="339.5">67</text>
<text x="239.6" y="375.5">68</text>
<text x="263" y="366.1">69</text>
<text x="151.7" y="396.6">70</text>
<text class="c" x="224" y="391.6">71</text>
<text x="283.3" y="366.9">72</text>
<text x="260.6" y="375.5">73</text>
<text x="271.6" y="389.5">74</text>
<text x="267.7" y="391.9">75</text>
<text x="266.1" y="397.4">76</text>
<text x="260.6" y="384.1">77</text>
<text x="332.5" y="381.7">78</text>
<text x="338" y="397.4">79</text>
<text x="291.9" y="392.2">80</text>
<text x="294.2" y="399.7">81</text>
<text x="295.8" y="373.1">82</text>
<text x="299.2" y="363.3">83</text>
<text x="285.6" y="379.4">84</text>
<text x="281" y="395">85</text>
</g>
<path d="M97.4 366.1 C102.7 366.5 118.9 367.4 129.4 368.4 C139.9 369.4 152.8 370.6 160.6 372.3 C168.5 374 171.1 376.9 176.3 378.6 C181.5 380.3 187.5 381.7 191.9 382.5 C196.3 383.2 198.9 383.6 202.8 383.2 C206.7 382.9 210.6 381.7 215.3 380.1 C220 378.6 225.8 375.8 231 373.9 C236.2 371.9 241.4 369.8 246.6 368.4 C251.8 367 257 365.8 262.2 365.3 C267.4 364.8 272.6 365 277.8 365.3 C283 365.5 288.3 366.8 293.5 366.8 C298.7 366.8 303.9 365.8 309.1 365.3 C314.3 364.8 319.8 364.2 324.7 363.7 C329.7 363.2 336.4 362.4 338.8 362.2 L338.8 412.2 C336.4 410.2 329.7 404.5 324.7 400.4 C319.8 396.4 314.3 391.3 309.1 387.9 C303.9 384.6 298.7 381.7 293.5 380.1 C288.3 378.6 283 378.8 277.8 378.6 C272.6 378.3 267.4 378.2 262.2 378.6 C257 379 251.8 379.9 246.6 380.9 C241.4 381.9 236.2 383.2 231 384.8 C225.8 386.4 220 388.8 215.3 390.3 C210.6 391.7 206.7 392.9 202.8 393.4 C198.9 393.9 196.3 393.8 191.9 393.4 C187.5 393 181.5 391.7 176.3 391.1 C171.1 390.4 165.9 389.5 160.6 389.5 C155.4 389.5 150.2 390 145 391.1 C139.8 392.1 134.6 393.7 129.4 395.8 C124.2 397.8 119.1 400.3 113.8 403.6 C108.4 406.8 100.1 413.3 97.4 415.3 Z" fill="#999999" fill-opacity="0.4"/>
<path d="M84.1 397.3 C86.4 396.1 93.2 392.4 98.1 390.3 C103.1 388.2 108.6 386.3 113.8 384.8 C119 383.3 124.2 382.1 129.4 381.4 C134.6 380.7 139.8 380.6 145 380.6 C150.2 380.6 155.4 380.7 160.6 381.4 C165.9 382.1 171.1 383.8 176.3 384.8 C181.5 385.9 187.5 387.2 191.9 387.6 C196.3 388.1 198.9 388.1 202.8 387.6 C206.7 387.2 210.6 386.2 215.3 384.8 C220 383.4 225.8 381 231 379.3 C236.2 377.7 241.4 375.9 246.6 374.7 C251.8 373.4 257 372.5 262.2 372 C267.4 371.5 272.6 371.5 277.8 371.7 C283 371.9 288.3 372.2 293.5 373.1 C298.7 374 303.9 375.4 309.1 377 C314.3 378.6 319.8 380.8 324.7 382.5 C329.7 384.2 336.4 386.4 338.8 387.2" fill="none" stroke="#3366FF" stroke-width="1.65" stroke-linejoin="round"/>
<rect x="0" y="0" width="598.6" height="438.0" fill="none" stroke="#333" stroke-width="1.85"/>
<text class="tl" text-anchor="end" transform="translate(-7.6,25.4) scale(1,1)">0.7</text>
<text class="tl" text-anchor="end" transform="translate(-7.6,82.2) scale(1,1)">0.6</text>
<text class="tl" text-anchor="end" transform="translate(-7.6,139.1) scale(1,1)">0.5</text>
<text class="tl" text-anchor="end" transform="translate(-7.6,195.9) scale(1,1)">0.4</text>
<text class="tl" text-anchor="end" transform="translate(-7.6,252.8) scale(1,1)">0.3</text>
<text class="tl" text-anchor="end" transform="translate(-7.6,309.7) scale(1,1)">0.2</text>
<text class="tl" text-anchor="end" transform="translate(-7.6,366.5) scale(1,1)">0.1</text>
<text class="tl" text-anchor="end" transform="translate(-7.6,423.4) scale(1,1)">0.0</text>
<text class="tl" text-anchor="end" transform="translate(39.5,456.9) scale(1,1)">−100</text>
<text class="tl" text-anchor="end" transform="translate(103.4,456.9) scale(1,1)">−80</text>
<text class="tl" text-anchor="end" transform="translate(167.4,456.9) scale(1,1)">−60</text>
<text class="tl" text-anchor="end" transform="translate(231.3,456.9) scale(1,1)">−40</text>
<text class="tl" text-anchor="end" transform="translate(295.3,456.9) scale(1,1)">−20</text>
<text class="tl" text-anchor="end" transform="translate(359.2,456.9) scale(1,1)">0</text>
<text class="tl" text-anchor="end" transform="translate(423.1,456.9) scale(1,1)">20</text>
<text class="tl" text-anchor="end" transform="translate(487.1,456.9) scale(1,1)">40</text>
<text class="tl" text-anchor="end" transform="translate(551,456.9) scale(1,1)">60</text>
<path d="M-4.4 20.1 H0 M-4.4 76.9 H0 M-4.4 133.8 H0 M-4.4 190.6 H0 M-4.4 247.5 H0 M-4.4 304.4 H0 M-4.4 361.2 H0 M-4.4 418.1 H0 M27.5 438.0 v4.4 M91.4 438.0 v4.4 M155.4 438.0 v4.4 M219.3 438.0 v4.4 M283.3 438.0 v4.4 M347.2 438.0 v4.4 M411.1 438.0 v4.4 M475.1 438.0 v4.4 M539 438.0 v4.4" stroke="#333" stroke-width="1.8" fill="none"/>
<text class="at" text-anchor="end" x="387.5" y="475.6">Mobility (% changed)</text>
<text class="at" text-anchor="middle" transform="translate(-36.6,219) rotate(-90)">Case ratio</text>
<text class="ti" text-anchor="middle" x="299.3" y="-41.9">Czech Republic</text>
<text class="st" text-anchor="middle" x="299.3" y="-13.2">(Early phase)</text>
<text class="lt" x="521.6" y="58.5">Month</text>
<circle cx="533.8" cy="82" r="8.8" fill="#E41A1C" fill-opacity="0.3" stroke="#adadad" stroke-width="1.3"/>
<text class="ll" x="555.8" y="86.8">Mar</text>
<circle cx="533.8" cy="108.5" r="8.8" fill="#377EB8" fill-opacity="0.3" stroke="#adadad" stroke-width="1.3"/>
<text class="ll" x="555.8" y="113.3">Apr</text>
<circle cx="533.8" cy="135.1" r="8.8" fill="#4DAF4A" fill-opacity="0.3" stroke="#adadad" stroke-width="1.3"/>
<text class="ll" x="555.8" y="139.9">May</text>
<circle cx="533.8" cy="161.6" r="8.8" fill="#984EA3" fill-opacity="0.3" stroke="#adadad" stroke-width="1.3"/>
<text class="ll" x="555.8" y="166.4">Jun</text>
</g>
<g transform="translate(1401.2,1233) scale(1.0)">
<g fill-opacity="0.3" stroke="#adadad" stroke-width="1.25">
<circle cx="331" cy="368.4" r="8.85" fill="#800080"/>
<circle cx="294.5" cy="362.7" r="8.85" fill="#800080"/>
<circle cx="291.8" cy="366.1" r="8.85" fill="#800080"/>
<circle cx="342.6" cy="395.7" r="8.85" fill="#800080"/>
<circle cx="321.6" cy="360" r="8.85" fill="#800080"/>
<circle cx="336.4" cy="360.1" r="8.85" fill="#800080"/>
<circle cx="329.5" cy="359" r="8.85" fill="#800080"/>
<circle cx="340.9" cy="350.1" r="8.85" fill="#800080"/>
<circle cx="340.7" cy="386.6" r="8.85" fill="#800080"/>
<circle cx="322.3" cy="366.1" r="8.85" fill="#800080"/>
<circle cx="345.5" cy="389.8" r="8.85" fill="#800080"/>
<circle cx="339.1" cy="367.3" r="8.85" fill="#800080"/>
<circle cx="299.9" cy="364.7" r="8.85" fill="#800080"/>
<circle cx="352.8" cy="303.8" r="8.85" fill="#800080"/>
<circle cx="336.7" cy="389.2" r="8.85" fill="#800080"/>
<circle cx="331.8" cy="356.7" r="8.85" fill="#800080"/>
<circle cx="318.8" cy="363.5" r="8.85" fill="#800080"/>
<circle cx="323.9" cy="360.4" r="8.85" fill="#800080"/>
<circle cx="335.4" cy="342.6" r="8.85" fill="#800080"/>
<circle cx="344.3" cy="352.3" r="8.85" fill="#800080"/>
<circle cx="380.2" cy="330.6" r="8.85" fill="#800080"/>
<circle cx="361.5" cy="304.5" r="8.85" fill="#800080"/>
<circle cx="337.8" cy="307.8" r="8.85" fill="#800080"/>
<circle cx="348.1" cy="352" r="8.85" fill="#800080"/>
<circle cx="325.1" cy="381.6" r="8.85" fill="#FF7F00"/>
<circle cx="345.1" cy="374" r="8.85" fill="#FF7F00"/>
<circle cx="328" cy="337.9" r="8.85" fill="#FF7F00"/>
<circle cx="328" cy="389.6" r="8.85" fill="#FF7F00"/>
<circle cx="365.5" cy="383.5" r="8.85" fill="#FF7F00"/>
<circle cx="317.8" cy="389.7" r="8.85" fill="#FF7F00"/>
<circle cx="352.8" cy="403.6" r="8.85" fill="#FF7F00"/>
<circle cx="332" cy="337.9" r="8.85" fill="#FF7F00"/>
<circle cx="323.2" cy="351.7" r="8.85" fill="#FF7F00"/>
<circle cx="339.6" cy="378.7" r="8.85" fill="#FF7F00"/>
<circle cx="329" cy="351.5" r="8.85" fill="#FF7F00"/>
<circle cx="386.9" cy="402" r="8.85" fill="#FF7F00"/>
<circle cx="332" cy="381.9" r="8.85" fill="#FF7F00"/>
<circle cx="365.2" cy="392.4" r="8.85" fill="#FF7F00"/>
<circle cx="349.7" cy="380.3" r="8.85" fill="#FF7F00"/>
<circle cx="321.7" cy="385.6" r="8.85" fill="#FF7F00"/>
<circle cx="322.2" cy="393.2" r="8.85" fill="#FF7F00"/>
<circle cx="396.3" cy="366.1" r="8.85" fill="#FF7F00"/>
<circle cx="328.6" cy="380.4" r="8.85" fill="#FF7F00"/>
<circle cx="228.9" cy="382.4" r="8.85" fill="#FF7F00"/>
<circle cx="317.7" cy="355.2" r="8.85" fill="#FF7F00"/>
<circle cx="321.3" cy="338.9" r="8.85" fill="#FF7F00"/>
<circle cx="345.8" cy="383.9" r="8.85" fill="#FF7F00"/>
<circle cx="318.6" cy="348" r="8.85" fill="#FF7F00"/>
<circle cx="360.1" cy="338.6" r="8.85" fill="#FF7F00"/>
<circle cx="336.6" cy="374.9" r="8.85" fill="#FF7F00"/>
<circle cx="335.7" cy="353.2" r="8.85" fill="#FF7F00"/>
<circle cx="323.5" cy="356" r="8.85" fill="#FF7F00"/>
<circle cx="406.3" cy="372.8" r="8.85" fill="#FF7F00"/>
<circle cx="415" cy="383.5" r="8.85" fill="#FF7F00"/>
<circle cx="332" cy="363.1" r="8.85" fill="#FF7F00"/>
<circle cx="317.5" cy="370.1" r="8.85" fill="#FFFF33"/>
<circle cx="404.6" cy="393.5" r="8.85" fill="#FFFF33"/>
<circle cx="383.5" cy="378.4" r="8.85" fill="#FFFF33"/>
<circle cx="336.8" cy="396.3" r="8.85" fill="#FFFF33"/>
<circle cx="329.3" cy="375.3" r="8.85" fill="#FFFF33"/>
<circle cx="390.1" cy="373.5" r="8.85" fill="#FFFF33"/>
<circle cx="332.6" cy="387.4" r="8.85" fill="#FFFF33"/>
<circle cx="395.6" cy="356.7" r="8.85" fill="#FFFF33"/>
<circle cx="397.6" cy="384.1" r="8.85" fill="#FFFF33"/>
<circle cx="381.6" cy="382.8" r="8.85" fill="#FFFF33"/>
<circle cx="381.6" cy="372.1" r="8.85" fill="#FFFF33"/>
<circle cx="328.9" cy="396.8" r="8.85" fill="#FFFF33"/>
<circle cx="395" cy="381.5" r="8.85" fill="#FFFF33"/>
<circle cx="311.3" cy="356.7" r="8.85" fill="#FFFF33"/>
<circle cx="387.7" cy="377.3" r="8.85" fill="#FFFF33"/>
<circle cx="324.7" cy="370.9" r="8.85" fill="#FFFF33"/>
<circle cx="306.3" cy="396.9" r="8.85" fill="#FFFF33"/>
<circle cx="384.2" cy="382.8" r="8.85" fill="#FFFF33"/>
<circle cx="397.4" cy="351.1" r="8.85" fill="#FFFF33"/>
<circle cx="335.9" cy="365.3" r="8.85" fill="#FFFF33"/>
<circle cx="382.2" cy="364.7" r="8.85" fill="#FFFF33"/>
<circle cx="382.2" cy="335.7" r="8.85" fill="#FFFF33"/>
<circle cx="335" cy="371.5" r="8.85" fill="#FFFF33"/>
<circle cx="393.7" cy="376.6" r="8.85" fill="#FFFF33"/>
<circle cx="321.2" cy="372.1" r="8.85" fill="#FFFF33"/>
<circle cx="333.5" cy="398" r="8.85" fill="#FFFF33"/>
<circle cx="325.5" cy="386.1" r="8.85" fill="#FFFF33"/>
<circle cx="326.8" cy="366.3" r="8.85" fill="#FFFF33"/>
<circle cx="348.9" cy="373.2" r="8.85" fill="#FFFF33"/>
<circle cx="423.8" cy="375.4" r="8.85" fill="#FFFF33"/>
</g>
<g class="pl late">
<text class="c" x="331" y="372.3">86</text>
<text x="294.5" y="366.7">87</text>
<text x="291.8" y="370">88</text>
<text class="c" x="342.6" y="399.7">89</text>
<text class="c" x="321.6" y="363.9">90</text>
<text class="c" x="336.4" y="364">91</text>
<text class="c" x="329.5" y="362.9">92</text>
<text class="c" x="340.9" y="354.1">93</text>
<text class="c" x="340.7" y="390.6">94</text>
<text class="c" x="322.3" y="370">95</text>
<text class="c" x="345.5" y="393.8">96</text>
<text class="c" x="339.1" y="371.3">97</text>
<text x="299.9" y="368.7">98</text>
<text x="352.8" y="307.7">99</text>
<text class="c" x="336.7" y="393.1">100</text>
<text class="c" x="331.8" y="360.6">101</text>
<text class="c" x="318.8" y="367.5">102</text>
<text class="c" x="323.9" y="364.4">103</text>
<text x="335.4" y="346.6">104</text>
<text class="c" x="344.3" y="356.3">105</text>
<text x="380.2" y="334.5">106</text>
<text x="361.5" y="308.4">107</text>
<text x="337.8" y="311.8">108</text>
<text x="348.1" y="355.9">109</text>
<text class="c" x="325.1" y="385.5">110</text>
<text class="c" x="345.1" y="378">111</text>
<text x="328" y="341.9">112</text>
<text class="c" x="328" y="393.6">113</text>
<text x="365.5" y="387.4">114</text>
<text class="c" x="317.8" y="393.6">115</text>
<text x="352.8" y="407.5">116</text>
<text x="332" y="341.9">117</text>
<text class="c" x="323.2" y="355.6">118</text>
<text class="c" x="339.6" y="382.7">119</text>
<text class="c" x="329" y="355.5">120</text>
<text x="386.9" y="405.9">121</text>
<text class="c" x="332" y="385.8">122</text>
<text x="365.2" y="396.4">123</text>
<text class="c" x="349.7" y="384.3">124</text>
<text class="c" x="321.7" y="389.5">125</text>
<text class="c" x="322.2" y="397.2">126</text>
<text x="396.3" y="370">127</text>
<text class="c" x="328.6" y="384.4">128</text>
<text x="228.9" y="386.4">129</text>
<text class="c" x="317.7" y="359.1">130</text>
<text x="321.3" y="342.8">131</text>
<text class="c" x="345.8" y="387.9">132</text>
<text x="318.6" y="351.9">133</text>
<text x="360.1" y="342.6">134</text>
<text class="c" x="336.6" y="378.9">135</text>
<text class="c" x="335.7" y="357.2">136</text>
<text class="c" x="323.5" y="359.9">137</text>
<text x="406.3" y="376.7">138</text>
<text x="415" y="387.4">139</text>
<text class="c" x="332" y="367.1">140</text>
<text class="c" x="317.5" y="374.1">141</text>
<text x="404.6" y="397.5">142</text>
<text class="c" x="383.5" y="382.3">143</text>
<text class="c" x="336.8" y="400.3">144</text>
<text class="c" x="329.3" y="379.2">145</text>
<text class="c" x="390.1" y="377.4">146</text>
<text class="c" x="332.6" y="391.4">147</text>
<text x="395.6" y="360.6">148</text>
<text x="397.6" y="388.1">149</text>
<text x="381.6" y="386.8">150</text>
<text x="381.6" y="376">151</text>
<text class="c" x="328.9" y="400.7">152</text>
<text x="395" y="385.4">153</text>
<text x="311.3" y="360.6">154</text>
<text class="c" x="387.7" y="381.3">155</text>
<text class="c" x="324.7" y="374.9">156</text>
<text x="306.3" y="400.8">157</text>
<text x="384.2" y="386.8">158</text>
<text x="397.4" y="355">159</text>
<text class="c" x="335.9" y="369.3">160</text>
<text x="382.2" y="368.7">161</text>
<text x="382.2" y="339.6">162</text>
<text class="c" x="335" y="375.4">163</text>
<text class="c" x="393.7" y="380.6">164</text>
<text class="c" x="321.2" y="376">165</text>
<text class="c" x="333.5" y="402">166</text>
<text class="c" x="325.5" y="390.1">167</text>
<text class="c" x="326.8" y="370.3">168</text>
<text class="c" x="348.9" y="377.2">169</text>
<text x="423.8" y="379.4">170</text>
</g>
<path d="M233.8 343.3 C236.4 344.1 243.1 346.4 249 348 C254.8 349.5 262.4 351.3 269.1 352.7 C275.8 354 282.5 354.3 289.2 356 C295.9 357.7 303.7 361.2 309.2 362.7 C314.8 364.3 318.2 365.4 322.6 365.4 C327.1 365.4 331.6 364.3 336 362.7 C340.5 361.2 345 357.8 349.4 356 C353.9 354.2 358.4 352.6 362.8 352 C367.3 351.4 371.7 351.8 376.2 352.7 C380.7 353.6 385.1 355.7 389.6 357.4 C394.1 359 399 362.2 403 362.7 C407 363.3 410.2 361.7 413.7 360.7 C417.2 359.7 422.1 357.6 423.8 357 L423.8 414.3 C422.1 411 417.2 399.9 413.7 394.9 C410.2 389.8 407 386.8 403 384.1 C399 381.5 394.1 380.6 389.6 378.8 C385.1 377 380.7 374.8 376.2 373.4 C371.7 372.1 367.3 370.7 362.8 370.7 C358.4 370.7 353.9 372.2 349.4 373.4 C345 374.7 340.5 377 336 378.1 C331.6 379.2 327.1 379.6 322.6 380.1 C318.2 380.7 314.8 380.5 309.2 381.5 C303.7 382.5 295.9 384.4 289.2 386.2 C282.5 387.9 275.8 389.4 269.1 392.2 C262.4 395 254.8 398.8 249 402.9 C243.1 407 236.4 414.6 233.8 417 Z" fill="#999999" fill-opacity="0.4"/>
<path d="M228.9 381.5 C231.1 380.7 237.8 378.1 242.3 376.8 C246.7 375.5 251.2 374.5 255.7 373.7 C260.1 372.9 264.6 372.4 269.1 372.1 C273.5 371.7 278 371.6 282.5 371.6 C286.9 371.6 291.4 371.8 295.9 372.1 C300.3 372.4 304.8 373.2 309.2 373.4 C313.7 373.7 318.2 374.1 322.6 373.7 C327.1 373.2 331.6 372.1 336 370.7 C340.5 369.4 345.6 366.8 349.4 365.4 C353.2 364 355.5 363.1 358.8 362.4 C362.1 361.8 365.9 361.4 369.5 361.6 C373.1 361.9 376.9 362.7 380.2 363.8 C383.6 364.9 386.5 366.6 389.6 368.1 C392.7 369.6 395.6 371 399 372.8 C402.3 374.5 406.6 377.1 409.7 378.8 C412.8 380.5 415.4 381.8 417.7 382.8 C420.1 383.8 422.7 384.5 423.8 384.8" fill="none" stroke="#3366FF" stroke-width="1.65" stroke-linejoin="round"/>
<rect x="0" y="0" width="598.6" height="438.0" fill="none" stroke="#333" stroke-width="1.85"/>
<text class="tl" text-anchor="end" transform="translate(-7.6,25.4) scale(1,1)">0.7</text>
<text class="tl" text-anchor="end" transform="translate(-7.6,82.2) scale(1,1)">0.6</text>
<text class="tl" text-anchor="end" transform="translate(-7.6,139.1) scale(1,1)">0.5</text>
<text class="tl" text-anchor="end" transform="translate(-7.6,195.9) scale(1,1)">0.4</text>
<text class="tl" text-anchor="end" transform="translate(-7.6,252.8) scale(1,1)">0.3</text>
<text class="tl" text-anchor="end" transform="translate(-7.6,309.7) scale(1,1)">0.2</text>
<text class="tl" text-anchor="end" transform="translate(-7.6,366.5) scale(1,1)">0.1</text>
<text class="tl" text-anchor="end" transform="translate(-7.6,423.4) scale(1,1)">0.0</text>
<text class="tl" text-anchor="end" transform="translate(39.5,456.9) scale(1,1)">−100</text>
<text class="tl" text-anchor="end" transform="translate(103.4,456.9) scale(1,1)">−80</text>
<text class="tl" text-anchor="end" transform="translate(167.4,456.9) scale(1,1)">−60</text>
<text class="tl" text-anchor="end" transform="translate(231.3,456.9) scale(1,1)">−40</text>
<text class="tl" text-anchor="end" transform="translate(295.3,456.9) scale(1,1)">−20</text>
<text class="tl" text-anchor="end" transform="translate(359.2,456.9) scale(1,1)">0</text>
<text class="tl" text-anchor="end" transform="translate(423.1,456.9) scale(1,1)">20</text>
<text class="tl" text-anchor="end" transform="translate(487.1,456.9) scale(1,1)">40</text>
<text class="tl" text-anchor="end" transform="translate(551,456.9) scale(1,1)">60</text>
<path d="M-4.4 20.1 H0 M-4.4 76.9 H0 M-4.4 133.8 H0 M-4.4 190.6 H0 M-4.4 247.5 H0 M-4.4 304.4 H0 M-4.4 361.2 H0 M-4.4 418.1 H0 M27.5 438.0 v4.4 M91.4 438.0 v4.4 M155.4 438.0 v4.4 M219.3 438.0 v4.4 M283.3 438.0 v4.4 M347.2 438.0 v4.4 M411.1 438.0 v4.4 M475.1 438.0 v4.4 M539 438.0 v4.4" stroke="#333" stroke-width="1.8" fill="none"/>
<text class="at" text-anchor="end" x="387.5" y="475.6">Mobility (% changed)</text>
<text class="at" text-anchor="middle" transform="translate(-36.6,219) rotate(-90)">Case ratio</text>
<text class="ti" text-anchor="middle" x="299.3" y="-41.9">Czech Republic</text>
<text class="st" text-anchor="middle" x="299.3" y="-13.2">(Late phase)</text>
<text class="lt" x="521.9" y="71.8">Month</text>
<circle cx="534.8" cy="95.2" r="8.8" fill="#800080" fill-opacity="0.3" stroke="#adadad" stroke-width="1.3"/>
<text class="ll" x="556.6" y="100">Jun</text>
<circle cx="534.8" cy="121.8" r="8.8" fill="#FF7F00" fill-opacity="0.3" stroke="#adadad" stroke-width="1.3"/>
<text class="ll" x="556.6" y="126.6">Jul</text>
<circle cx="534.8" cy="148.3" r="8.8" fill="#FFFF33" fill-opacity="0.3" stroke="#adadad" stroke-width="1.3"/>
<text class="ll" x="556.6" y="153.1">Aug</text>
</g>
<g transform="translate(68.8,1821.3) scale(1.01)">
<g fill-opacity="0.3" stroke="#adadad" stroke-width="1.25">
<circle cx="270" cy="347.1" r="8.85" fill="#E41A1C"/>
<circle cx="221.1" cy="374.4" r="8.85" fill="#E41A1C"/>
<circle cx="223" cy="373.2" r="8.85" fill="#E41A1C"/>
<circle cx="202" cy="385.2" r="8.85" fill="#377EB8"/>
<circle cx="210.5" cy="390.7" r="8.85" fill="#377EB8"/>
<circle cx="209.2" cy="341.8" r="8.85" fill="#377EB8"/>
<circle cx="236" cy="331.2" r="8.85" fill="#377EB8"/>
<circle cx="235" cy="372.5" r="8.85" fill="#377EB8"/>
<circle cx="215.3" cy="359.8" r="8.85" fill="#377EB8"/>
<circle cx="206.8" cy="409.3" r="8.85" fill="#377EB8"/>
<circle cx="202.9" cy="395.9" r="8.85" fill="#377EB8"/>
<circle cx="209.8" cy="398.4" r="8.85" fill="#377EB8"/>
<circle cx="188.9" cy="400.5" r="8.85" fill="#377EB8"/>
<circle cx="209.6" cy="376.3" r="8.85" fill="#377EB8"/>
<circle cx="193.1" cy="378.2" r="8.85" fill="#377EB8"/>
<circle cx="183.9" cy="414.2" r="8.85" fill="#377EB8"/>
<circle cx="202.4" cy="404.5" r="8.85" fill="#377EB8"/>
<circle cx="192.5" cy="382.1" r="8.85" fill="#377EB8"/>
<circle cx="182.3" cy="392.2" r="8.85" fill="#377EB8"/>
<circle cx="174.7" cy="387.5" r="8.85" fill="#377EB8"/>
<circle cx="197" cy="407.3" r="8.85" fill="#377EB8"/>
<circle cx="208.1" cy="357.3" r="8.85" fill="#377EB8"/>
<circle cx="186.6" cy="394.8" r="8.85" fill="#377EB8"/>
<circle cx="213" cy="379.9" r="8.85" fill="#377EB8"/>
<circle cx="223" cy="395.4" r="8.85" fill="#377EB8"/>
<circle cx="212.6" cy="394.5" r="8.85" fill="#377EB8"/>
<circle cx="145.7" cy="369.3" r="8.85" fill="#377EB8"/>
<circle cx="198.2" cy="411.9" r="8.85" fill="#377EB8"/>
<circle cx="185.2" cy="366.8" r="8.85" fill="#377EB8"/>
<circle cx="250.9" cy="387.5" r="8.85" fill="#377EB8"/>
<circle cx="206.8" cy="392.6" r="8.85" fill="#377EB8"/>
<circle cx="201" cy="393.4" r="8.85" fill="#377EB8"/>
<circle cx="184.3" cy="398" r="8.85" fill="#377EB8"/>
<circle cx="205.8" cy="366.8" r="8.85" fill="#4DAF4A"/>
<circle cx="224.5" cy="406" r="8.85" fill="#4DAF4A"/>
<circle cx="217.5" cy="386.5" r="8.85" fill="#4DAF4A"/>
<circle cx="221.9" cy="415.7" r="8.85" fill="#4DAF4A"/>
<circle cx="228" cy="411.5" r="8.85" fill="#4DAF4A"/>
<circle cx="233.1" cy="390.3" r="8.85" fill="#4DAF4A"/>
<circle cx="228.6" cy="374.4" r="8.85" fill="#4DAF4A"/>
<circle cx="232.3" cy="408.7" r="8.85" fill="#4DAF4A"/>
<circle cx="242.9" cy="395.1" r="8.85" fill="#4DAF4A"/>
<circle cx="221.1" cy="408.7" r="8.85" fill="#4DAF4A"/>
<circle cx="226.1" cy="384" r="8.85" fill="#4DAF4A"/>
<circle cx="222.2" cy="385.6" r="8.85" fill="#4DAF4A"/>
<circle cx="230" cy="405.6" r="8.85" fill="#4DAF4A"/>
<circle cx="246.5" cy="385.2" r="8.85" fill="#4DAF4A"/>
<circle cx="167.4" cy="360.4" r="8.85" fill="#4DAF4A"/>
<circle cx="244.2" cy="354.7" r="8.85" fill="#4DAF4A"/>
<circle cx="262.4" cy="347.7" r="8.85" fill="#4DAF4A"/>
<circle cx="212.4" cy="386.8" r="8.85" fill="#4DAF4A"/>
<circle cx="218.3" cy="391.1" r="8.85" fill="#4DAF4A"/>
<circle cx="268.7" cy="368.1" r="8.85" fill="#4DAF4A"/>
<circle cx="261.1" cy="397.3" r="8.85" fill="#4DAF4A"/>
<circle cx="265.5" cy="375.7" r="8.85" fill="#4DAF4A"/>
<circle cx="288.4" cy="369.3" r="8.85" fill="#4DAF4A"/>
<circle cx="318.9" cy="327.2" r="8.85" fill="#4DAF4A"/>
<circle cx="259.2" cy="405.3" r="8.85" fill="#4DAF4A"/>
<circle cx="283.7" cy="411.9" r="8.85" fill="#4DAF4A"/>
<circle cx="276.3" cy="351.6" r="8.85" fill="#4DAF4A"/>
<circle cx="281.4" cy="380.1" r="8.85" fill="#4DAF4A"/>
<circle cx="273.8" cy="352.8" r="8.85" fill="#4DAF4A"/>
<circle cx="296.7" cy="369.3" r="8.85" fill="#4DAF4A"/>
<circle cx="292.8" cy="382.1" r="8.85" fill="#4DAF4A"/>
<circle cx="302.4" cy="394.4" r="8.85" fill="#984EA3"/>
<circle cx="302.8" cy="411.7" r="8.85" fill="#984EA3"/>
<circle cx="300.5" cy="419.5" r="8.85" fill="#984EA3"/>
<circle cx="293.5" cy="351.8" r="8.85" fill="#984EA3"/>
<circle cx="301.7" cy="355.4" r="8.85" fill="#984EA3"/>
<circle cx="326.3" cy="307.1" r="8.85" fill="#984EA3"/>
<circle cx="325.7" cy="309.3" r="8.85" fill="#984EA3"/>
<circle cx="319.5" cy="418.1" r="8.85" fill="#984EA3"/>
<circle cx="310.5" cy="377.7" r="8.85" fill="#984EA3"/>
<circle cx="308.4" cy="364.6" r="8.85" fill="#984EA3"/>
<circle cx="311.2" cy="382.5" r="8.85" fill="#984EA3"/>
<circle cx="328.5" cy="418.1" r="8.85" fill="#984EA3"/>
<circle cx="337.1" cy="398.1" r="8.85" fill="#984EA3"/>
<circle cx="331.4" cy="402.9" r="8.85" fill="#984EA3"/>
<circle cx="306.4" cy="406.7" r="8.85" fill="#984EA3"/>
<circle cx="337.4" cy="418.1" r="8.85" fill="#984EA3"/>
<circle cx="349.8" cy="405" r="8.85" fill="#984EA3"/>
<circle cx="367.1" cy="394.9" r="8.85" fill="#984EA3"/>
<circle cx="328.7" cy="412.7" r="8.85" fill="#984EA3"/>
<circle cx="345.7" cy="418.1" r="8.85" fill="#984EA3"/>
<circle cx="343.9" cy="400.5" r="8.85" fill="#984EA3"/>
<circle cx="373.4" cy="346.6" r="8.85" fill="#984EA3"/>
<circle cx="353.3" cy="418.1" r="8.85" fill="#984EA3"/>
<circle cx="333.3" cy="410.5" r="8.85" fill="#984EA3"/>
<circle cx="344.8" cy="374.9" r="8.85" fill="#FF7F00"/>
<circle cx="356.8" cy="418.1" r="8.85" fill="#FF7F00"/>
<circle cx="343" cy="386.5" r="8.85" fill="#FF7F00"/>
<circle cx="387.2" cy="370.5" r="8.85" fill="#FF7F00"/>
<circle cx="346.4" cy="394.3" r="8.85" fill="#FF7F00"/>
<circle cx="360.9" cy="418.1" r="8.85" fill="#FF7F00"/>
<circle cx="264" cy="374.2" r="8.85" fill="#FF7F00"/>
<circle cx="223.5" cy="374.2" r="8.85" fill="#FF7F00"/>
<circle cx="335.4" cy="189.8" r="8.85" fill="#FF7F00"/>
<circle cx="331.6" cy="249.6" r="8.85" fill="#FF7F00"/>
<circle cx="370.6" cy="377" r="8.85" fill="#FF7F00"/>
<circle cx="389.7" cy="397.4" r="8.85" fill="#FF7F00"/>
<circle cx="345.6" cy="412.7" r="8.85" fill="#FF7F00"/>
<circle cx="335.3" cy="390.2" r="8.85" fill="#FF7F00"/>
<circle cx="355.6" cy="408.8" r="8.85" fill="#FF7F00"/>
<circle cx="328.1" cy="390" r="8.85" fill="#FF7F00"/>
<circle cx="375" cy="339.4" r="8.85" fill="#FF7F00"/>
<circle cx="378.2" cy="397.7" r="8.85" fill="#FF7F00"/>
<circle cx="331.5" cy="396.8" r="8.85" fill="#FF7F00"/>
<circle cx="322.2" cy="397" r="8.85" fill="#FF7F00"/>
<circle cx="352.6" cy="397" r="8.85" fill="#FF7F00"/>
<circle cx="344.3" cy="340.4" r="8.85" fill="#FF7F00"/>
<circle cx="340.2" cy="346.6" r="8.85" fill="#FF7F00"/>
<circle cx="341.4" cy="392" r="8.85" fill="#FF7F00"/>
<circle cx="409.5" cy="268.3" r="8.85" fill="#FF7F00"/>
<circle cx="348.9" cy="373" r="8.85" fill="#FF7F00"/>
<circle cx="350.6" cy="323.1" r="8.85" fill="#FF7F00"/>
<circle cx="351.9" cy="336.2" r="8.85" fill="#FF7F00"/>
<circle cx="345.9" cy="389.3" r="8.85" fill="#FF7F00"/>
<circle cx="343" cy="271.3" r="8.85" fill="#FF7F00"/>
<circle cx="388.5" cy="249.6" r="8.85" fill="#FFFF33"/>
<circle cx="418.7" cy="328.9" r="8.85" fill="#FFFF33"/>
<circle cx="350.6" cy="349.4" r="8.85" fill="#FFFF33"/>
<circle cx="340.2" cy="408.8" r="8.85" fill="#FFFF33"/>
<circle cx="340.9" cy="327.3" r="8.85" fill="#FFFF33"/>
<circle cx="334.4" cy="275.9" r="8.85" fill="#FFFF33"/>
<circle cx="321.6" cy="353.5" r="8.85" fill="#FFFF33"/>
<circle cx="368.1" cy="369" r="8.85" fill="#FFFF33"/>
<circle cx="401" cy="348.3" r="8.85" fill="#FFFF33"/>
<circle cx="325" cy="418.1" r="8.85" fill="#FFFF33"/>
<circle cx="352.3" cy="378.6" r="8.85" fill="#FFFF33"/>
<circle cx="331.2" cy="378.4" r="8.85" fill="#FFFF33"/>
<circle cx="332" cy="386.9" r="8.85" fill="#FFFF33"/>
<circle cx="372.7" cy="403.5" r="8.85" fill="#FFFF33"/>
<circle cx="389.2" cy="382.2" r="8.85" fill="#FFFF33"/>
<circle cx="327.8" cy="347.3" r="8.85" fill="#FFFF33"/>
<circle cx="325.7" cy="408.1" r="8.85" fill="#FFFF33"/>
<circle cx="356.8" cy="376.3" r="8.85" fill="#FFFF33"/>
<circle cx="343.1" cy="380.4" r="8.85" fill="#FFFF33"/>
<circle cx="349.2" cy="307.6" r="8.85" fill="#FFFF33"/>
<circle cx="401" cy="330.7" r="8.85" fill="#FFFF33"/>
<circle cx="410.6" cy="316.9" r="8.85" fill="#FFFF33"/>
<circle cx="410.6" cy="322.4" r="8.85" fill="#FFFF33"/>
<circle cx="348.5" cy="382" r="8.85" fill="#FFFF33"/>
<circle cx="346.4" cy="332.1" r="8.85" fill="#FFFF33"/>
<circle cx="337.9" cy="385.8" r="8.85" fill="#FFFF33"/>
<circle cx="334.7" cy="364.8" r="8.85" fill="#FFFF33"/>
<circle cx="379.6" cy="356" r="8.85" fill="#FFFF33"/>
<circle cx="401" cy="354.2" r="8.85" fill="#FFFF33"/>
<circle cx="339.3" cy="403.5" r="8.85" fill="#FFFF33"/>
<circle cx="350.5" cy="389.5" r="8.85" fill="#FFFF33"/>
</g>
<g class="pl">
<text x="270" y="351.1">14</text>
<text x="221.1" y="378.4">15</text>
<text x="223" y="377.1">16</text>
<text x="202" y="389.2">17</text>
<text class="c" x="210.5" y="394.7">18</text>
<text x="209.2" y="345.7">19</text>
<text x="236" y="335.2">20</text>
<text x="235" y="376.5">21</text>
<text x="215.3" y="363.8">22</text>
<text class="c" x="206.8" y="413.2">23</text>
<text class="c" x="202.9" y="399.9">24</text>
<text class="c" x="209.8" y="402.4">25</text>
<text x="188.9" y="404.4">26</text>
<text x="209.6" y="380.3">27</text>
<text x="193.1" y="382.2">28</text>
<text x="183.9" y="418.2">29</text>
<text class="c" x="202.4" y="408.4">30</text>
<text x="192.5" y="386">31</text>
<text x="182.3" y="396.2">32</text>
<text x="174.7" y="391.5">33</text>
<text class="c" x="197" y="411.2">34</text>
<text x="208.1" y="361.2">35</text>
<text class="c" x="186.6" y="398.7">36</text>
<text class="c" x="213" y="383.8">37</text>
<text x="223" y="399.3">38</text>
<text class="c" x="212.6" y="398.5">39</text>
<text x="145.7" y="373.3">40</text>
<text x="198.2" y="415.9">41</text>
<text x="185.2" y="370.8">42</text>
<text x="250.9" y="391.5">43</text>
<text class="c" x="206.8" y="396.5">44</text>
<text class="c" x="201" y="397.3">45</text>
<text class="c" x="184.3" y="402">46</text>
<text x="205.8" y="370.8">47</text>
<text class="c" x="224.5" y="410">48</text>
<text class="c" x="217.5" y="390.5">49</text>
<text x="221.9" y="419.7">50</text>
<text class="c" x="228" y="415.5">51</text>
<text x="233.1" y="394.3">52</text>
<text class="c" x="228.6" y="378.4">53</text>
<text class="c" x="232.3" y="412.6">54</text>
<text x="242.9" y="399.1">55</text>
<text class="c" x="221.1" y="412.6">56</text>
<text x="226.1" y="387.9">57</text>
<text class="c" x="222.2" y="389.5">58</text>
<text class="c" x="230" y="409.6">59</text>
<text x="246.5" y="389.2">60</text>
<text x="167.4" y="364.4">61</text>
<text x="244.2" y="358.7">62</text>
<text x="262.4" y="351.7">63</text>
<text class="c" x="212.4" y="390.8">64</text>
<text class="c" x="218.3" y="395">65</text>
<text x="268.7" y="372">66</text>
<text x="261.1" y="401.2">67</text>
<text x="265.5" y="379.6">68</text>
<text x="288.4" y="373.3">69</text>
<text x="318.9" y="331.1">70</text>
<text x="259.2" y="409.3">71</text>
<text x="283.7" y="415.9">72</text>
<text x="276.3" y="355.5">73</text>
<text x="281.4" y="384.1">74</text>
<text x="273.8" y="356.8">75</text>
<text x="296.7" y="373.3">76</text>
<text x="292.8" y="386">77</text>
<text x="302.4" y="398.3">78</text>
<text x="302.8" y="415.6">79</text>
<text x="300.5" y="423.5">80</text>
<text x="293.5" y="355.8">81</text>
<text x="301.7" y="359.3">82</text>
<text x="326.3" y="311">83</text>
<text x="325.7" y="313.3">84</text>
<text x="319.5" y="422.1">85</text>
<text x="310.5" y="381.6">86</text>
<text x="323.6" y="422.1">87</text>
<text x="308.4" y="368.5">88</text>
<text x="311.2" y="386.5">89</text>
<text x="328.5" y="422.1">90</text>
<text class="c" x="337.1" y="402.1">91</text>
<text x="332.6" y="422.1">92</text>
<text class="c" x="331.4" y="406.9">93</text>
<text x="357.5" y="422.1">94</text>
<text x="306.4" y="410.6">95</text>
<text x="337.4" y="422.1">96</text>
<text class="c" x="349.8" y="409">97</text>
<text x="367.1" y="398.9">98</text>
<text x="341.6" y="422.1">99</text>
<text class="c" x="328.7" y="416.7">100</text>
<text x="345.7" y="422.1">101</text>
<text class="c" x="343.9" y="404.4">102</text>
<text x="349.9" y="422.1">103</text>
<text x="373.4" y="350.5">104</text>
<text x="384.8" y="422.1">105</text>
<text x="353.3" y="422.1">106</text>
<text class="c" x="333.3" y="414.4">107</text>
<text class="c" x="344.8" y="378.9">108</text>
<text x="356.8" y="422.1">109</text>
<text class="c" x="343" y="390.4">110</text>
<text x="387.2" y="374.4">111</text>
<text class="c" x="346.4" y="398.3">112</text>
<text x="360.9" y="422.1">113</text>
<text x="264" y="378.2">114</text>
<text x="223.5" y="378.2">115</text>
<text x="335.4" y="193.8">116</text>
<text x="331.6" y="253.6">117</text>
<text x="370.6" y="380.9">118</text>
<text x="389.7" y="401.4">119</text>
<text x="344.3" y="422.1">120</text>
<text class="c" x="345.6" y="416.6">121</text>
<text class="c" x="335.3" y="394.1">122</text>
<text class="c" x="355.6" y="412.7">123</text>
<text class="c" x="328.1" y="394">124</text>
<text x="375" y="343.4">125</text>
<text x="378.2" y="401.7">126</text>
<text class="c" x="331.5" y="400.7">127</text>
<text x="322.2" y="401">128</text>
<text x="352.6" y="401">129</text>
<text x="344.3" y="344.3">130</text>
<text x="340.2" y="350.5">131</text>
<text class="c" x="341.4" y="395.9">132</text>
<text x="409.5" y="272.2">133</text>
<text class="c" x="348.9" y="376.9">134</text>
<text x="350.6" y="327.1">135</text>
<text x="351.9" y="340.2">136</text>
<text class="c" x="345.9" y="393.3">137</text>
<text x="343" y="275.3">138</text>
<text x="388.5" y="253.6">139</text>
<text x="418.7" y="332.9">140</text>
<text x="350.6" y="353.3">141</text>
<text x="340.2" y="412.7">142</text>
<text x="340.9" y="331.2">143</text>
<text x="334.4" y="279.8">144</text>
<text x="321.6" y="357.5">145</text>
<text x="368.1" y="372.9">146</text>
<text x="401" y="352.2">147</text>
<text x="325" y="422.1">148</text>
<text class="c" x="352.3" y="382.5">149</text>
<text x="331.2" y="382.3">150</text>
<text x="334.7" y="422.1">151</text>
<text class="c" x="332" y="390.8">152</text>
<text x="372.7" y="407.5">153</text>
<text x="389.2" y="386.2">154</text>
<text x="327.8" y="351.2">155</text>
<text x="325.7" y="412">156</text>
<text x="356.8" y="380.2">157</text>
<text class="c" x="343.1" y="384.4">158</text>
<text x="349.2" y="311.6">159</text>
<text x="401" y="334.7">160</text>
<text x="410.6" y="320.8">161</text>
<text x="410.6" y="326.4">162</text>
<text class="c" x="348.5" y="386">163</text>
<text x="346.4" y="336">164</text>
<text class="c" x="337.9" y="389.8">165</text>
<text x="334.7" y="368.8">166</text>
<text x="379.6" y="359.9">167</text>
<text x="401" y="358.1">168</text>
<text class="c" x="339.3" y="407.5">169</text>
<text class="c" x="350.5" y="393.5">170</text>
</g>
<path d="M155.9 347.5 C157.8 349.7 163.4 356.3 167.4 360.3 C171.4 364.2 175.9 368.5 180.2 371.2 C184.4 374 187.8 375.6 192.9 376.7 C198.1 377.8 205.1 377.9 211.2 377.6 C217.2 377.3 223.3 376.1 229.4 374.9 C235.5 373.7 241.6 371.7 247.6 370.3 C253.7 369 260.4 367.3 265.9 366.7 C271.3 366.1 275.6 366.7 280.4 366.7 C285.3 366.7 290.2 366.5 295 366.7 C299.9 366.8 305.4 367.3 309.6 367.6 C313.9 367.9 316.6 368.5 320.6 368.5 C324.5 368.5 329.4 368 333.3 367.6 C337.3 367.1 340.3 366.8 344.3 365.8 C348.2 364.7 352.8 363.3 357 361.2 C361.3 359.1 365.5 356.2 369.8 353 C374 349.8 378.6 346 382.6 342.1 C386.5 338.1 389.8 333.9 393.5 329.3 C397.1 324.7 401.1 319.4 404.4 314.7 C407.8 310 411.2 304.7 413.5 301 C415.9 297.4 417.7 294.2 418.5 292.8 L418.5 349.4 C417.7 349.8 415.9 350.9 413.5 352.1 C411.2 353.3 407.8 355 404.4 356.7 C401.1 358.3 397.1 360.1 393.5 362.1 C389.8 364.1 386.5 366.4 382.6 368.5 C378.6 370.6 374 372.9 369.8 374.9 C365.5 376.9 361.3 378.8 357 380.4 C352.8 381.9 348.2 383.1 344.3 384 C340.3 384.9 337.3 385.7 333.3 385.8 C329.4 386 324.5 385.2 320.6 384.9 C316.6 384.6 313.9 384.2 309.6 384 C305.4 383.8 299.9 383.8 295 384 C290.2 384.2 285.3 384.3 280.4 384.9 C275.6 385.5 271.3 386.7 265.9 387.6 C260.4 388.6 253.7 389.7 247.6 390.4 C241.6 391.1 235.5 391.2 229.4 391.7 C223.3 392.1 217.2 392.6 211.2 393.1 C205.1 393.7 198.1 393.7 192.9 394.9 C187.8 396.2 184.4 398.1 180.2 400.4 C175.9 402.7 171.4 406 167.4 408.6 C163.4 411.2 157.8 414.7 155.9 415.9 Z" fill="#999999" fill-opacity="0.4"/>
<path d="M146.4 379.1 C148.7 379.6 155.4 381.3 160.1 382.2 C164.8 383.1 169.2 383.9 174.7 384.5 C180.2 385.2 186.9 385.7 192.9 385.8 C199 385.9 205.1 385.7 211.2 385.3 C217.2 384.8 223.3 384 229.4 383.1 C235.5 382.2 241.6 381.1 247.6 380 C253.7 378.9 260.4 377.5 265.9 376.7 C271.3 375.9 275.6 375.6 280.4 375.2 C285.3 374.9 290.2 374.9 295 374.9 C299.9 374.9 305.4 375.2 309.6 375.4 C313.9 375.6 316.6 375.9 320.6 376.2 C324.5 376.4 329.4 376.9 333.3 376.7 C337.3 376.5 340.3 375.9 344.3 374.9 C348.2 373.9 352.8 372.5 357 370.9 C361.3 369.2 365.5 367.2 369.8 364.9 C374 362.5 378.6 359.7 382.6 356.7 C386.5 353.6 389.8 350.3 393.5 346.6 C397.1 343 401.1 338.4 404.4 334.8 C407.8 331.1 411.2 327 413.5 324.7 C415.9 322.5 417.7 321.7 418.5 321.1" fill="none" stroke="#3366FF" stroke-width="1.65" stroke-linejoin="round"/>
<rect x="0" y="0" width="598.6" height="438.0" fill="none" stroke="#333" stroke-width="1.85"/>
<text class="tl" text-anchor="end" transform="translate(-7.6,25.4) scale(1,1)">0.7</text>
<text class="tl" text-anchor="end" transform="translate(-7.6,82.2) scale(1,1)">0.6</text>
<text class="tl" text-anchor="end" transform="translate(-7.6,139.1) scale(1,1)">0.5</text>
<text class="tl" text-anchor="end" transform="translate(-7.6,195.9) scale(1,1)">0.4</text>
<text class="tl" text-anchor="end" transform="translate(-7.6,252.8) scale(1,1)">0.3</text>
<text class="tl" text-anchor="end" transform="translate(-7.6,309.7) scale(1,1)">0.2</text>
<text class="tl" text-anchor="end" transform="translate(-7.6,366.5) scale(1,1)">0.1</text>
<text class="tl" text-anchor="end" transform="translate(-7.6,423.4) scale(1,1)">0.0</text>
<text class="tl" text-anchor="end" transform="translate(39.5,456.9) scale(1,1)">−100</text>
<text class="tl" text-anchor="end" transform="translate(103.4,456.9) scale(1,1)">−80</text>
<text class="tl" text-anchor="end" transform="translate(167.4,456.9) scale(1,1)">−60</text>
<text class="tl" text-anchor="end" transform="translate(231.3,456.9) scale(1,1)">−40</text>
<text class="tl" text-anchor="end" transform="translate(295.3,456.9) scale(1,1)">−20</text>
<text class="tl" text-anchor="end" transform="translate(359.2,456.9) scale(1,1)">0</text>
<text class="tl" text-anchor="end" transform="translate(423.1,456.9) scale(1,1)">20</text>
<text class="tl" text-anchor="end" transform="translate(487.1,456.9) scale(1,1)">40</text>
<text class="tl" text-anchor="end" transform="translate(551,456.9) scale(1,1)">60</text>
<path d="M-4.4 20.1 H0 M-4.4 76.9 H0 M-4.4 133.8 H0 M-4.4 190.6 H0 M-4.4 247.5 H0 M-4.4 304.4 H0 M-4.4 361.2 H0 M-4.4 418.1 H0 M27.5 438.0 v4.4 M91.4 438.0 v4.4 M155.4 438.0 v4.4 M219.3 438.0 v4.4 M283.3 438.0 v4.4 M347.2 438.0 v4.4 M411.1 438.0 v4.4 M475.1 438.0 v4.4 M539 438.0 v4.4" stroke="#333" stroke-width="1.8" fill="none"/>
<text class="at" text-anchor="end" x="387.5" y="475.6">Mobility (% changed)</text>
<text class="at" text-anchor="middle" transform="translate(-36.6,219) rotate(-90)">Case ratio</text>
<text class="ti" text-anchor="middle" x="299.3" y="-41.9">Estonia</text>
<text class="st" text-anchor="middle" x="299.3" y="-13.2">(All period)</text>
<text class="lt" x="520.8" y="32">Month</text>
<circle cx="533.8" cy="55.4" r="8.8" fill="#E41A1C" fill-opacity="0.3" stroke="#adadad" stroke-width="1.3"/>
<text class="ll" x="554.9" y="60.2">Mar</text>
<circle cx="533.8" cy="82" r="8.8" fill="#377EB8" fill-opacity="0.3" stroke="#adadad" stroke-width="1.3"/>
<text class="ll" x="554.9" y="86.8">Apr</text>
<circle cx="533.8" cy="108.5" r="8.8" fill="#4DAF4A" fill-opacity="0.3" stroke="#adadad" stroke-width="1.3"/>
<text class="ll" x="554.9" y="113.3">May</text>
<circle cx="533.8" cy="135.1" r="8.8" fill="#984EA3" fill-opacity="0.3" stroke="#adadad" stroke-width="1.3"/>
<text class="ll" x="554.9" y="139.9">Jun</text>
<circle cx="533.8" cy="161.6" r="8.8" fill="#FF7F00" fill-opacity="0.3" stroke="#adadad" stroke-width="1.3"/>
<text class="ll" x="554.9" y="166.4">Jul</text>
<circle cx="533.8" cy="188.2" r="8.8" fill="#FFFF33" fill-opacity="0.3" stroke="#adadad" stroke-width="1.3"/>
<text class="ll" x="554.9" y="193">Aug</text>
</g>
<g transform="translate(738,1821.3) scale(1.01)">
<g fill-opacity="0.3" stroke="#adadad" stroke-width="1.25">
<circle cx="270" cy="347.1" r="8.85" fill="#E41A1C"/>
<circle cx="221.1" cy="374.4" r="8.85" fill="#E41A1C"/>
<circle cx="223" cy="373.2" r="8.85" fill="#E41A1C"/>
<circle cx="202" cy="385.2" r="8.85" fill="#377EB8"/>
<circle cx="210.5" cy="390.7" r="8.85" fill="#377EB8"/>
<circle cx="209.2" cy="341.8" r="8.85" fill="#377EB8"/>
<circle cx="236" cy="331.2" r="8.85" fill="#377EB8"/>
<circle cx="235" cy="372.5" r="8.85" fill="#377EB8"/>
<circle cx="215.3" cy="359.8" r="8.85" fill="#377EB8"/>
<circle cx="206.8" cy="409.3" r="8.85" fill="#377EB8"/>
<circle cx="202.9" cy="395.9" r="8.85" fill="#377EB8"/>
<circle cx="209.8" cy="398.4" r="8.85" fill="#377EB8"/>
<circle cx="188.9" cy="400.5" r="8.85" fill="#377EB8"/>
<circle cx="209.6" cy="376.3" r="8.85" fill="#377EB8"/>
<circle cx="193.1" cy="378.2" r="8.85" fill="#377EB8"/>
<circle cx="183.9" cy="414.2" r="8.85" fill="#377EB8"/>
<circle cx="202.4" cy="404.5" r="8.85" fill="#377EB8"/>
<circle cx="192.5" cy="382.1" r="8.85" fill="#377EB8"/>
<circle cx="182.3" cy="392.2" r="8.85" fill="#377EB8"/>
<circle cx="174.7" cy="387.5" r="8.85" fill="#377EB8"/>
<circle cx="197" cy="407.3" r="8.85" fill="#377EB8"/>
<circle cx="208.1" cy="357.3" r="8.85" fill="#377EB8"/>
<circle cx="186.6" cy="394.8" r="8.85" fill="#377EB8"/>
<circle cx="213" cy="379.9" r="8.85" fill="#377EB8"/>
<circle cx="223" cy="395.4" r="8.85" fill="#377EB8"/>
<circle cx="212.6" cy="394.5" r="8.85" fill="#377EB8"/>
<circle cx="145.7" cy="369.3" r="8.85" fill="#377EB8"/>
<circle cx="198.2" cy="411.9" r="8.85" fill="#377EB8"/>
<circle cx="185.2" cy="366.8" r="8.85" fill="#377EB8"/>
<circle cx="250.9" cy="387.5" r="8.85" fill="#377EB8"/>
<circle cx="206.8" cy="392.6" r="8.85" fill="#377EB8"/>
<circle cx="201" cy="393.4" r="8.85" fill="#377EB8"/>
<circle cx="184.3" cy="398" r="8.85" fill="#377EB8"/>
<circle cx="205.8" cy="366.8" r="8.85" fill="#4DAF4A"/>
<circle cx="224.5" cy="406" r="8.85" fill="#4DAF4A"/>
<circle cx="217.5" cy="386.5" r="8.85" fill="#4DAF4A"/>
<circle cx="221.9" cy="415.7" r="8.85" fill="#4DAF4A"/>
<circle cx="228" cy="411.5" r="8.85" fill="#4DAF4A"/>
<circle cx="233.1" cy="390.3" r="8.85" fill="#4DAF4A"/>
<circle cx="228.6" cy="374.4" r="8.85" fill="#4DAF4A"/>
<circle cx="232.3" cy="408.7" r="8.85" fill="#4DAF4A"/>
<circle cx="242.9" cy="395.1" r="8.85" fill="#4DAF4A"/>
<circle cx="221.1" cy="408.7" r="8.85" fill="#4DAF4A"/>
<circle cx="226.1" cy="384" r="8.85" fill="#4DAF4A"/>
<circle cx="222.2" cy="385.6" r="8.85" fill="#4DAF4A"/>
<circle cx="230" cy="405.6" r="8.85" fill="#4DAF4A"/>
<circle cx="246.5" cy="385.2" r="8.85" fill="#4DAF4A"/>
<circle cx="167.4" cy="360.4" r="8.85" fill="#4DAF4A"/>
<circle cx="244.2" cy="354.7" r="8.85" fill="#4DAF4A"/>
<circle cx="262.4" cy="347.7" r="8.85" fill="#4DAF4A"/>
<circle cx="212.4" cy="386.8" r="8.85" fill="#4DAF4A"/>
<circle cx="218.3" cy="391.1" r="8.85" fill="#4DAF4A"/>
<circle cx="268.7" cy="368.1" r="8.85" fill="#4DAF4A"/>
<circle cx="261.1" cy="397.3" r="8.85" fill="#4DAF4A"/>
<circle cx="265.5" cy="375.7" r="8.85" fill="#4DAF4A"/>
<circle cx="288.4" cy="369.3" r="8.85" fill="#4DAF4A"/>
<circle cx="318.9" cy="327.2" r="8.85" fill="#4DAF4A"/>
<circle cx="259.2" cy="405.3" r="8.85" fill="#4DAF4A"/>
<circle cx="283.7" cy="411.9" r="8.85" fill="#4DAF4A"/>
<circle cx="276.3" cy="351.6" r="8.85" fill="#4DAF4A"/>
<circle cx="281.4" cy="380.1" r="8.85" fill="#4DAF4A"/>
<circle cx="273.8" cy="352.8" r="8.85" fill="#4DAF4A"/>
<circle cx="296.7" cy="369.3" r="8.85" fill="#4DAF4A"/>
<circle cx="292.8" cy="382.1" r="8.85" fill="#4DAF4A"/>
<circle cx="302.4" cy="394.4" r="8.85" fill="#984EA3"/>
<circle cx="302.8" cy="411.7" r="8.85" fill="#984EA3"/>
<circle cx="293.5" cy="351.8" r="8.85" fill="#984EA3"/>
<circle cx="301.7" cy="355.4" r="8.85" fill="#984EA3"/>
<circle cx="326.3" cy="307.1" r="8.85" fill="#984EA3"/>
</g>
<g class="pl">
<text x="270" y="351.1">14</text>
<text x="221.1" y="378.4">15</text>
<text x="223" y="377.1">16</text>
<text x="202" y="389.2">17</text>
<text class="c" x="210.5" y="394.7">18</text>
<text x="209.2" y="345.7">19</text>
<text x="236" y="335.2">20</text>
<text x="235" y="376.5">21</text>
<text x="215.3" y="363.8">22</text>
<text class="c" x="206.8" y="413.2">23</text>
<text class="c" x="202.9" y="399.9">24</text>
<text class="c" x="209.8" y="402.4">25</text>
<text x="188.9" y="404.4">26</text>
<text x="209.6" y="380.3">27</text>
<text x="193.1" y="382.2">28</text>
<text x="183.9" y="418.2">29</text>
<text class="c" x="202.4" y="408.4">30</text>
<text x="192.5" y="386">31</text>
<text x="182.3" y="396.2">32</text>
<text x="174.7" y="391.5">33</text>
<text class="c" x="197" y="411.2">34</text>
<text x="208.1" y="361.2">35</text>
<text class="c" x="186.6" y="398.7">36</text>
<text class="c" x="213" y="383.8">37</text>
<text x="223" y="399.3">38</text>
<text class="c" x="212.6" y="398.5">39</text>
<text x="145.7" y="373.3">40</text>
<text x="198.2" y="415.9">41</text>
<text x="185.2" y="370.8">42</text>
<text x="250.9" y="391.5">43</text>
<text class="c" x="206.8" y="396.5">44</text>
<text class="c" x="201" y="397.3">45</text>
<text class="c" x="184.3" y="402">46</text>
<text x="205.8" y="370.8">47</text>
<text class="c" x="224.5" y="410">48</text>
<text class="c" x="217.5" y="390.5">49</text>
<text x="221.9" y="419.7">50</text>
<text class="c" x="228" y="415.5">51</text>
<text x="233.1" y="394.3">52</text>
<text class="c" x="228.6" y="378.4">53</text>
<text class="c" x="232.3" y="412.6">54</text>
<text x="242.9" y="399.1">55</text>
<text class="c" x="221.1" y="412.6">56</text>
<text x="226.1" y="387.9">57</text>
<text class="c" x="222.2" y="389.5">58</text>
<text class="c" x="230" y="409.6">59</text>
<text x="246.5" y="389.2">60</text>
<text x="167.4" y="364.4">61</text>
<text x="244.2" y="358.7">62</text>
<text x="262.4" y="351.7">63</text>
<text class="c" x="212.4" y="390.8">64</text>
<text class="c" x="218.3" y="395">65</text>
<text x="268.7" y="372">66</text>
<text x="261.1" y="401.2">67</text>
<text x="265.5" y="379.6">68</text>
<text x="288.4" y="373.3">69</text>
<text x="318.9" y="331.1">70</text>
<text x="259.2" y="409.3">71</text>
<text x="283.7" y="415.9">72</text>
<text x="276.3" y="355.5">73</text>
<text x="281.4" y="384.1">74</text>
<text x="273.8" y="356.8">75</text>
<text x="296.7" y="373.3">76</text>
<text x="292.8" y="386">77</text>
<text x="302.4" y="398.3">78</text>
<text x="302.8" y="415.6">79</text>
<text x="300.5" y="423.5">80</text>
<text x="293.5" y="355.8">81</text>
<text x="301.7" y="359.3">82</text>
<text x="326.3" y="311">83</text>
</g>
<path d="M145.7 329.3 C147.7 332.5 153.4 342 157.5 348.4 C161.6 354.7 166 362.6 170.2 367.4 C174.5 372.3 178.7 375 182.9 377.6 C187.2 380.3 191.4 382.1 195.6 383.3 C199.9 384.6 204.1 385.1 208.3 385.2 C212.6 385.3 216.8 384.7 221.1 384 C225.3 383.2 230.2 382.3 233.8 380.8 C237.4 379.3 239.5 377.5 242.7 375.1 C245.8 372.6 249.9 368.6 252.8 366.2 C255.8 363.7 257.9 361.1 260.4 360.4 C263 359.8 265.1 361.8 268.1 362.4 C271 362.9 275.3 363.4 278.2 363.6 C281.2 363.8 283.1 364.5 285.9 363.6 C288.6 362.8 291.8 360.9 294.8 358.5 C297.7 356.2 300.7 353.2 303.7 349.6 C306.6 346 309.8 341.2 312.5 336.9 C315.3 332.7 317.9 327.8 320.2 324.2 C322.5 320.6 325.3 316.8 326.3 315.3 L326.3 365.5 C325.3 366 322.5 367.2 320.2 368.1 C317.9 368.9 315.3 369.4 312.5 370.6 C309.8 371.8 306.6 373.5 303.7 375.1 C300.7 376.6 297.7 378.9 294.8 380.1 C291.8 381.4 288.6 382.3 285.9 382.7 C283.1 383.1 281.2 382.9 278.2 382.7 C275.3 382.5 271 381.6 268.1 381.4 C265.1 381.2 263 381 260.4 381.4 C257.9 381.8 255.8 382.7 252.8 384 C249.9 385.2 245.8 387.7 242.7 389 C239.5 390.4 237.4 391.3 233.8 392.2 C230.2 393.2 225.3 394.1 221.1 394.8 C216.8 395.4 212.6 395.7 208.3 396 C204.1 396.3 199.9 396.7 195.6 396.7 C191.4 396.7 187.2 396.1 182.9 396 C178.7 395.9 174.5 395.6 170.2 396 C166 396.5 161.6 397.5 157.5 398.6 C153.4 399.6 147.7 401.7 145.7 402.4 Z" fill="#999999" fill-opacity="0.4"/>
<path d="M145.7 365.5 C147.7 367 153.4 371.7 157.5 374.4 C161.6 377.2 166 379.9 170.2 382.1 C174.5 384.2 178.7 385.8 182.9 387.1 C187.2 388.5 191.4 389.5 195.6 390.1 C199.9 390.6 204.1 390.7 208.3 390.6 C212.6 390.4 216.8 390 221.1 389.3 C225.3 388.6 230.2 387.6 233.8 386.5 C237.4 385.4 239.5 384.4 242.7 382.7 C245.8 381 249.9 378.2 252.8 376.3 C255.8 374.5 257.9 372.2 260.4 371.5 C263 370.8 265.1 371.5 268.1 371.9 C271 372.3 275.3 373.4 278.2 373.8 C281.2 374.2 283.1 374.6 285.9 374 C288.6 373.5 291.8 372.4 294.8 370.6 C297.7 368.9 300.7 366.5 303.7 363.6 C306.6 360.8 309.8 356.6 312.5 353.5 C315.3 350.3 317.9 347.3 320.2 344.6 C322.5 341.8 325.3 338.2 326.3 336.9" fill="none" stroke="#3366FF" stroke-width="1.65" stroke-linejoin="round"/>
<rect x="0" y="0" width="598.6" height="438.0" fill="none" stroke="#333" stroke-width="1.85"/>
<text class="tl" text-anchor="end" transform="translate(-7.6,25.4) scale(1,1)">0.7</text>
<text class="tl" text-anchor="end" transform="translate(-7.6,82.2) scale(1,1)">0.6</text>
<text class="tl" text-anchor="end" transform="translate(-7.6,139.1) scale(1,1)">0.5</text>
<text class="tl" text-anchor="end" transform="translate(-7.6,195.9) scale(1,1)">0.4</text>
<text class="tl" text-anchor="end" transform="translate(-7.6,252.8) scale(1,1)">0.3</text>
<text class="tl" text-anchor="end" transform="translate(-7.6,309.7) scale(1,1)">0.2</text>
<text class="tl" text-anchor="end" transform="translate(-7.6,366.5) scale(1,1)">0.1</text>
<text class="tl" text-anchor="end" transform="translate(-7.6,423.4) scale(1,1)">0.0</text>
<text class="tl" text-anchor="end" transform="translate(39.5,456.9) scale(1,1)">−100</text>
<text class="tl" text-anchor="end" transform="translate(103.4,456.9) scale(1,1)">−80</text>
<text class="tl" text-anchor="end" transform="translate(167.4,456.9) scale(1,1)">−60</text>
<text class="tl" text-anchor="end" transform="translate(231.3,456.9) scale(1,1)">−40</text>
<text class="tl" text-anchor="end" transform="translate(295.3,456.9) scale(1,1)">−20</text>
<text class="tl" text-anchor="end" transform="translate(359.2,456.9) scale(1,1)">0</text>
<text class="tl" text-anchor="end" transform="translate(423.1,456.9) scale(1,1)">20</text>
<text class="tl" text-anchor="end" transform="translate(487.1,456.9) scale(1,1)">40</text>
<text class="tl" text-anchor="end" transform="translate(551,456.9) scale(1,1)">60</text>
<path d="M-4.4 20.1 H0 M-4.4 76.9 H0 M-4.4 133.8 H0 M-4.4 190.6 H0 M-4.4 247.5 H0 M-4.4 304.4 H0 M-4.4 361.2 H0 M-4.4 418.1 H0 M27.5 438.0 v4.4 M91.4 438.0 v4.4 M155.4 438.0 v4.4 M219.3 438.0 v4.4 M283.3 438.0 v4.4 M347.2 438.0 v4.4 M411.1 438.0 v4.4 M475.1 438.0 v4.4 M539 438.0 v4.4" stroke="#333" stroke-width="1.8" fill="none"/>
<text class="at" text-anchor="end" x="387.5" y="475.6">Mobility (% changed)</text>
<text class="at" text-anchor="middle" transform="translate(-36.6,219) rotate(-90)">Case ratio</text>
<text class="ti" text-anchor="middle" x="299.3" y="-41.9">Estonia</text>
<text class="st" text-anchor="middle" x="299.3" y="-13.2">(Early phase)</text>
<text class="lt" x="521.6" y="58.5">Month</text>
<circle cx="533.8" cy="82" r="8.8" fill="#E41A1C" fill-opacity="0.3" stroke="#adadad" stroke-width="1.3"/>
<text class="ll" x="555.8" y="86.8">Mar</text>
<circle cx="533.8" cy="108.5" r="8.8" fill="#377EB8" fill-opacity="0.3" stroke="#adadad" stroke-width="1.3"/>
<text class="ll" x="555.8" y="113.3">Apr</text>
<circle cx="533.8" cy="135.1" r="8.8" fill="#4DAF4A" fill-opacity="0.3" stroke="#adadad" stroke-width="1.3"/>
<text class="ll" x="555.8" y="139.9">May</text>
<circle cx="533.8" cy="161.6" r="8.8" fill="#984EA3" fill-opacity="0.3" stroke="#adadad" stroke-width="1.3"/>
<text class="ll" x="555.8" y="166.4">Jun</text>
</g>
<g transform="translate(1407.3,1821.3) scale(1.01)">
<g fill-opacity="0.3" stroke="#adadad" stroke-width="1.25">
<circle cx="325.7" cy="309.3" r="8.85" fill="#800080"/>
<circle cx="319.5" cy="418.1" r="8.85" fill="#800080"/>
<circle cx="310.5" cy="377.7" r="8.85" fill="#800080"/>
<circle cx="308.4" cy="364.6" r="8.85" fill="#800080"/>
<circle cx="311.2" cy="382.5" r="8.85" fill="#800080"/>
<circle cx="328.5" cy="418.1" r="8.85" fill="#800080"/>
<circle cx="337.1" cy="398.1" r="8.85" fill="#800080"/>
<circle cx="331.4" cy="402.9" r="8.85" fill="#800080"/>
<circle cx="306.4" cy="406.7" r="8.85" fill="#800080"/>
<circle cx="337.4" cy="418.1" r="8.85" fill="#800080"/>
<circle cx="349.8" cy="405" r="8.85" fill="#800080"/>
<circle cx="367.1" cy="394.9" r="8.85" fill="#800080"/>
<circle cx="328.7" cy="412.7" r="8.85" fill="#800080"/>
<circle cx="345.7" cy="418.1" r="8.85" fill="#800080"/>
<circle cx="343.9" cy="400.5" r="8.85" fill="#800080"/>
<circle cx="373.4" cy="346.6" r="8.85" fill="#800080"/>
<circle cx="353.3" cy="418.1" r="8.85" fill="#800080"/>
<circle cx="333.3" cy="410.5" r="8.85" fill="#800080"/>
<circle cx="344.8" cy="374.9" r="8.85" fill="#FF7F00"/>
<circle cx="356.8" cy="418.1" r="8.85" fill="#FF7F00"/>
<circle cx="343" cy="386.5" r="8.85" fill="#FF7F00"/>
<circle cx="387.2" cy="370.5" r="8.85" fill="#FF7F00"/>
<circle cx="346.4" cy="394.3" r="8.85" fill="#FF7F00"/>
<circle cx="360.9" cy="418.1" r="8.85" fill="#FF7F00"/>
<circle cx="264" cy="374.2" r="8.85" fill="#FF7F00"/>
<circle cx="223.5" cy="374.2" r="8.85" fill="#FF7F00"/>
<circle cx="335.4" cy="189.8" r="8.85" fill="#FF7F00"/>
<circle cx="331.6" cy="249.6" r="8.85" fill="#FF7F00"/>
<circle cx="370.6" cy="377" r="8.85" fill="#FF7F00"/>
<circle cx="389.7" cy="397.4" r="8.85" fill="#FF7F00"/>
<circle cx="345.6" cy="412.7" r="8.85" fill="#FF7F00"/>
<circle cx="335.3" cy="390.2" r="8.85" fill="#FF7F00"/>
<circle cx="355.6" cy="408.8" r="8.85" fill="#FF7F00"/>
<circle cx="328.1" cy="390" r="8.85" fill="#FF7F00"/>
<circle cx="375" cy="339.4" r="8.85" fill="#FF7F00"/>
<circle cx="378.2" cy="397.7" r="8.85" fill="#FF7F00"/>
<circle cx="331.5" cy="396.8" r="8.85" fill="#FF7F00"/>
<circle cx="322.2" cy="397" r="8.85" fill="#FF7F00"/>
<circle cx="352.6" cy="397" r="8.85" fill="#FF7F00"/>
<circle cx="344.3" cy="340.4" r="8.85" fill="#FF7F00"/>
<circle cx="340.2" cy="346.6" r="8.85" fill="#FF7F00"/>
<circle cx="341.4" cy="392" r="8.85" fill="#FF7F00"/>
<circle cx="409.5" cy="268.3" r="8.85" fill="#FF7F00"/>
<circle cx="348.9" cy="373" r="8.85" fill="#FF7F00"/>
<circle cx="350.6" cy="323.1" r="8.85" fill="#FF7F00"/>
<circle cx="351.9" cy="336.2" r="8.85" fill="#FF7F00"/>
<circle cx="345.9" cy="389.3" r="8.85" fill="#FF7F00"/>
<circle cx="343" cy="271.3" r="8.85" fill="#FF7F00"/>
<circle cx="388.5" cy="249.6" r="8.85" fill="#FFFF33"/>
<circle cx="418.7" cy="328.9" r="8.85" fill="#FFFF33"/>
<circle cx="350.6" cy="349.4" r="8.85" fill="#FFFF33"/>
<circle cx="340.2" cy="408.8" r="8.85" fill="#FFFF33"/>
<circle cx="340.9" cy="327.3" r="8.85" fill="#FFFF33"/>
<circle cx="334.4" cy="275.9" r="8.85" fill="#FFFF33"/>
<circle cx="321.6" cy="353.5" r="8.85" fill="#FFFF33"/>
<circle cx="368.1" cy="369" r="8.85" fill="#FFFF33"/>
<circle cx="401" cy="348.3" r="8.85" fill="#FFFF33"/>
<circle cx="325" cy="418.1" r="8.85" fill="#FFFF33"/>
<circle cx="352.3" cy="378.6" r="8.85" fill="#FFFF33"/>
<circle cx="331.2" cy="378.4" r="8.85" fill="#FFFF33"/>
<circle cx="332" cy="386.9" r="8.85" fill="#FFFF33"/>
<circle cx="372.7" cy="403.5" r="8.85" fill="#FFFF33"/>
<circle cx="389.2" cy="382.2" r="8.85" fill="#FFFF33"/>
<circle cx="327.8" cy="347.3" r="8.85" fill="#FFFF33"/>
<circle cx="325.7" cy="408.1" r="8.85" fill="#FFFF33"/>
<circle cx="356.8" cy="376.3" r="8.85" fill="#FFFF33"/>
<circle cx="343.1" cy="380.4" r="8.85" fill="#FFFF33"/>
<circle cx="349.2" cy="307.6" r="8.85" fill="#FFFF33"/>
<circle cx="401" cy="330.7" r="8.85" fill="#FFFF33"/>
<circle cx="410.6" cy="316.9" r="8.85" fill="#FFFF33"/>
<circle cx="410.6" cy="322.4" r="8.85" fill="#FFFF33"/>
<circle cx="348.5" cy="382" r="8.85" fill="#FFFF33"/>
<circle cx="346.4" cy="332.1" r="8.85" fill="#FFFF33"/>
<circle cx="337.9" cy="385.8" r="8.85" fill="#FFFF33"/>
<circle cx="334.7" cy="364.8" r="8.85" fill="#FFFF33"/>
<circle cx="379.6" cy="356" r="8.85" fill="#FFFF33"/>
<circle cx="401" cy="354.2" r="8.85" fill="#FFFF33"/>
<circle cx="339.3" cy="403.5" r="8.85" fill="#FFFF33"/>
<circle cx="350.5" cy="389.5" r="8.85" fill="#FFFF33"/>
</g>
<g class="pl late">
<text x="325.7" y="313.3">84</text>
<text x="319.5" y="422.1">85</text>
<text x="310.5" y="381.6">86</text>
<text x="323.6" y="422.1">87</text>
<text x="308.4" y="368.5">88</text>
<text x="311.2" y="386.5">89</text>
<text x="328.5" y="422.1">90</text>
<text class="c" x="337.1" y="402.1">91</text>
<text x="332.6" y="422.1">92</text>
<text class="c" x="331.4" y="406.9">93</text>
<text x="357.5" y="422.1">94</text>
<text x="306.4" y="410.6">95</text>
<text x="337.4" y="422.1">96</text>
<text class="c" x="349.8" y="409">97</text>
<text x="367.1" y="398.9">98</text>
<text x="341.6" y="422.1">99</text>
<text class="c" x="328.7" y="416.7">100</text>
<text x="345.7" y="422.1">101</text>
<text class="c" x="343.9" y="404.4">102</text>
<text x="349.9" y="422.1">103</text>
<text x="373.4" y="350.5">104</text>
<text x="384.8" y="422.1">105</text>
<text x="353.3" y="422.1">106</text>
<text class="c" x="333.3" y="414.4">107</text>
<text class="c" x="344.8" y="378.9">108</text>
<text x="356.8" y="422.1">109</text>
<text class="c" x="343" y="390.4">110</text>
<text x="387.2" y="374.4">111</text>
<text class="c" x="346.4" y="398.3">112</text>
<text x="360.9" y="422.1">113</text>
<text x="264" y="378.2">114</text>
<text x="223.5" y="378.2">115</text>
<text x="335.4" y="193.8">116</text>
<text x="331.6" y="253.6">117</text>
<text x="370.6" y="380.9">118</text>
<text x="389.7" y="401.4">119</text>
<text x="344.3" y="422.1">120</text>
<text class="c" x="345.6" y="416.6">121</text>
<text class="c" x="335.3" y="394.1">122</text>
<text class="c" x="355.6" y="412.7">123</text>
<text class="c" x="328.1" y="394">124</text>
<text x="375" y="343.4">125</text>
<text x="378.2" y="401.7">126</text>
<text class="c" x="331.5" y="400.7">127</text>
<text x="322.2" y="401">128</text>
<text x="352.6" y="401">129</text>
<text x="344.3" y="344.3">130</text>
<text x="340.2" y="350.5">131</text>
<text class="c" x="341.4" y="395.9">132</text>
<text x="409.5" y="272.2">133</text>
<text class="c" x="348.9" y="376.9">134</text>
<text x="350.6" y="327.1">135</text>
<text x="351.9" y="340.2">136</text>
<text class="c" x="345.9" y="393.3">137</text>
<text x="343" y="275.3">138</text>
<text x="388.5" y="253.6">139</text>
<text x="418.7" y="332.9">140</text>
<text x="350.6" y="353.3">141</text>
<text x="340.2" y="412.7">142</text>
<text x="340.9" y="331.2">143</text>
<text x="334.4" y="279.8">144</text>
<text x="321.6" y="357.5">145</text>
<text x="368.1" y="372.9">146</text>
<text x="401" y="352.2">147</text>
<text x="325" y="422.1">148</text>
<text class="c" x="352.3" y="382.5">149</text>
<text x="331.2" y="382.3">150</text>
<text x="334.7" y="422.1">151</text>
<text class="c" x="332" y="390.8">152</text>
<text x="372.7" y="407.5">153</text>
<text x="389.2" y="386.2">154</text>
<text x="327.8" y="351.2">155</text>
<text x="325.7" y="412">156</text>
<text x="356.8" y="380.2">157</text>
<text class="c" x="343.1" y="384.4">158</text>
<text x="349.2" y="311.6">159</text>
<text x="401" y="334.7">160</text>
<text x="410.6" y="320.8">161</text>
<text x="410.6" y="326.4">162</text>
<text class="c" x="348.5" y="386">163</text>
<text x="346.4" y="336">164</text>
<text class="c" x="337.9" y="389.8">165</text>
<text x="334.7" y="368.8">166</text>
<text x="379.6" y="359.9">167</text>
<text x="401" y="358.1">168</text>
<text class="c" x="339.3" y="407.5">169</text>
<text class="c" x="350.5" y="393.5">170</text>
</g>
<path d="M310 358.6 C311.7 358.6 317.6 358.8 320.7 358.6 C323.8 358.5 325.9 358.1 328.5 357.8 C331 357.5 333.6 357.1 336.2 357 C338.8 356.8 341.4 356.6 343.9 357 C346.5 357.3 349.1 358.7 351.7 359.3 C354.2 359.9 356.8 360.7 359.4 360.8 C362 361 364.6 360.6 367.1 360.1 C369.7 359.6 372.5 359 374.9 357.8 C377.2 356.6 379.2 354.9 381.1 353.1 C383 351.3 384.7 349.3 386.5 347 C388.3 344.7 389.9 344.9 391.9 339.3 C393.8 333.7 396 321 398.2 313.4 C400.4 305.9 402.8 301.2 405.1 294.1 C407.4 287 409.8 278.5 412 270.6 C414.2 262.8 417.2 251.1 418.2 247.1 L418.2 351.4 C416.5 352 411 352.7 407.9 354.9 C404.8 357.1 402.5 361.4 399.6 364.6 C396.7 367.8 392.8 371.2 390.3 374.1 C387.9 377 386.8 379.2 385 381.8 C383.2 384.4 381.2 387 379.6 389.6 C377.9 392.1 376.7 395 374.9 397.3 C373.1 399.6 370.6 402.1 368.7 403.4 C366.7 404.7 365.1 405 363.3 405 C361.5 405 359.4 404.7 357.9 403.4 C356.3 402.1 355.3 399.6 354 397.3 C352.7 395 351.8 391.6 350.1 389.6 C348.5 387.5 346.3 385.9 343.9 384.9 C341.6 383.8 338.5 382.8 336.2 383.3 C333.9 383.8 331.7 386.1 330 387.9 C328.3 389.7 327.4 392.2 326.1 394.1 C324.8 396 323.8 398.3 322.2 399.5 C320.7 400.7 318.9 400.9 316.9 401.2 C314.8 401.4 311.1 401.2 310 401.2 Z" fill="#999999" fill-opacity="0.4"/>
<path d="M223.5 370.5 C225.4 371.7 231 375.2 235.2 377.7 C239.5 380.1 244.4 383.1 249 385.3 C253.6 387.5 258.2 389.4 262.9 390.8 C267.5 392.2 272.7 393 276.7 393.6 C280.6 394.1 282.9 394.4 286.3 394.2 C289.8 394.1 293.7 393.8 297.4 392.9 C301.1 391.9 305 390.5 308.4 388.7 C311.9 387 314.9 384.9 318.1 382.5 C321.3 380.1 325.2 376.3 327.8 374.2 C330.3 372.1 331.6 371.1 333.3 370.1 C335 369 336.5 367.9 338.1 368 C339.7 368.1 341.2 369.3 343 370.8 C344.7 372.3 346.6 375.3 348.5 377 C350.3 378.7 352.2 380.2 354 381.1 C355.9 382 357.5 382.5 359.5 382.5 C361.6 382.5 363.9 382.3 366.4 381.1 C369 380 372 378.1 374.7 375.6 C377.5 373.1 380.3 369.6 383 365.9 C385.8 362.3 388.8 357.6 391.3 353.5 C393.8 349.4 395.9 345.4 398.2 341.1 C400.5 336.7 402.8 332.1 405.1 327.3 C407.4 322.4 409.8 316.7 412 312.1 C414.2 307.5 417.2 301.7 418.2 299.6" fill="none" stroke="#3366FF" stroke-width="1.65" stroke-linejoin="round"/>
<rect x="0" y="0" width="598.6" height="438.0" fill="none" stroke="#333" stroke-width="1.85"/>
<text class="tl" text-anchor="end" transform="translate(-7.6,25.4) scale(1,1)">0.7</text>
<text class="tl" text-anchor="end" transform="translate(-7.6,82.2) scale(1,1)">0.6</text>
<text class="tl" text-anchor="end" transform="translate(-7.6,139.1) scale(1,1)">0.5</text>
<text class="tl" text-anchor="end" transform="translate(-7.6,195.9) scale(1,1)">0.4</text>
<text class="tl" text-anchor="end" transform="translate(-7.6,252.8) scale(1,1)">0.3</text>
<text class="tl" text-anchor="end" transform="translate(-7.6,309.7) scale(1,1)">0.2</text>
<text class="tl" text-anchor="end" transform="translate(-7.6,366.5) scale(1,1)">0.1</text>
<text class="tl" text-anchor="end" transform="translate(-7.6,423.4) scale(1,1)">0.0</text>
<text class="tl" text-anchor="end" transform="translate(39.5,456.9) scale(1,1)">−100</text>
<text class="tl" text-anchor="end" transform="translate(103.4,456.9) scale(1,1)">−80</text>
<text class="tl" text-anchor="end" transform="translate(167.4,456.9) scale(1,1)">−60</text>
<text class="tl" text-anchor="end" transform="translate(231.3,456.9) scale(1,1)">−40</text>
<text class="tl" text-anchor="end" transform="translate(295.3,456.9) scale(1,1)">−20</text>
<text class="tl" text-anchor="end" transform="translate(359.2,456.9) scale(1,1)">0</text>
<text class="tl" text-anchor="end" transform="translate(423.1,456.9) scale(1,1)">20</text>
<text class="tl" text-anchor="end" transform="translate(487.1,456.9) scale(1,1)">40</text>
<text class="tl" text-anchor="end" transform="translate(551,456.9) scale(1,1)">60</text>
<path d="M-4.4 20.1 H0 M-4.4 76.9 H0 M-4.4 133.8 H0 M-4.4 190.6 H0 M-4.4 247.5 H0 M-4.4 304.4 H0 M-4.4 361.2 H0 M-4.4 418.1 H0 M27.5 438.0 v4.4 M91.4 438.0 v4.4 M155.4 438.0 v4.4 M219.3 438.0 v4.4 M283.3 438.0 v4.4 M347.2 438.0 v4.4 M411.1 438.0 v4.4 M475.1 438.0 v4.4 M539 438.0 v4.4" stroke="#333" stroke-width="1.8" fill="none"/>
<text class="at" text-anchor="end" x="387.5" y="475.6">Mobility (% changed)</text>
<text class="at" text-anchor="middle" transform="translate(-36.6,219) rotate(-90)">Case ratio</text>
<text class="ti" text-anchor="middle" x="299.3" y="-41.9">Estonia</text>
<text class="st" text-anchor="middle" x="299.3" y="-13.2">(Late phase)</text>
<text class="lt" x="521.9" y="71.8">Month</text>
<circle cx="534.8" cy="95.2" r="8.8" fill="#800080" fill-opacity="0.3" stroke="#adadad" stroke-width="1.3"/>
<text class="ll" x="556.6" y="100">Jun</text>
<circle cx="534.8" cy="121.8" r="8.8" fill="#FF7F00" fill-opacity="0.3" stroke="#adadad" stroke-width="1.3"/>
<text class="ll" x="556.6" y="126.6">Jul</text>
<circle cx="534.8" cy="148.3" r="8.8" fill="#FFFF33" fill-opacity="0.3" stroke="#adadad" stroke-width="1.3"/>
<text class="ll" x="556.6" y="153.1">Aug</text>
</g>
</svg></body></html>
